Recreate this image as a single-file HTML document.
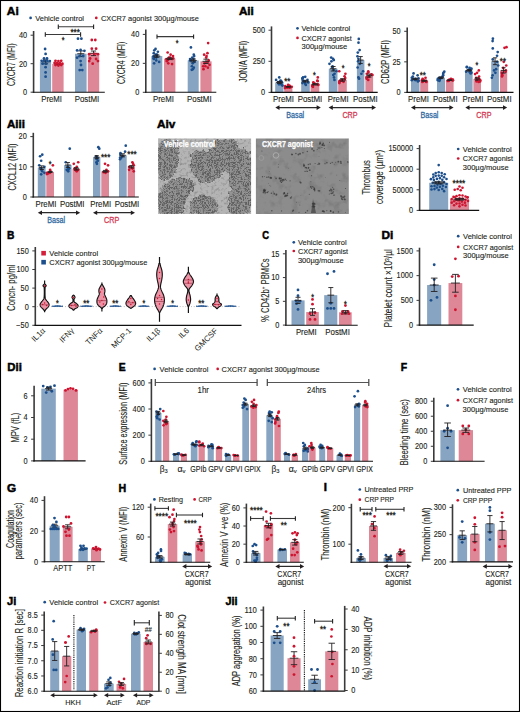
<!DOCTYPE html>
<html><head><meta charset="utf-8"><style>html,body{margin:0;padding:0;background:#fff;width:520px;height:712px;overflow:hidden;}</style></head><body>
<svg width="520" height="712" viewBox="0 0 520 712" style="position:absolute;left:0;top:0" font-family="&quot;Liberation Sans&quot;, sans-serif">
<rect x="0.00" y="0.00" width="520.00" height="712.00" fill="#fff"/>
<text x="6.85" y="15.20" font-size="11.6" fill="#000" font-weight="bold" textLength="11.899999999999999" lengthAdjust="spacingAndGlyphs" stroke="#000" stroke-width="0.5">Ai</text>
<circle cx="30.60" cy="17.90" r="1.35" fill="#1c4f8c"/>
<text x="35.20" y="20.59" font-size="7.8" fill="#231f20" stroke="#231f20" stroke-width="0.12" textLength="48.8" lengthAdjust="spacingAndGlyphs" >Vehicle control</text>
<circle cx="96.30" cy="17.90" r="1.35" fill="#cf1430"/>
<text x="100.90" y="20.59" font-size="7.8" fill="#231f20" stroke="#231f20" stroke-width="0.12" textLength="98" lengthAdjust="spacingAndGlyphs" >CXCR7 agonist 300µg/mouse</text>
<line x1="33.60" y1="31.00" x2="33.60" y2="92.70" stroke="#3a3a3a" stroke-width="1.6" />
<line x1="30.60" y1="92.20" x2="33.60" y2="92.20" stroke="#3a3a3a" stroke-width="1.0" />
<text x="27.10" y="95.03" font-size="8.2" fill="#231f20" stroke="#231f20" stroke-width="0.12" text-anchor="end" textLength="4.1" lengthAdjust="spacingAndGlyphs" >0</text>
<line x1="30.60" y1="63.70" x2="33.60" y2="63.70" stroke="#3a3a3a" stroke-width="1.0" />
<text x="27.10" y="66.53" font-size="8.2" fill="#231f20" stroke="#231f20" stroke-width="0.12" text-anchor="end" textLength="8.2" lengthAdjust="spacingAndGlyphs" >20</text>
<line x1="30.60" y1="35.20" x2="33.60" y2="35.20" stroke="#3a3a3a" stroke-width="1.0" />
<text x="27.10" y="38.03" font-size="8.2" fill="#231f20" stroke="#231f20" stroke-width="0.12" text-anchor="end" textLength="8.2" lengthAdjust="spacingAndGlyphs" >40</text>
<rect x="39.90" y="61.85" width="11.20" height="30.35" fill="#87a5c3"/>
<line x1="45.50" y1="59.85" x2="45.50" y2="63.84" stroke="#231f20" stroke-width="0.9" />
<line x1="42.90" y1="59.85" x2="48.10" y2="59.85" stroke="#231f20" stroke-width="0.9" />
<line x1="42.90" y1="63.84" x2="48.10" y2="63.84" stroke="#231f20" stroke-width="0.9" />
<line x1="41.99" y1="61.85" x2="49.01" y2="61.85" stroke="#231f20" stroke-width="0.9" />
<circle cx="45.10" cy="49.00" r="1.4" fill="#1c4f8c"/>
<circle cx="45.60" cy="53.90" r="1.4" fill="#1c4f8c"/>
<circle cx="44.00" cy="58.50" r="1.4" fill="#1c4f8c"/>
<circle cx="47.00" cy="58.50" r="1.4" fill="#1c4f8c"/>
<circle cx="41.60" cy="60.80" r="1.4" fill="#1c4f8c"/>
<circle cx="44.20" cy="60.80" r="1.4" fill="#1c4f8c"/>
<circle cx="47.30" cy="60.80" r="1.4" fill="#1c4f8c"/>
<circle cx="49.80" cy="61.10" r="1.4" fill="#1c4f8c"/>
<circle cx="42.50" cy="63.70" r="1.4" fill="#1c4f8c"/>
<circle cx="46.00" cy="63.70" r="1.4" fill="#1c4f8c"/>
<circle cx="45.60" cy="67.20" r="1.4" fill="#1c4f8c"/>
<circle cx="45.60" cy="72.40" r="1.4" fill="#1c4f8c"/>
<circle cx="45.60" cy="76.70" r="1.4" fill="#1c4f8c"/>
<rect x="52.20" y="63.98" width="11.40" height="28.22" fill="#de8797"/>
<line x1="57.90" y1="63.27" x2="57.90" y2="64.70" stroke="#231f20" stroke-width="0.9" />
<line x1="55.30" y1="63.27" x2="60.50" y2="63.27" stroke="#231f20" stroke-width="0.9" />
<line x1="55.30" y1="64.70" x2="60.50" y2="64.70" stroke="#231f20" stroke-width="0.9" />
<line x1="54.39" y1="63.98" x2="61.41" y2="63.98" stroke="#231f20" stroke-width="0.9" />
<circle cx="55.50" cy="60.80" r="1.4" fill="#cf1430"/>
<circle cx="58.40" cy="61.10" r="1.4" fill="#cf1430"/>
<circle cx="61.20" cy="60.80" r="1.4" fill="#cf1430"/>
<circle cx="54.60" cy="62.90" r="1.4" fill="#cf1430"/>
<circle cx="57.20" cy="63.20" r="1.4" fill="#cf1430"/>
<circle cx="59.80" cy="63.20" r="1.4" fill="#cf1430"/>
<circle cx="62.40" cy="63.70" r="1.4" fill="#cf1430"/>
<circle cx="55.50" cy="65.10" r="1.4" fill="#cf1430"/>
<circle cx="58.40" cy="65.50" r="1.4" fill="#cf1430"/>
<circle cx="61.20" cy="65.10" r="1.4" fill="#cf1430"/>
<rect x="75.00" y="53.73" width="11.60" height="38.48" fill="#87a5c3"/>
<line x1="80.80" y1="50.88" x2="80.80" y2="56.58" stroke="#231f20" stroke-width="0.9" />
<line x1="78.20" y1="50.88" x2="83.40" y2="50.88" stroke="#231f20" stroke-width="0.9" />
<line x1="78.20" y1="56.58" x2="83.40" y2="56.58" stroke="#231f20" stroke-width="0.9" />
<line x1="77.29" y1="53.73" x2="84.31" y2="53.73" stroke="#231f20" stroke-width="0.9" />
<circle cx="78.00" cy="38.70" r="1.4" fill="#1c4f8c"/>
<circle cx="81.40" cy="38.70" r="1.4" fill="#1c4f8c"/>
<circle cx="77.10" cy="50.40" r="1.4" fill="#1c4f8c"/>
<circle cx="80.60" cy="49.90" r="1.4" fill="#1c4f8c"/>
<circle cx="84.40" cy="50.80" r="1.4" fill="#1c4f8c"/>
<circle cx="79.70" cy="56.00" r="1.4" fill="#1c4f8c"/>
<circle cx="83.20" cy="56.00" r="1.4" fill="#1c4f8c"/>
<circle cx="77.10" cy="57.70" r="1.4" fill="#1c4f8c"/>
<circle cx="80.60" cy="61.10" r="1.4" fill="#1c4f8c"/>
<circle cx="79.70" cy="70.10" r="1.4" fill="#1c4f8c"/>
<circle cx="82.30" cy="70.10" r="1.4" fill="#1c4f8c"/>
<circle cx="81.00" cy="65.00" r="1.4" fill="#1c4f8c"/>
<rect x="87.80" y="53.30" width="11.40" height="38.90" fill="#de8797"/>
<line x1="93.50" y1="51.02" x2="93.50" y2="55.58" stroke="#231f20" stroke-width="0.9" />
<line x1="90.90" y1="51.02" x2="96.10" y2="51.02" stroke="#231f20" stroke-width="0.9" />
<line x1="90.90" y1="55.58" x2="96.10" y2="55.58" stroke="#231f20" stroke-width="0.9" />
<line x1="89.99" y1="53.30" x2="97.01" y2="53.30" stroke="#231f20" stroke-width="0.9" />
<circle cx="91.80" cy="40.00" r="1.4" fill="#cf1430"/>
<circle cx="95.30" cy="40.00" r="1.4" fill="#cf1430"/>
<circle cx="91.80" cy="48.70" r="1.4" fill="#cf1430"/>
<circle cx="96.10" cy="48.70" r="1.4" fill="#cf1430"/>
<circle cx="89.20" cy="54.20" r="1.4" fill="#cf1430"/>
<circle cx="94.40" cy="53.90" r="1.4" fill="#cf1430"/>
<circle cx="97.90" cy="54.20" r="1.4" fill="#cf1430"/>
<circle cx="90.10" cy="58.50" r="1.4" fill="#cf1430"/>
<circle cx="96.10" cy="59.00" r="1.4" fill="#cf1430"/>
<circle cx="89.20" cy="61.10" r="1.4" fill="#cf1430"/>
<circle cx="97.90" cy="61.10" r="1.4" fill="#cf1430"/>
<circle cx="92.70" cy="63.70" r="1.4" fill="#cf1430"/>
<line x1="32.80" y1="92.20" x2="104.80" y2="92.20" stroke="#111" stroke-width="1.1" />
<line x1="58.30" y1="26.70" x2="93.60" y2="26.70" stroke="#3a3a3a" stroke-width="1.1" />
<line x1="58.30" y1="24.50" x2="58.30" y2="28.90" stroke="#222" stroke-width="1.1" />
<line x1="93.60" y1="24.50" x2="93.60" y2="28.90" stroke="#222" stroke-width="1.1" />
<text x="75.20" y="35.35" font-size="9.0" fill="#231f20" stroke="#231f20" text-anchor="middle" textLength="9.450000000000001" lengthAdjust="spacingAndGlyphs" stroke-width="0.35">***</text>
<line x1="45.30" y1="34.50" x2="80.60" y2="34.50" stroke="#3a3a3a" stroke-width="1.1" />
<line x1="45.30" y1="32.30" x2="45.30" y2="36.70" stroke="#222" stroke-width="1.1" />
<line x1="80.60" y1="32.30" x2="80.60" y2="36.70" stroke="#222" stroke-width="1.1" />
<text x="63.10" y="42.95" font-size="9.0" fill="#231f20" stroke="#231f20" text-anchor="middle" textLength="2.75" lengthAdjust="spacingAndGlyphs" stroke-width="0.35">*</text>
<text x="51.60" y="101.90" font-size="8.4" fill="#231f20" stroke="#231f20" stroke-width="0.12" text-anchor="middle" textLength="20.8" lengthAdjust="spacingAndGlyphs" >PreMI</text>
<text x="87.00" y="101.90" font-size="8.4" fill="#231f20" stroke="#231f20" stroke-width="0.12" text-anchor="middle" textLength="24.6" lengthAdjust="spacingAndGlyphs" >PostMI</text>
<text transform="translate(15.20,64.70) rotate(-90)" font-size="10.0" fill="#231f20" text-anchor="middle" stroke="#231f20" stroke-width="0.12" textLength="42.5" lengthAdjust="spacingAndGlyphs">CXCR7 (MFI)</text>
<line x1="145.80" y1="29.50" x2="145.80" y2="92.80" stroke="#3a3a3a" stroke-width="1.6" />
<line x1="142.80" y1="92.30" x2="145.80" y2="92.30" stroke="#3a3a3a" stroke-width="1.0" />
<text x="139.30" y="95.13" font-size="8.2" fill="#231f20" stroke="#231f20" stroke-width="0.12" text-anchor="end" textLength="4.1" lengthAdjust="spacingAndGlyphs" >0</text>
<line x1="142.80" y1="63.35" x2="145.80" y2="63.35" stroke="#3a3a3a" stroke-width="1.0" />
<text x="139.30" y="66.18" font-size="8.2" fill="#231f20" stroke="#231f20" stroke-width="0.12" text-anchor="end" textLength="8.2" lengthAdjust="spacingAndGlyphs" >20</text>
<line x1="142.80" y1="34.40" x2="145.80" y2="34.40" stroke="#3a3a3a" stroke-width="1.0" />
<text x="139.30" y="37.23" font-size="8.2" fill="#231f20" stroke="#231f20" stroke-width="0.12" text-anchor="end" textLength="8.2" lengthAdjust="spacingAndGlyphs" >40</text>
<rect x="151.30" y="56.11" width="11.00" height="36.19" fill="#87a5c3"/>
<circle cx="155.54" cy="48.88" r="1.35" fill="#1c4f8c"/>
<circle cx="154.30" cy="50.32" r="1.35" fill="#1c4f8c"/>
<circle cx="157.88" cy="51.77" r="1.35" fill="#1c4f8c"/>
<circle cx="153.74" cy="53.22" r="1.35" fill="#1c4f8c"/>
<circle cx="157.06" cy="54.66" r="1.35" fill="#1c4f8c"/>
<circle cx="155.84" cy="54.66" r="1.35" fill="#1c4f8c"/>
<circle cx="153.64" cy="56.11" r="1.35" fill="#1c4f8c"/>
<circle cx="156.85" cy="56.11" r="1.35" fill="#1c4f8c"/>
<circle cx="153.49" cy="56.84" r="1.35" fill="#1c4f8c"/>
<circle cx="156.33" cy="57.56" r="1.35" fill="#1c4f8c"/>
<circle cx="153.72" cy="58.28" r="1.35" fill="#1c4f8c"/>
<circle cx="153.87" cy="59.01" r="1.35" fill="#1c4f8c"/>
<circle cx="156.26" cy="60.45" r="1.35" fill="#1c4f8c"/>
<circle cx="159.14" cy="61.90" r="1.35" fill="#1c4f8c"/>
<circle cx="154.11" cy="63.35" r="1.35" fill="#1c4f8c"/>
<line x1="156.80" y1="54.95" x2="156.80" y2="57.27" stroke="#231f20" stroke-width="0.9" />
<line x1="154.20" y1="54.95" x2="159.40" y2="54.95" stroke="#231f20" stroke-width="0.9" />
<line x1="154.20" y1="57.27" x2="159.40" y2="57.27" stroke="#231f20" stroke-width="0.9" />
<line x1="153.29" y1="56.11" x2="160.31" y2="56.11" stroke="#231f20" stroke-width="0.9" />
<rect x="164.00" y="58.72" width="11.40" height="33.58" fill="#de8797"/>
<circle cx="167.65" cy="52.49" r="1.35" fill="#cf1430"/>
<circle cx="170.64" cy="54.66" r="1.35" fill="#cf1430"/>
<circle cx="173.02" cy="56.11" r="1.35" fill="#cf1430"/>
<circle cx="170.27" cy="57.56" r="1.35" fill="#cf1430"/>
<circle cx="168.93" cy="57.56" r="1.35" fill="#cf1430"/>
<circle cx="173.23" cy="58.28" r="1.35" fill="#cf1430"/>
<circle cx="166.34" cy="59.01" r="1.35" fill="#cf1430"/>
<circle cx="172.36" cy="59.01" r="1.35" fill="#cf1430"/>
<circle cx="168.14" cy="59.73" r="1.35" fill="#cf1430"/>
<circle cx="167.06" cy="60.45" r="1.35" fill="#cf1430"/>
<circle cx="166.87" cy="61.18" r="1.35" fill="#cf1430"/>
<circle cx="168.28" cy="63.35" r="1.35" fill="#cf1430"/>
<circle cx="172.04" cy="64.07" r="1.35" fill="#cf1430"/>
<line x1="169.70" y1="57.85" x2="169.70" y2="59.59" stroke="#231f20" stroke-width="0.9" />
<line x1="167.10" y1="57.85" x2="172.30" y2="57.85" stroke="#231f20" stroke-width="0.9" />
<line x1="167.10" y1="59.59" x2="172.30" y2="59.59" stroke="#231f20" stroke-width="0.9" />
<line x1="166.19" y1="58.72" x2="173.21" y2="58.72" stroke="#231f20" stroke-width="0.9" />
<rect x="187.70" y="60.45" width="11.00" height="31.84" fill="#87a5c3"/>
<circle cx="190.92" cy="47.43" r="1.35" fill="#1c4f8c"/>
<circle cx="193.78" cy="54.66" r="1.35" fill="#1c4f8c"/>
<circle cx="194.19" cy="56.11" r="1.35" fill="#1c4f8c"/>
<circle cx="192.29" cy="57.56" r="1.35" fill="#1c4f8c"/>
<circle cx="193.54" cy="59.01" r="1.35" fill="#1c4f8c"/>
<circle cx="190.07" cy="59.01" r="1.35" fill="#1c4f8c"/>
<circle cx="190.05" cy="60.45" r="1.35" fill="#1c4f8c"/>
<circle cx="191.10" cy="60.45" r="1.35" fill="#1c4f8c"/>
<circle cx="194.49" cy="61.90" r="1.35" fill="#1c4f8c"/>
<circle cx="192.68" cy="63.35" r="1.35" fill="#1c4f8c"/>
<circle cx="191.87" cy="66.25" r="1.35" fill="#1c4f8c"/>
<circle cx="193.81" cy="67.69" r="1.35" fill="#1c4f8c"/>
<circle cx="192.87" cy="69.14" r="1.35" fill="#1c4f8c"/>
<circle cx="191.77" cy="69.86" r="1.35" fill="#1c4f8c"/>
<line x1="193.20" y1="59.01" x2="193.20" y2="61.90" stroke="#231f20" stroke-width="0.9" />
<line x1="190.60" y1="59.01" x2="195.80" y2="59.01" stroke="#231f20" stroke-width="0.9" />
<line x1="190.60" y1="61.90" x2="195.80" y2="61.90" stroke="#231f20" stroke-width="0.9" />
<line x1="189.69" y1="60.45" x2="196.71" y2="60.45" stroke="#231f20" stroke-width="0.9" />
<rect x="200.40" y="61.32" width="11.20" height="30.98" fill="#de8797"/>
<circle cx="208.14" cy="43.08" r="1.35" fill="#cf1430"/>
<circle cx="207.45" cy="53.22" r="1.35" fill="#cf1430"/>
<circle cx="204.14" cy="54.66" r="1.35" fill="#cf1430"/>
<circle cx="206.54" cy="56.11" r="1.35" fill="#cf1430"/>
<circle cx="206.18" cy="57.56" r="1.35" fill="#cf1430"/>
<circle cx="208.73" cy="60.45" r="1.35" fill="#cf1430"/>
<circle cx="207.67" cy="61.90" r="1.35" fill="#cf1430"/>
<circle cx="204.46" cy="63.35" r="1.35" fill="#cf1430"/>
<circle cx="209.50" cy="64.80" r="1.35" fill="#cf1430"/>
<circle cx="203.22" cy="66.25" r="1.35" fill="#cf1430"/>
<circle cx="205.40" cy="66.25" r="1.35" fill="#cf1430"/>
<circle cx="207.87" cy="67.69" r="1.35" fill="#cf1430"/>
<circle cx="203.47" cy="69.14" r="1.35" fill="#cf1430"/>
<line x1="206.00" y1="59.15" x2="206.00" y2="63.49" stroke="#231f20" stroke-width="0.9" />
<line x1="203.40" y1="59.15" x2="208.60" y2="59.15" stroke="#231f20" stroke-width="0.9" />
<line x1="203.40" y1="63.49" x2="208.60" y2="63.49" stroke="#231f20" stroke-width="0.9" />
<line x1="202.49" y1="61.32" x2="209.51" y2="61.32" stroke="#231f20" stroke-width="0.9" />
<line x1="145.00" y1="92.30" x2="216.30" y2="92.30" stroke="#111" stroke-width="1.1" />
<line x1="157.00" y1="36.60" x2="193.60" y2="36.60" stroke="#3a3a3a" stroke-width="1.1" />
<line x1="157.00" y1="34.40" x2="157.00" y2="38.80" stroke="#222" stroke-width="1.1" />
<line x1="193.60" y1="34.40" x2="193.60" y2="38.80" stroke="#222" stroke-width="1.1" />
<text x="177.00" y="46.35" font-size="9.0" fill="#231f20" stroke="#231f20" text-anchor="middle" textLength="2.75" lengthAdjust="spacingAndGlyphs" stroke-width="0.35">*</text>
<text x="163.40" y="101.90" font-size="8.4" fill="#231f20" stroke="#231f20" stroke-width="0.12" text-anchor="middle" textLength="20.8" lengthAdjust="spacingAndGlyphs" >PreMI</text>
<text x="199.30" y="101.90" font-size="8.4" fill="#231f20" stroke="#231f20" stroke-width="0.12" text-anchor="middle" textLength="24.6" lengthAdjust="spacingAndGlyphs" >PostMI</text>
<text transform="translate(125.40,62.90) rotate(-90)" font-size="10.0" fill="#231f20" text-anchor="middle" stroke="#231f20" stroke-width="0.12" textLength="42.3" lengthAdjust="spacingAndGlyphs">CXCR4 (MFI)</text>
<text x="238.95" y="15.20" font-size="11.6" fill="#000" font-weight="bold" textLength="14.899999999999999" lengthAdjust="spacingAndGlyphs" stroke="#000" stroke-width="0.5">Aii</text>
<line x1="271.50" y1="26.40" x2="271.50" y2="92.90" stroke="#3a3a3a" stroke-width="1.6" />
<line x1="268.50" y1="92.40" x2="271.50" y2="92.40" stroke="#3a3a3a" stroke-width="1.0" />
<text x="265.00" y="95.23" font-size="8.2" fill="#231f20" stroke="#231f20" stroke-width="0.12" text-anchor="end" textLength="4.1" lengthAdjust="spacingAndGlyphs" >0</text>
<line x1="268.50" y1="61.30" x2="271.50" y2="61.30" stroke="#3a3a3a" stroke-width="1.0" />
<text x="265.00" y="64.13" font-size="8.2" fill="#231f20" stroke="#231f20" stroke-width="0.12" text-anchor="end" textLength="12.3" lengthAdjust="spacingAndGlyphs" >250</text>
<line x1="268.50" y1="30.20" x2="271.50" y2="30.20" stroke="#3a3a3a" stroke-width="1.0" />
<text x="265.00" y="33.03" font-size="8.2" fill="#231f20" stroke="#231f20" stroke-width="0.12" text-anchor="end" textLength="12.3" lengthAdjust="spacingAndGlyphs" >500</text>
<rect x="275.20" y="82.45" width="8.30" height="9.95" fill="#87a5c3"/>
<circle cx="279.27" cy="77.47" r="1.35" fill="#1c4f8c"/>
<circle cx="276.10" cy="79.96" r="1.35" fill="#1c4f8c"/>
<circle cx="280.54" cy="80.58" r="1.35" fill="#1c4f8c"/>
<circle cx="281.22" cy="81.20" r="1.35" fill="#1c4f8c"/>
<circle cx="279.87" cy="81.83" r="1.35" fill="#1c4f8c"/>
<circle cx="282.00" cy="82.45" r="1.35" fill="#1c4f8c"/>
<circle cx="278.04" cy="82.45" r="1.35" fill="#1c4f8c"/>
<circle cx="280.73" cy="83.07" r="1.35" fill="#1c4f8c"/>
<circle cx="280.02" cy="83.69" r="1.35" fill="#1c4f8c"/>
<circle cx="279.91" cy="83.69" r="1.35" fill="#1c4f8c"/>
<circle cx="279.04" cy="84.31" r="1.35" fill="#1c4f8c"/>
<circle cx="281.75" cy="84.94" r="1.35" fill="#1c4f8c"/>
<circle cx="282.49" cy="85.56" r="1.35" fill="#1c4f8c"/>
<line x1="279.35" y1="81.45" x2="279.35" y2="83.44" stroke="#231f20" stroke-width="0.9" />
<line x1="277.03" y1="81.45" x2="281.67" y2="81.45" stroke="#231f20" stroke-width="0.9" />
<line x1="277.03" y1="83.44" x2="281.67" y2="83.44" stroke="#231f20" stroke-width="0.9" />
<line x1="276.21" y1="82.45" x2="282.49" y2="82.45" stroke="#231f20" stroke-width="0.9" />
<rect x="284.20" y="86.80" width="8.20" height="5.60" fill="#de8797"/>
<circle cx="288.12" cy="84.94" r="1.35" fill="#cf1430"/>
<circle cx="289.44" cy="85.56" r="1.35" fill="#cf1430"/>
<circle cx="285.24" cy="86.18" r="1.35" fill="#cf1430"/>
<circle cx="289.70" cy="86.43" r="1.35" fill="#cf1430"/>
<circle cx="289.33" cy="86.80" r="1.35" fill="#cf1430"/>
<circle cx="291.74" cy="86.80" r="1.35" fill="#cf1430"/>
<circle cx="290.54" cy="87.18" r="1.35" fill="#cf1430"/>
<circle cx="286.80" cy="87.42" r="1.35" fill="#cf1430"/>
<circle cx="287.50" cy="87.42" r="1.35" fill="#cf1430"/>
<circle cx="289.48" cy="87.67" r="1.35" fill="#cf1430"/>
<circle cx="284.97" cy="88.05" r="1.35" fill="#cf1430"/>
<line x1="288.30" y1="86.43" x2="288.30" y2="87.18" stroke="#231f20" stroke-width="0.9" />
<line x1="286.00" y1="86.43" x2="290.60" y2="86.43" stroke="#231f20" stroke-width="0.9" />
<line x1="286.00" y1="87.18" x2="290.60" y2="87.18" stroke="#231f20" stroke-width="0.9" />
<line x1="285.20" y1="86.80" x2="291.40" y2="86.80" stroke="#231f20" stroke-width="0.9" />
<rect x="301.20" y="81.20" width="8.60" height="11.20" fill="#87a5c3"/>
<circle cx="305.22" cy="76.85" r="1.35" fill="#1c4f8c"/>
<circle cx="303.07" cy="77.47" r="1.35" fill="#1c4f8c"/>
<circle cx="302.70" cy="78.09" r="1.35" fill="#1c4f8c"/>
<circle cx="302.28" cy="78.72" r="1.35" fill="#1c4f8c"/>
<circle cx="307.46" cy="79.96" r="1.35" fill="#1c4f8c"/>
<circle cx="302.79" cy="80.58" r="1.35" fill="#1c4f8c"/>
<circle cx="303.66" cy="81.20" r="1.35" fill="#1c4f8c"/>
<circle cx="304.70" cy="81.83" r="1.35" fill="#1c4f8c"/>
<circle cx="308.22" cy="82.45" r="1.35" fill="#1c4f8c"/>
<circle cx="302.43" cy="83.07" r="1.35" fill="#1c4f8c"/>
<circle cx="305.13" cy="83.69" r="1.35" fill="#1c4f8c"/>
<circle cx="305.86" cy="84.94" r="1.35" fill="#1c4f8c"/>
<line x1="305.50" y1="80.33" x2="305.50" y2="82.07" stroke="#231f20" stroke-width="0.9" />
<line x1="303.09" y1="80.33" x2="307.91" y2="80.33" stroke="#231f20" stroke-width="0.9" />
<line x1="303.09" y1="82.07" x2="307.91" y2="82.07" stroke="#231f20" stroke-width="0.9" />
<line x1="302.25" y1="81.20" x2="308.75" y2="81.20" stroke="#231f20" stroke-width="0.9" />
<rect x="310.60" y="84.31" width="8.70" height="8.09" fill="#de8797"/>
<circle cx="317.79" cy="77.47" r="1.35" fill="#cf1430"/>
<circle cx="317.31" cy="80.58" r="1.35" fill="#cf1430"/>
<circle cx="317.64" cy="81.20" r="1.35" fill="#cf1430"/>
<circle cx="313.31" cy="82.45" r="1.35" fill="#cf1430"/>
<circle cx="314.32" cy="83.07" r="1.35" fill="#cf1430"/>
<circle cx="313.91" cy="83.69" r="1.35" fill="#cf1430"/>
<circle cx="317.79" cy="84.31" r="1.35" fill="#cf1430"/>
<circle cx="318.33" cy="84.94" r="1.35" fill="#cf1430"/>
<circle cx="312.37" cy="85.56" r="1.35" fill="#cf1430"/>
<circle cx="312.56" cy="86.18" r="1.35" fill="#cf1430"/>
<circle cx="312.97" cy="86.80" r="1.35" fill="#cf1430"/>
<line x1="314.95" y1="83.57" x2="314.95" y2="85.06" stroke="#231f20" stroke-width="0.9" />
<line x1="312.51" y1="83.57" x2="317.39" y2="83.57" stroke="#231f20" stroke-width="0.9" />
<line x1="312.51" y1="85.06" x2="317.39" y2="85.06" stroke="#231f20" stroke-width="0.9" />
<line x1="311.66" y1="84.31" x2="318.24" y2="84.31" stroke="#231f20" stroke-width="0.9" />
<rect x="328.80" y="68.76" width="8.70" height="23.64" fill="#87a5c3"/>
<circle cx="331.18" cy="57.57" r="1.35" fill="#1c4f8c"/>
<circle cx="333.04" cy="58.81" r="1.35" fill="#1c4f8c"/>
<circle cx="333.81" cy="60.06" r="1.35" fill="#1c4f8c"/>
<circle cx="331.40" cy="61.30" r="1.35" fill="#1c4f8c"/>
<circle cx="329.48" cy="63.79" r="1.35" fill="#1c4f8c"/>
<circle cx="332.55" cy="66.28" r="1.35" fill="#1c4f8c"/>
<circle cx="332.18" cy="67.52" r="1.35" fill="#1c4f8c"/>
<circle cx="333.64" cy="70.01" r="1.35" fill="#1c4f8c"/>
<circle cx="336.50" cy="71.25" r="1.35" fill="#1c4f8c"/>
<circle cx="334.56" cy="73.74" r="1.35" fill="#1c4f8c"/>
<circle cx="333.26" cy="74.98" r="1.35" fill="#1c4f8c"/>
<circle cx="334.02" cy="77.47" r="1.35" fill="#1c4f8c"/>
<circle cx="334.45" cy="79.96" r="1.35" fill="#1c4f8c"/>
<line x1="333.15" y1="66.52" x2="333.15" y2="71.00" stroke="#231f20" stroke-width="0.9" />
<line x1="330.71" y1="66.52" x2="335.59" y2="66.52" stroke="#231f20" stroke-width="0.9" />
<line x1="330.71" y1="71.00" x2="335.59" y2="71.00" stroke="#231f20" stroke-width="0.9" />
<line x1="329.86" y1="68.76" x2="336.44" y2="68.76" stroke="#231f20" stroke-width="0.9" />
<rect x="338.20" y="79.96" width="8.60" height="12.44" fill="#de8797"/>
<circle cx="339.24" cy="71.25" r="1.35" fill="#cf1430"/>
<circle cx="345.42" cy="73.74" r="1.35" fill="#cf1430"/>
<circle cx="344.55" cy="76.23" r="1.35" fill="#cf1430"/>
<circle cx="345.24" cy="78.09" r="1.35" fill="#cf1430"/>
<circle cx="344.68" cy="79.34" r="1.35" fill="#cf1430"/>
<circle cx="341.71" cy="79.96" r="1.35" fill="#cf1430"/>
<circle cx="341.76" cy="80.58" r="1.35" fill="#cf1430"/>
<circle cx="339.60" cy="81.20" r="1.35" fill="#cf1430"/>
<circle cx="343.48" cy="81.83" r="1.35" fill="#cf1430"/>
<circle cx="339.30" cy="82.45" r="1.35" fill="#cf1430"/>
<circle cx="339.34" cy="83.07" r="1.35" fill="#cf1430"/>
<line x1="342.50" y1="78.72" x2="342.50" y2="81.20" stroke="#231f20" stroke-width="0.9" />
<line x1="340.09" y1="78.72" x2="344.91" y2="78.72" stroke="#231f20" stroke-width="0.9" />
<line x1="340.09" y1="81.20" x2="344.91" y2="81.20" stroke="#231f20" stroke-width="0.9" />
<line x1="339.25" y1="79.96" x2="345.75" y2="79.96" stroke="#231f20" stroke-width="0.9" />
<rect x="356.90" y="60.06" width="7.50" height="32.34" fill="#87a5c3"/>
<circle cx="358.79" cy="38.91" r="1.35" fill="#1c4f8c"/>
<circle cx="358.50" cy="42.64" r="1.35" fill="#1c4f8c"/>
<circle cx="359.63" cy="50.10" r="1.35" fill="#1c4f8c"/>
<circle cx="357.80" cy="52.59" r="1.35" fill="#1c4f8c"/>
<circle cx="357.46" cy="56.32" r="1.35" fill="#1c4f8c"/>
<circle cx="358.43" cy="58.81" r="1.35" fill="#1c4f8c"/>
<circle cx="358.11" cy="61.30" r="1.35" fill="#1c4f8c"/>
<circle cx="359.78" cy="63.79" r="1.35" fill="#1c4f8c"/>
<circle cx="357.63" cy="67.52" r="1.35" fill="#1c4f8c"/>
<circle cx="363.04" cy="71.25" r="1.35" fill="#1c4f8c"/>
<circle cx="361.38" cy="73.74" r="1.35" fill="#1c4f8c"/>
<circle cx="358.41" cy="77.47" r="1.35" fill="#1c4f8c"/>
<circle cx="359.07" cy="78.72" r="1.35" fill="#1c4f8c"/>
<line x1="360.65" y1="56.57" x2="360.65" y2="63.54" stroke="#231f20" stroke-width="0.9" />
<line x1="358.55" y1="56.57" x2="362.75" y2="56.57" stroke="#231f20" stroke-width="0.9" />
<line x1="358.55" y1="63.54" x2="362.75" y2="63.54" stroke="#231f20" stroke-width="0.9" />
<line x1="357.81" y1="60.06" x2="363.48" y2="60.06" stroke="#231f20" stroke-width="0.9" />
<rect x="365.40" y="75.61" width="7.70" height="16.79" fill="#de8797"/>
<circle cx="368.25" cy="71.25" r="1.35" fill="#cf1430"/>
<circle cx="368.36" cy="72.50" r="1.35" fill="#cf1430"/>
<circle cx="366.78" cy="73.74" r="1.35" fill="#cf1430"/>
<circle cx="371.53" cy="74.36" r="1.35" fill="#cf1430"/>
<circle cx="372.48" cy="74.98" r="1.35" fill="#cf1430"/>
<circle cx="369.03" cy="76.23" r="1.35" fill="#cf1430"/>
<circle cx="369.14" cy="76.85" r="1.35" fill="#cf1430"/>
<circle cx="366.54" cy="77.47" r="1.35" fill="#cf1430"/>
<circle cx="366.65" cy="78.72" r="1.35" fill="#cf1430"/>
<circle cx="368.22" cy="79.96" r="1.35" fill="#cf1430"/>
<line x1="369.25" y1="74.11" x2="369.25" y2="77.10" stroke="#231f20" stroke-width="0.9" />
<line x1="367.09" y1="74.11" x2="371.41" y2="74.11" stroke="#231f20" stroke-width="0.9" />
<line x1="367.09" y1="77.10" x2="371.41" y2="77.10" stroke="#231f20" stroke-width="0.9" />
<line x1="366.34" y1="75.61" x2="372.16" y2="75.61" stroke="#231f20" stroke-width="0.9" />
<line x1="270.70" y1="92.40" x2="377.70" y2="92.40" stroke="#111" stroke-width="1.1" />
<text x="287.30" y="83.65" font-size="9.0" fill="#231f20" stroke="#231f20" text-anchor="middle" textLength="6.1000000000000005" lengthAdjust="spacingAndGlyphs" stroke-width="0.35">**</text>
<text x="314.40" y="77.75" font-size="9.0" fill="#231f20" stroke="#231f20" text-anchor="middle" textLength="2.75" lengthAdjust="spacingAndGlyphs" stroke-width="0.35">*</text>
<text x="343.00" y="70.75" font-size="9.0" fill="#231f20" stroke="#231f20" text-anchor="middle" textLength="2.75" lengthAdjust="spacingAndGlyphs" stroke-width="0.35">*</text>
<text x="369.00" y="68.65" font-size="9.0" fill="#231f20" stroke="#231f20" text-anchor="middle" textLength="2.75" lengthAdjust="spacingAndGlyphs" stroke-width="0.35">*</text>
<text x="283.50" y="101.90" font-size="8.4" fill="#231f20" stroke="#231f20" stroke-width="0.12" text-anchor="middle" textLength="20.8" lengthAdjust="spacingAndGlyphs" >PreMI</text>
<text x="310.00" y="101.90" font-size="8.4" fill="#231f20" stroke="#231f20" stroke-width="0.12" text-anchor="middle" textLength="24.6" lengthAdjust="spacingAndGlyphs" >PostMI</text>
<text x="338.20" y="101.90" font-size="8.4" fill="#231f20" stroke="#231f20" stroke-width="0.12" text-anchor="middle" textLength="20.8" lengthAdjust="spacingAndGlyphs" >PreMI</text>
<text x="365.40" y="101.90" font-size="8.4" fill="#231f20" stroke="#231f20" stroke-width="0.12" text-anchor="middle" textLength="24.6" lengthAdjust="spacingAndGlyphs" >PostMI</text>
<line x1="277.82" y1="107.60" x2="318.28" y2="107.60" stroke="#2a2a2a" stroke-width="1.25" />
<path d="M275.30,107.60 L279.50,105.30 L279.50,109.90 Z" fill="#231f20"/>
<path d="M320.80,107.60 L316.60,105.30 L316.60,109.90 Z" fill="#231f20"/>
<line x1="331.12" y1="107.60" x2="373.48" y2="107.60" stroke="#2a2a2a" stroke-width="1.25" />
<path d="M328.60,107.60 L332.80,105.30 L332.80,109.90 Z" fill="#231f20"/>
<path d="M376.00,107.60 L371.80,105.30 L371.80,109.90 Z" fill="#231f20"/>
<text x="295.25" y="118.30" font-size="8.7" fill="#2f69a2" stroke="#2f69a2" text-anchor="middle" textLength="17.9" lengthAdjust="spacingAndGlyphs" stroke-width="0.3">Basal</text>
<text x="350.00" y="118.30" font-size="8.7" fill="#d43a56" stroke="#d43a56" text-anchor="middle" textLength="15.2" lengthAdjust="spacingAndGlyphs" stroke-width="0.3">CRP</text>
<text transform="translate(246.60,61.50) rotate(-90)" font-size="10.0" fill="#231f20" text-anchor="middle" stroke="#231f20" stroke-width="0.12" textLength="41.5" lengthAdjust="spacingAndGlyphs">JON/A (MFI)</text>
<circle cx="297.50" cy="28.30" r="1.35" fill="#1c4f8c"/>
<text x="301.50" y="30.99" font-size="7.8" fill="#231f20" stroke="#231f20" stroke-width="0.12" textLength="48.8" lengthAdjust="spacingAndGlyphs" >Vehicle control</text>
<circle cx="297.50" cy="37.90" r="1.35" fill="#cf1430"/>
<text x="301.50" y="40.59" font-size="7.8" fill="#231f20" stroke="#231f20" stroke-width="0.12" textLength="50.2" lengthAdjust="spacingAndGlyphs" >CXCR7 agonist</text>
<text x="301.50" y="49.49" font-size="7.8" fill="#231f20" stroke="#231f20" stroke-width="0.12" textLength="45.8" lengthAdjust="spacingAndGlyphs" >300µg/mouse</text>
<line x1="407.20" y1="27.40" x2="407.20" y2="92.90" stroke="#3a3a3a" stroke-width="1.6" />
<line x1="404.20" y1="92.40" x2="407.20" y2="92.40" stroke="#3a3a3a" stroke-width="1.0" />
<text x="400.70" y="95.23" font-size="8.2" fill="#231f20" stroke="#231f20" stroke-width="0.12" text-anchor="end" textLength="4.1" lengthAdjust="spacingAndGlyphs" >0</text>
<line x1="404.20" y1="61.85" x2="407.20" y2="61.85" stroke="#3a3a3a" stroke-width="1.0" />
<text x="400.70" y="64.68" font-size="8.2" fill="#231f20" stroke="#231f20" stroke-width="0.12" text-anchor="end" textLength="8.2" lengthAdjust="spacingAndGlyphs" >25</text>
<line x1="404.20" y1="31.30" x2="407.20" y2="31.30" stroke="#3a3a3a" stroke-width="1.0" />
<text x="400.70" y="34.13" font-size="8.2" fill="#231f20" stroke="#231f20" stroke-width="0.12" text-anchor="end" textLength="8.2" lengthAdjust="spacingAndGlyphs" >50</text>
<rect x="411.00" y="78.96" width="8.50" height="13.44" fill="#87a5c3"/>
<circle cx="413.55" cy="73.46" r="1.35" fill="#1c4f8c"/>
<circle cx="417.63" cy="75.29" r="1.35" fill="#1c4f8c"/>
<circle cx="412.80" cy="76.51" r="1.35" fill="#1c4f8c"/>
<circle cx="411.80" cy="77.74" r="1.35" fill="#1c4f8c"/>
<circle cx="418.51" cy="78.35" r="1.35" fill="#1c4f8c"/>
<circle cx="415.45" cy="78.96" r="1.35" fill="#1c4f8c"/>
<circle cx="412.70" cy="78.96" r="1.35" fill="#1c4f8c"/>
<circle cx="415.56" cy="79.57" r="1.35" fill="#1c4f8c"/>
<circle cx="411.83" cy="80.18" r="1.35" fill="#1c4f8c"/>
<circle cx="415.45" cy="80.18" r="1.35" fill="#1c4f8c"/>
<circle cx="418.71" cy="80.79" r="1.35" fill="#1c4f8c"/>
<circle cx="417.88" cy="81.40" r="1.35" fill="#1c4f8c"/>
<line x1="415.25" y1="78.22" x2="415.25" y2="79.69" stroke="#231f20" stroke-width="0.9" />
<line x1="412.87" y1="78.22" x2="417.63" y2="78.22" stroke="#231f20" stroke-width="0.9" />
<line x1="412.87" y1="79.69" x2="417.63" y2="79.69" stroke="#231f20" stroke-width="0.9" />
<line x1="412.04" y1="78.96" x2="418.46" y2="78.96" stroke="#231f20" stroke-width="0.9" />
<rect x="420.20" y="80.79" width="8.00" height="11.61" fill="#de8797"/>
<circle cx="425.53" cy="77.74" r="1.35" fill="#cf1430"/>
<circle cx="422.58" cy="78.96" r="1.35" fill="#cf1430"/>
<circle cx="423.29" cy="79.57" r="1.35" fill="#cf1430"/>
<circle cx="421.94" cy="80.18" r="1.35" fill="#cf1430"/>
<circle cx="426.05" cy="80.79" r="1.35" fill="#cf1430"/>
<circle cx="424.42" cy="80.79" r="1.35" fill="#cf1430"/>
<circle cx="426.10" cy="81.40" r="1.35" fill="#cf1430"/>
<circle cx="423.04" cy="81.40" r="1.35" fill="#cf1430"/>
<circle cx="422.32" cy="82.01" r="1.35" fill="#cf1430"/>
<circle cx="426.32" cy="82.01" r="1.35" fill="#cf1430"/>
<line x1="424.20" y1="80.30" x2="424.20" y2="81.28" stroke="#231f20" stroke-width="0.9" />
<line x1="421.96" y1="80.30" x2="426.44" y2="80.30" stroke="#231f20" stroke-width="0.9" />
<line x1="421.96" y1="81.28" x2="426.44" y2="81.28" stroke="#231f20" stroke-width="0.9" />
<line x1="421.18" y1="80.79" x2="427.22" y2="80.79" stroke="#231f20" stroke-width="0.9" />
<rect x="437.00" y="77.74" width="8.00" height="14.66" fill="#87a5c3"/>
<circle cx="444.30" cy="71.63" r="1.35" fill="#1c4f8c"/>
<circle cx="443.40" cy="72.85" r="1.35" fill="#1c4f8c"/>
<circle cx="443.08" cy="74.07" r="1.35" fill="#1c4f8c"/>
<circle cx="443.16" cy="75.29" r="1.35" fill="#1c4f8c"/>
<circle cx="442.63" cy="76.51" r="1.35" fill="#1c4f8c"/>
<circle cx="439.14" cy="77.74" r="1.35" fill="#1c4f8c"/>
<circle cx="441.12" cy="77.74" r="1.35" fill="#1c4f8c"/>
<circle cx="440.02" cy="78.96" r="1.35" fill="#1c4f8c"/>
<circle cx="437.80" cy="78.96" r="1.35" fill="#1c4f8c"/>
<circle cx="437.79" cy="80.18" r="1.35" fill="#1c4f8c"/>
<circle cx="439.50" cy="80.18" r="1.35" fill="#1c4f8c"/>
<circle cx="439.36" cy="80.79" r="1.35" fill="#1c4f8c"/>
<line x1="441.00" y1="76.88" x2="441.00" y2="78.59" stroke="#231f20" stroke-width="0.9" />
<line x1="438.76" y1="76.88" x2="443.24" y2="76.88" stroke="#231f20" stroke-width="0.9" />
<line x1="438.76" y1="78.59" x2="443.24" y2="78.59" stroke="#231f20" stroke-width="0.9" />
<line x1="437.98" y1="77.74" x2="444.02" y2="77.74" stroke="#231f20" stroke-width="0.9" />
<rect x="445.80" y="80.18" width="7.80" height="12.22" fill="#de8797"/>
<circle cx="450.98" cy="78.96" r="1.35" fill="#cf1430"/>
<circle cx="452.73" cy="79.57" r="1.35" fill="#cf1430"/>
<circle cx="449.35" cy="79.57" r="1.35" fill="#cf1430"/>
<circle cx="452.60" cy="80.18" r="1.35" fill="#cf1430"/>
<circle cx="452.94" cy="80.18" r="1.35" fill="#cf1430"/>
<circle cx="452.72" cy="80.18" r="1.35" fill="#cf1430"/>
<circle cx="448.80" cy="80.79" r="1.35" fill="#cf1430"/>
<circle cx="447.85" cy="80.79" r="1.35" fill="#cf1430"/>
<circle cx="447.89" cy="80.79" r="1.35" fill="#cf1430"/>
<line x1="449.70" y1="79.81" x2="449.70" y2="80.55" stroke="#231f20" stroke-width="0.9" />
<line x1="447.52" y1="79.81" x2="451.88" y2="79.81" stroke="#231f20" stroke-width="0.9" />
<line x1="447.52" y1="80.55" x2="451.88" y2="80.55" stroke="#231f20" stroke-width="0.9" />
<line x1="446.75" y1="80.18" x2="452.65" y2="80.18" stroke="#231f20" stroke-width="0.9" />
<rect x="465.00" y="70.40" width="7.60" height="22.00" fill="#87a5c3"/>
<circle cx="466.84" cy="66.74" r="1.35" fill="#1c4f8c"/>
<circle cx="466.89" cy="67.35" r="1.35" fill="#1c4f8c"/>
<circle cx="469.60" cy="67.96" r="1.35" fill="#1c4f8c"/>
<circle cx="471.39" cy="68.57" r="1.35" fill="#1c4f8c"/>
<circle cx="471.00" cy="69.18" r="1.35" fill="#1c4f8c"/>
<circle cx="468.67" cy="69.79" r="1.35" fill="#1c4f8c"/>
<circle cx="469.79" cy="70.40" r="1.35" fill="#1c4f8c"/>
<circle cx="470.74" cy="71.02" r="1.35" fill="#1c4f8c"/>
<circle cx="466.12" cy="71.63" r="1.35" fill="#1c4f8c"/>
<circle cx="469.84" cy="72.24" r="1.35" fill="#1c4f8c"/>
<circle cx="471.45" cy="72.85" r="1.35" fill="#1c4f8c"/>
<circle cx="470.62" cy="73.46" r="1.35" fill="#1c4f8c"/>
<line x1="468.80" y1="69.67" x2="468.80" y2="71.14" stroke="#231f20" stroke-width="0.9" />
<line x1="466.67" y1="69.67" x2="470.93" y2="69.67" stroke="#231f20" stroke-width="0.9" />
<line x1="466.67" y1="71.14" x2="470.93" y2="71.14" stroke="#231f20" stroke-width="0.9" />
<line x1="465.93" y1="70.40" x2="471.67" y2="70.40" stroke="#231f20" stroke-width="0.9" />
<rect x="473.40" y="78.96" width="7.60" height="13.44" fill="#de8797"/>
<circle cx="478.82" cy="70.40" r="1.35" fill="#cf1430"/>
<circle cx="477.06" cy="72.85" r="1.35" fill="#cf1430"/>
<circle cx="475.12" cy="74.07" r="1.35" fill="#cf1430"/>
<circle cx="479.07" cy="76.51" r="1.35" fill="#cf1430"/>
<circle cx="476.12" cy="77.74" r="1.35" fill="#cf1430"/>
<circle cx="479.14" cy="78.96" r="1.35" fill="#cf1430"/>
<circle cx="480.25" cy="80.18" r="1.35" fill="#cf1430"/>
<circle cx="476.53" cy="80.18" r="1.35" fill="#cf1430"/>
<circle cx="476.56" cy="81.40" r="1.35" fill="#cf1430"/>
<circle cx="480.09" cy="81.40" r="1.35" fill="#cf1430"/>
<circle cx="478.65" cy="82.01" r="1.35" fill="#cf1430"/>
<line x1="477.20" y1="77.74" x2="477.20" y2="80.18" stroke="#231f20" stroke-width="0.9" />
<line x1="475.07" y1="77.74" x2="479.33" y2="77.74" stroke="#231f20" stroke-width="0.9" />
<line x1="475.07" y1="80.18" x2="479.33" y2="80.18" stroke="#231f20" stroke-width="0.9" />
<line x1="474.33" y1="78.96" x2="480.07" y2="78.96" stroke="#231f20" stroke-width="0.9" />
<rect x="491.20" y="61.24" width="7.70" height="31.16" fill="#87a5c3"/>
<circle cx="492.89" cy="38.63" r="1.35" fill="#1c4f8c"/>
<circle cx="492.61" cy="41.08" r="1.35" fill="#1c4f8c"/>
<circle cx="492.77" cy="48.41" r="1.35" fill="#1c4f8c"/>
<circle cx="497.70" cy="52.07" r="1.35" fill="#1c4f8c"/>
<circle cx="497.06" cy="55.74" r="1.35" fill="#1c4f8c"/>
<circle cx="492.73" cy="59.41" r="1.35" fill="#1c4f8c"/>
<circle cx="497.19" cy="61.85" r="1.35" fill="#1c4f8c"/>
<circle cx="498.19" cy="65.52" r="1.35" fill="#1c4f8c"/>
<circle cx="496.08" cy="69.18" r="1.35" fill="#1c4f8c"/>
<circle cx="494.07" cy="70.40" r="1.35" fill="#1c4f8c"/>
<circle cx="495.37" cy="72.85" r="1.35" fill="#1c4f8c"/>
<circle cx="492.63" cy="75.29" r="1.35" fill="#1c4f8c"/>
<circle cx="491.87" cy="77.74" r="1.35" fill="#1c4f8c"/>
<line x1="495.05" y1="57.82" x2="495.05" y2="64.66" stroke="#231f20" stroke-width="0.9" />
<line x1="492.89" y1="57.82" x2="497.21" y2="57.82" stroke="#231f20" stroke-width="0.9" />
<line x1="492.89" y1="64.66" x2="497.21" y2="64.66" stroke="#231f20" stroke-width="0.9" />
<line x1="492.14" y1="61.24" x2="497.96" y2="61.24" stroke="#231f20" stroke-width="0.9" />
<rect x="500.00" y="70.40" width="7.20" height="22.00" fill="#de8797"/>
<circle cx="506.48" cy="47.19" r="1.35" fill="#cf1430"/>
<circle cx="504.52" cy="47.80" r="1.35" fill="#cf1430"/>
<circle cx="503.76" cy="61.85" r="1.35" fill="#cf1430"/>
<circle cx="506.25" cy="65.52" r="1.35" fill="#cf1430"/>
<circle cx="503.19" cy="67.96" r="1.35" fill="#cf1430"/>
<circle cx="505.88" cy="70.40" r="1.35" fill="#cf1430"/>
<circle cx="505.60" cy="71.63" r="1.35" fill="#cf1430"/>
<circle cx="501.83" cy="72.85" r="1.35" fill="#cf1430"/>
<circle cx="502.08" cy="74.07" r="1.35" fill="#cf1430"/>
<circle cx="502.33" cy="75.29" r="1.35" fill="#cf1430"/>
<circle cx="502.01" cy="76.51" r="1.35" fill="#cf1430"/>
<line x1="503.60" y1="67.72" x2="503.60" y2="73.09" stroke="#231f20" stroke-width="0.9" />
<line x1="501.58" y1="67.72" x2="505.62" y2="67.72" stroke="#231f20" stroke-width="0.9" />
<line x1="501.58" y1="73.09" x2="505.62" y2="73.09" stroke="#231f20" stroke-width="0.9" />
<line x1="500.88" y1="70.40" x2="506.32" y2="70.40" stroke="#231f20" stroke-width="0.9" />
<line x1="406.40" y1="92.40" x2="513.50" y2="92.40" stroke="#111" stroke-width="1.1" />
<text x="422.80" y="78.45" font-size="9.0" fill="#231f20" stroke="#231f20" text-anchor="middle" textLength="6.1000000000000005" lengthAdjust="spacingAndGlyphs" stroke-width="0.35">**</text>
<text x="476.80" y="67.65" font-size="9.0" fill="#231f20" stroke="#231f20" text-anchor="middle" textLength="2.75" lengthAdjust="spacingAndGlyphs" stroke-width="0.35">*</text>
<text x="502.90" y="64.15" font-size="9.0" fill="#231f20" stroke="#231f20" text-anchor="middle" textLength="6.1000000000000005" lengthAdjust="spacingAndGlyphs" stroke-width="0.35">**</text>
<text x="418.50" y="101.90" font-size="8.4" fill="#231f20" stroke="#231f20" stroke-width="0.12" text-anchor="middle" textLength="20.8" lengthAdjust="spacingAndGlyphs" >PreMI</text>
<text x="445.30" y="101.90" font-size="8.4" fill="#231f20" stroke="#231f20" stroke-width="0.12" text-anchor="middle" textLength="24.6" lengthAdjust="spacingAndGlyphs" >PostMI</text>
<text x="473.00" y="101.90" font-size="8.4" fill="#231f20" stroke="#231f20" stroke-width="0.12" text-anchor="middle" textLength="20.8" lengthAdjust="spacingAndGlyphs" >PreMI</text>
<text x="499.30" y="101.90" font-size="8.4" fill="#231f20" stroke="#231f20" stroke-width="0.12" text-anchor="middle" textLength="24.6" lengthAdjust="spacingAndGlyphs" >PostMI</text>
<line x1="413.52" y1="107.60" x2="451.08" y2="107.60" stroke="#2a2a2a" stroke-width="1.25" />
<path d="M411.00,107.60 L415.20,105.30 L415.20,109.90 Z" fill="#231f20"/>
<path d="M453.60,107.60 L449.40,105.30 L449.40,109.90 Z" fill="#231f20"/>
<line x1="467.82" y1="107.60" x2="504.68" y2="107.60" stroke="#2a2a2a" stroke-width="1.25" />
<path d="M465.30,107.60 L469.50,105.30 L469.50,109.90 Z" fill="#231f20"/>
<path d="M507.20,107.60 L503.00,105.30 L503.00,109.90 Z" fill="#231f20"/>
<text x="429.50" y="118.30" font-size="8.7" fill="#2f69a2" stroke="#2f69a2" text-anchor="middle" textLength="17.9" lengthAdjust="spacingAndGlyphs" stroke-width="0.3">Basal</text>
<text x="483.95" y="118.30" font-size="8.7" fill="#d43a56" stroke="#d43a56" text-anchor="middle" textLength="15.2" lengthAdjust="spacingAndGlyphs" stroke-width="0.3">CRP</text>
<text transform="translate(388.90,62.00) rotate(-90)" font-size="10.0" fill="#231f20" text-anchor="middle" stroke="#231f20" stroke-width="0.12" textLength="43.9" lengthAdjust="spacingAndGlyphs">CD62P (MFI)</text>
<text x="6.95" y="128.40" font-size="11.6" fill="#000" font-weight="bold" textLength="18.0" lengthAdjust="spacingAndGlyphs" stroke="#000" stroke-width="0.5">Aiii</text>
<line x1="33.30" y1="132.80" x2="33.30" y2="197.50" stroke="#3a3a3a" stroke-width="1.6" />
<line x1="30.30" y1="197.00" x2="33.30" y2="197.00" stroke="#3a3a3a" stroke-width="1.0" />
<text x="26.80" y="199.83" font-size="8.2" fill="#231f20" stroke="#231f20" stroke-width="0.12" text-anchor="end" textLength="4.1" lengthAdjust="spacingAndGlyphs" >0</text>
<line x1="30.30" y1="166.80" x2="33.30" y2="166.80" stroke="#3a3a3a" stroke-width="1.0" />
<text x="26.80" y="169.63" font-size="8.2" fill="#231f20" stroke="#231f20" stroke-width="0.12" text-anchor="end" textLength="8.2" lengthAdjust="spacingAndGlyphs" >10</text>
<line x1="30.30" y1="136.60" x2="33.30" y2="136.60" stroke="#3a3a3a" stroke-width="1.0" />
<text x="26.80" y="139.43" font-size="8.2" fill="#231f20" stroke="#231f20" stroke-width="0.12" text-anchor="end" textLength="8.2" lengthAdjust="spacingAndGlyphs" >20</text>
<rect x="37.80" y="167.71" width="7.80" height="29.29" fill="#87a5c3"/>
<circle cx="42.27" cy="154.72" r="1.35" fill="#1c4f8c"/>
<circle cx="40.10" cy="156.23" r="1.35" fill="#1c4f8c"/>
<circle cx="41.16" cy="160.76" r="1.35" fill="#1c4f8c"/>
<circle cx="39.25" cy="165.29" r="1.35" fill="#1c4f8c"/>
<circle cx="44.42" cy="166.80" r="1.35" fill="#1c4f8c"/>
<circle cx="40.73" cy="168.31" r="1.35" fill="#1c4f8c"/>
<circle cx="41.42" cy="169.82" r="1.35" fill="#1c4f8c"/>
<circle cx="42.25" cy="171.33" r="1.35" fill="#1c4f8c"/>
<circle cx="44.38" cy="172.84" r="1.35" fill="#1c4f8c"/>
<circle cx="41.17" cy="174.35" r="1.35" fill="#1c4f8c"/>
<line x1="41.70" y1="165.89" x2="41.70" y2="169.52" stroke="#231f20" stroke-width="0.9" />
<line x1="39.52" y1="165.89" x2="43.88" y2="165.89" stroke="#231f20" stroke-width="0.9" />
<line x1="39.52" y1="169.52" x2="43.88" y2="169.52" stroke="#231f20" stroke-width="0.9" />
<line x1="38.75" y1="167.71" x2="44.65" y2="167.71" stroke="#231f20" stroke-width="0.9" />
<rect x="46.30" y="171.93" width="7.70" height="25.07" fill="#de8797"/>
<circle cx="52.88" cy="165.29" r="1.35" fill="#cf1430"/>
<circle cx="50.16" cy="169.82" r="1.35" fill="#cf1430"/>
<circle cx="50.36" cy="171.33" r="1.35" fill="#cf1430"/>
<circle cx="50.30" cy="172.24" r="1.35" fill="#cf1430"/>
<circle cx="47.00" cy="172.84" r="1.35" fill="#cf1430"/>
<circle cx="49.76" cy="172.84" r="1.35" fill="#cf1430"/>
<circle cx="48.08" cy="173.44" r="1.35" fill="#cf1430"/>
<circle cx="46.90" cy="174.05" r="1.35" fill="#cf1430"/>
<line x1="50.15" y1="171.33" x2="50.15" y2="172.54" stroke="#231f20" stroke-width="0.9" />
<line x1="47.99" y1="171.33" x2="52.31" y2="171.33" stroke="#231f20" stroke-width="0.9" />
<line x1="47.99" y1="172.54" x2="52.31" y2="172.54" stroke="#231f20" stroke-width="0.9" />
<line x1="47.24" y1="171.93" x2="53.06" y2="171.93" stroke="#231f20" stroke-width="0.9" />
<rect x="64.10" y="164.99" width="7.50" height="32.01" fill="#87a5c3"/>
<circle cx="69.76" cy="148.68" r="1.35" fill="#1c4f8c"/>
<circle cx="65.76" cy="162.27" r="1.35" fill="#1c4f8c"/>
<circle cx="67.68" cy="166.80" r="1.35" fill="#1c4f8c"/>
<circle cx="69.29" cy="168.31" r="1.35" fill="#1c4f8c"/>
<circle cx="68.21" cy="169.22" r="1.35" fill="#1c4f8c"/>
<circle cx="66.74" cy="169.82" r="1.35" fill="#1c4f8c"/>
<circle cx="67.97" cy="170.42" r="1.35" fill="#1c4f8c"/>
<circle cx="68.20" cy="171.33" r="1.35" fill="#1c4f8c"/>
<line x1="67.85" y1="162.57" x2="67.85" y2="167.40" stroke="#231f20" stroke-width="0.9" />
<line x1="65.75" y1="162.57" x2="69.95" y2="162.57" stroke="#231f20" stroke-width="0.9" />
<line x1="65.75" y1="167.40" x2="69.95" y2="167.40" stroke="#231f20" stroke-width="0.9" />
<line x1="65.02" y1="164.99" x2="70.68" y2="164.99" stroke="#231f20" stroke-width="0.9" />
<rect x="72.50" y="168.91" width="7.70" height="28.09" fill="#de8797"/>
<circle cx="78.21" cy="162.27" r="1.35" fill="#cf1430"/>
<circle cx="73.77" cy="163.78" r="1.35" fill="#cf1430"/>
<circle cx="76.74" cy="166.80" r="1.35" fill="#cf1430"/>
<circle cx="74.70" cy="168.31" r="1.35" fill="#cf1430"/>
<circle cx="74.89" cy="169.82" r="1.35" fill="#cf1430"/>
<circle cx="78.13" cy="169.82" r="1.35" fill="#cf1430"/>
<circle cx="76.40" cy="170.42" r="1.35" fill="#cf1430"/>
<circle cx="76.75" cy="171.33" r="1.35" fill="#cf1430"/>
<line x1="76.35" y1="167.71" x2="76.35" y2="170.12" stroke="#231f20" stroke-width="0.9" />
<line x1="74.19" y1="167.71" x2="78.51" y2="167.71" stroke="#231f20" stroke-width="0.9" />
<line x1="74.19" y1="170.12" x2="78.51" y2="170.12" stroke="#231f20" stroke-width="0.9" />
<line x1="73.44" y1="168.91" x2="79.26" y2="168.91" stroke="#231f20" stroke-width="0.9" />
<rect x="93.00" y="157.14" width="7.40" height="39.86" fill="#87a5c3"/>
<circle cx="98.34" cy="147.17" r="1.35" fill="#1c4f8c"/>
<circle cx="99.29" cy="148.68" r="1.35" fill="#1c4f8c"/>
<circle cx="96.34" cy="156.23" r="1.35" fill="#1c4f8c"/>
<circle cx="97.41" cy="157.74" r="1.35" fill="#1c4f8c"/>
<circle cx="96.73" cy="157.74" r="1.35" fill="#1c4f8c"/>
<circle cx="96.78" cy="159.25" r="1.35" fill="#1c4f8c"/>
<circle cx="97.91" cy="160.76" r="1.35" fill="#1c4f8c"/>
<circle cx="96.40" cy="162.27" r="1.35" fill="#1c4f8c"/>
<circle cx="96.91" cy="163.78" r="1.35" fill="#1c4f8c"/>
<line x1="96.70" y1="155.63" x2="96.70" y2="158.65" stroke="#231f20" stroke-width="0.9" />
<line x1="94.63" y1="155.63" x2="98.77" y2="155.63" stroke="#231f20" stroke-width="0.9" />
<line x1="94.63" y1="158.65" x2="98.77" y2="158.65" stroke="#231f20" stroke-width="0.9" />
<line x1="93.90" y1="157.14" x2="99.50" y2="157.14" stroke="#231f20" stroke-width="0.9" />
<rect x="101.30" y="171.33" width="7.70" height="25.67" fill="#de8797"/>
<circle cx="105.01" cy="163.78" r="1.35" fill="#cf1430"/>
<circle cx="108.04" cy="165.29" r="1.35" fill="#cf1430"/>
<circle cx="106.45" cy="169.82" r="1.35" fill="#cf1430"/>
<circle cx="107.61" cy="171.33" r="1.35" fill="#cf1430"/>
<circle cx="108.04" cy="171.33" r="1.35" fill="#cf1430"/>
<circle cx="103.58" cy="172.24" r="1.35" fill="#cf1430"/>
<circle cx="105.54" cy="172.84" r="1.35" fill="#cf1430"/>
<line x1="105.15" y1="170.42" x2="105.15" y2="172.24" stroke="#231f20" stroke-width="0.9" />
<line x1="102.99" y1="170.42" x2="107.31" y2="170.42" stroke="#231f20" stroke-width="0.9" />
<line x1="102.99" y1="172.24" x2="107.31" y2="172.24" stroke="#231f20" stroke-width="0.9" />
<line x1="102.24" y1="171.33" x2="108.06" y2="171.33" stroke="#231f20" stroke-width="0.9" />
<rect x="119.00" y="155.32" width="7.70" height="41.68" fill="#87a5c3"/>
<circle cx="125.75" cy="145.66" r="1.35" fill="#1c4f8c"/>
<circle cx="125.08" cy="151.70" r="1.35" fill="#1c4f8c"/>
<circle cx="120.48" cy="153.21" r="1.35" fill="#1c4f8c"/>
<circle cx="120.37" cy="154.72" r="1.35" fill="#1c4f8c"/>
<circle cx="122.47" cy="156.23" r="1.35" fill="#1c4f8c"/>
<circle cx="120.05" cy="157.74" r="1.35" fill="#1c4f8c"/>
<circle cx="121.15" cy="157.74" r="1.35" fill="#1c4f8c"/>
<circle cx="120.06" cy="159.25" r="1.35" fill="#1c4f8c"/>
<line x1="122.85" y1="153.81" x2="122.85" y2="156.83" stroke="#231f20" stroke-width="0.9" />
<line x1="120.69" y1="153.81" x2="125.01" y2="153.81" stroke="#231f20" stroke-width="0.9" />
<line x1="120.69" y1="156.83" x2="125.01" y2="156.83" stroke="#231f20" stroke-width="0.9" />
<line x1="119.94" y1="155.32" x2="125.76" y2="155.32" stroke="#231f20" stroke-width="0.9" />
<rect x="127.70" y="166.80" width="7.30" height="30.20" fill="#de8797"/>
<circle cx="132.40" cy="162.27" r="1.35" fill="#cf1430"/>
<circle cx="133.11" cy="163.78" r="1.35" fill="#cf1430"/>
<circle cx="133.81" cy="165.29" r="1.35" fill="#cf1430"/>
<circle cx="129.21" cy="166.80" r="1.35" fill="#cf1430"/>
<circle cx="132.69" cy="168.31" r="1.35" fill="#cf1430"/>
<circle cx="132.34" cy="168.31" r="1.35" fill="#cf1430"/>
<circle cx="129.13" cy="169.82" r="1.35" fill="#cf1430"/>
<circle cx="133.73" cy="171.33" r="1.35" fill="#cf1430"/>
<line x1="131.35" y1="165.59" x2="131.35" y2="168.01" stroke="#231f20" stroke-width="0.9" />
<line x1="129.31" y1="165.59" x2="133.39" y2="165.59" stroke="#231f20" stroke-width="0.9" />
<line x1="129.31" y1="168.01" x2="133.39" y2="168.01" stroke="#231f20" stroke-width="0.9" />
<line x1="128.59" y1="166.80" x2="134.11" y2="166.80" stroke="#231f20" stroke-width="0.9" />
<line x1="32.50" y1="197.00" x2="138.80" y2="197.00" stroke="#111" stroke-width="1.1" />
<text x="50.20" y="167.45" font-size="9.0" fill="#231f20" stroke="#231f20" text-anchor="middle" textLength="2.75" lengthAdjust="spacingAndGlyphs" stroke-width="0.35">*</text>
<text x="105.60" y="159.95" font-size="9.0" fill="#231f20" stroke="#231f20" text-anchor="middle" textLength="9.450000000000001" lengthAdjust="spacingAndGlyphs" stroke-width="0.35">***</text>
<text x="132.00" y="157.45" font-size="9.0" fill="#231f20" stroke="#231f20" text-anchor="middle" textLength="9.450000000000001" lengthAdjust="spacingAndGlyphs" stroke-width="0.35">***</text>
<text x="45.90" y="207.20" font-size="8.4" fill="#231f20" stroke="#231f20" stroke-width="0.12" text-anchor="middle" textLength="20.8" lengthAdjust="spacingAndGlyphs" >PreMI</text>
<text x="72.20" y="207.20" font-size="8.4" fill="#231f20" stroke="#231f20" stroke-width="0.12" text-anchor="middle" textLength="24.6" lengthAdjust="spacingAndGlyphs" >PostMI</text>
<text x="100.70" y="207.20" font-size="8.4" fill="#231f20" stroke="#231f20" stroke-width="0.12" text-anchor="middle" textLength="20.8" lengthAdjust="spacingAndGlyphs" >PreMI</text>
<text x="127.00" y="207.20" font-size="8.4" fill="#231f20" stroke="#231f20" stroke-width="0.12" text-anchor="middle" textLength="24.6" lengthAdjust="spacingAndGlyphs" >PostMI</text>
<line x1="40.32" y1="212.70" x2="77.68" y2="212.70" stroke="#2a2a2a" stroke-width="1.25" />
<path d="M37.80,212.70 L42.00,210.40 L42.00,215.00 Z" fill="#231f20"/>
<path d="M80.20,212.70 L76.00,210.40 L76.00,215.00 Z" fill="#231f20"/>
<line x1="95.52" y1="212.70" x2="132.48" y2="212.70" stroke="#2a2a2a" stroke-width="1.25" />
<path d="M93.00,212.70 L97.20,210.40 L97.20,215.00 Z" fill="#231f20"/>
<path d="M135.00,212.70 L130.80,210.40 L130.80,215.00 Z" fill="#231f20"/>
<text x="56.20" y="223.00" font-size="8.7" fill="#2f69a2" stroke="#2f69a2" text-anchor="middle" textLength="17.9" lengthAdjust="spacingAndGlyphs" stroke-width="0.3">Basal</text>
<text x="111.70" y="223.00" font-size="8.7" fill="#d43a56" stroke="#d43a56" text-anchor="middle" textLength="15.2" lengthAdjust="spacingAndGlyphs" stroke-width="0.3">CRP</text>
<text transform="translate(15.60,167.00) rotate(-90)" font-size="10.0" fill="#231f20" text-anchor="middle" stroke="#231f20" stroke-width="0.12" textLength="47.0" lengthAdjust="spacingAndGlyphs">CXCL12 (MFI)</text>
<text x="156.95" y="128.20" font-size="11.6" fill="#000" font-weight="bold" textLength="18.4" lengthAdjust="spacingAndGlyphs" stroke="#000" stroke-width="0.5">Aiv</text>
<defs>
<filter id="rough" x="0" y="0" width="100%" height="100%" color-interpolation-filters="sRGB">
  <feTurbulence type="fractalNoise" baseFrequency="0.2" numOctaves="2" seed="2" result="warp"/>
  <feDisplacementMap in="SourceGraphic" in2="warp" scale="6" xChannelSelector="R" yChannelSelector="G" result="d0"/>
  <feGaussianBlur in="d0" stdDeviation="0.6" result="d1"/>
  <feComponentTransfer in="d1" result="d"><feFuncA type="linear" slope="3" intercept="-1"/></feComponentTransfer>
  <feTurbulence type="fractalNoise" baseFrequency="0.42" numOctaves="2" seed="9" result="n"/>
  <feColorMatrix in="n" type="matrix" values="2.5 0 0 0 -0.75  2.5 0 0 0 -0.75  2.5 0 0 0 -0.75  0 0 0 0 1" result="g"/>
  <feComponentTransfer in="g" result="g2"><feFuncR type="table" tableValues="0.62 0.72 0.92 1 0.92 0.72 0.62"/><feFuncG type="table" tableValues="0.62 0.72 0.92 1 0.92 0.72 0.62"/><feFuncB type="table" tableValues="0.62 0.72 0.92 1 0.92 0.72 0.62"/></feComponentTransfer>
  <feBlend in="g2" in2="d" mode="multiply" result="m"/>
  <feComposite in="m" in2="d" operator="in"/>
</filter>
<filter id="bgn" x="0" y="0" width="100%" height="100%" color-interpolation-filters="sRGB">
  <feTurbulence type="fractalNoise" baseFrequency="0.35" numOctaves="2" seed="4" result="n"/>
  <feColorMatrix in="n" type="matrix" values="1 0 0 0 0  1 0 0 0 0  1 0 0 0 0  0 0 0 0 1" result="g"/>
  <feComponentTransfer in="g" result="g2"><feFuncR type="linear" slope="0.6" intercept="0.7"/><feFuncG type="linear" slope="0.6" intercept="0.7"/><feFuncB type="linear" slope="0.6" intercept="0.7"/></feComponentTransfer>
  <feBlend in="g2" in2="SourceGraphic" mode="multiply" result="m"/>
  <feComposite in="m" in2="SourceGraphic" operator="in"/>
</filter>
<filter id="bgn2" x="0" y="0" width="100%" height="100%" color-interpolation-filters="sRGB">
  <feTurbulence type="fractalNoise" baseFrequency="0.12" numOctaves="3" seed="6" result="n"/>
  <feColorMatrix in="n" type="matrix" values="1 0 0 0 0  1 0 0 0 0  1 0 0 0 0  0 0 0 0 1" result="g"/>
  <feComponentTransfer in="g" result="g2"><feFuncR type="linear" slope="0.35" intercept="0.83"/><feFuncG type="linear" slope="0.35" intercept="0.83"/><feFuncB type="linear" slope="0.35" intercept="0.83"/></feComponentTransfer>
  <feBlend in="g2" in2="SourceGraphic" mode="multiply" result="m"/>
  <feComposite in="m" in2="SourceGraphic" operator="in"/>
</filter>
<filter id="soft" x="0" y="0" width="100%" height="100%"><feGaussianBlur stdDeviation="0.45"/></filter>
<clipPath id="cp1"><rect x="158.1" y="138.5" width="93" height="75.5"/></clipPath>
<clipPath id="cp2"><rect x="255.9" y="138.5" width="92.9" height="75.5"/></clipPath>
</defs>
<g clip-path="url(#cp1)"><g filter="url(#soft)">
<rect x="156" y="136" width="97" height="80" fill="#b4b4b4" filter="url(#bgn)"/>
<g filter="url(#rough)" fill="#979797"><path d="M157.0,160.0 Q157.0,139.0 166.5,139.0 Q176.0,139.0 178.0,143.5 Q180.0,148.0 179.5,155.0 Q179.0,162.0 177.0,168.0 Q175.0,174.0 171.5,177.0 Q168.0,180.0 162.5,180.5 Q157.0,181.0 157.0,160.0 Z"/>
<path d="M190.0,157.0 Q191.0,152.0 195.5,151.0 Q200.0,150.0 205.0,150.0 Q210.0,150.0 212.0,147.5 Q214.0,145.0 215.0,142.0 Q216.0,139.0 226.0,139.0 Q236.0,139.0 237.0,143.5 Q238.0,148.0 245.0,148.5 Q252.0,149.0 252.0,174.5 Q252.0,200.0 248.0,199.0 Q244.0,198.0 239.0,196.0 Q234.0,194.0 231.5,191.0 Q229.0,188.0 228.5,184.5 Q228.0,181.0 229.5,178.0 Q231.0,175.0 227.5,173.0 Q224.0,171.0 221.5,174.5 Q219.0,178.0 215.0,180.5 Q211.0,183.0 204.5,182.5 Q198.0,182.0 194.5,177.5 Q191.0,173.0 190.0,167.5 Q189.0,162.0 190.0,157.0 Z"/>
<path d="M165.5,184.0 Q168.0,181.0 174.0,179.0 Q180.0,177.0 186.5,178.0 Q193.0,179.0 194.5,183.5 Q196.0,188.0 192.0,191.5 Q188.0,195.0 186.5,199.5 Q185.0,204.0 184.5,209.5 Q184.0,215.0 170.5,215.0 Q157.0,215.0 157.0,204.0 Q157.0,193.0 160.0,190.0 Q163.0,187.0 165.5,184.0 Z"/>
<path d="M190.5,201.0 Q192.0,197.0 198.0,195.5 Q204.0,194.0 209.0,195.5 Q214.0,197.0 216.0,201.0 Q218.0,205.0 218.0,210.0 Q218.0,215.0 204.0,215.0 Q190.0,215.0 189.5,210.0 Q189.0,205.0 190.5,201.0 Z"/>
<path d="M227.5,197.0 Q228.0,191.0 234.0,189.0 Q240.0,187.0 246.0,188.5 Q252.0,190.0 252.0,202.5 Q252.0,215.0 241.0,215.0 Q230.0,215.0 228.5,209.0 Q227.0,203.0 227.5,197.0 Z"/></g>
</g></g>
<g clip-path="url(#cp2)"><g filter="url(#soft)">
<rect x="254" y="136" width="97" height="80" fill="#8c8c8c" filter="url(#bgn2)"/>
<circle cx="313.8" cy="150.7" r="0.92" fill="#363636" opacity="0.7"/>
<circle cx="318.2" cy="148.0" r="0.68" fill="#363636" opacity="0.7"/>
<circle cx="324.4" cy="148.4" r="0.51" fill="#363636" opacity="0.7"/>
<circle cx="307.3" cy="151.4" r="0.74" fill="#363636" opacity="0.7"/>
<circle cx="291.8" cy="154.4" r="0.91" fill="#363636" opacity="0.7"/>
<circle cx="317.2" cy="149.6" r="0.52" fill="#363636" opacity="0.7"/>
<circle cx="312.1" cy="148.9" r="0.89" fill="#363636" opacity="0.7"/>
<circle cx="298.4" cy="154.5" r="0.89" fill="#363636" opacity="0.7"/>
<circle cx="302.9" cy="152.8" r="0.79" fill="#363636" opacity="0.7"/>
<circle cx="300.0" cy="153.8" r="0.93" fill="#363636" opacity="0.7"/>
<circle cx="321.9" cy="147.5" r="0.53" fill="#363636" opacity="0.7"/>
<circle cx="295.9" cy="153.4" r="0.75" fill="#363636" opacity="0.7"/>
<circle cx="292.5" cy="154.6" r="0.60" fill="#363636" opacity="0.7"/>
<circle cx="319.8" cy="148.0" r="0.69" fill="#363636" opacity="0.7"/>
<circle cx="334.2" cy="164.2" r="0.46" fill="#363636" opacity="0.7"/>
<circle cx="338.3" cy="161.7" r="0.84" fill="#363636" opacity="0.7"/>
<circle cx="318.5" cy="163.0" r="0.47" fill="#363636" opacity="0.7"/>
<circle cx="310.1" cy="164.1" r="0.83" fill="#363636" opacity="0.7"/>
<circle cx="347.5" cy="161.9" r="0.63" fill="#363636" opacity="0.7"/>
<circle cx="326.9" cy="162.7" r="0.82" fill="#363636" opacity="0.7"/>
<circle cx="340.7" cy="161.6" r="0.92" fill="#363636" opacity="0.7"/>
<circle cx="304.2" cy="165.4" r="0.91" fill="#363636" opacity="0.7"/>
<circle cx="318.0" cy="164.4" r="0.61" fill="#363636" opacity="0.7"/>
<circle cx="315.1" cy="163.4" r="0.52" fill="#363636" opacity="0.7"/>
<circle cx="335.7" cy="162.3" r="0.47" fill="#363636" opacity="0.7"/>
<circle cx="349.4" cy="161.8" r="0.57" fill="#363636" opacity="0.7"/>
<circle cx="330.5" cy="163.3" r="0.66" fill="#363636" opacity="0.7"/>
<circle cx="303.8" cy="164.2" r="0.70" fill="#363636" opacity="0.7"/>
<circle cx="341.0" cy="163.1" r="0.92" fill="#363636" opacity="0.7"/>
<circle cx="332.2" cy="162.3" r="0.67" fill="#363636" opacity="0.7"/>
<circle cx="308.3" cy="164.5" r="0.68" fill="#363636" opacity="0.7"/>
<circle cx="350.8" cy="163.1" r="0.68" fill="#363636" opacity="0.7"/>
<circle cx="325.0" cy="163.7" r="0.60" fill="#363636" opacity="0.7"/>
<circle cx="319.3" cy="163.8" r="0.94" fill="#363636" opacity="0.7"/>
<circle cx="348.3" cy="162.1" r="0.62" fill="#363636" opacity="0.7"/>
<circle cx="303.9" cy="165.9" r="0.88" fill="#363636" opacity="0.7"/>
<circle cx="271.3" cy="177.9" r="0.80" fill="#363636" opacity="0.7"/>
<circle cx="285.2" cy="179.2" r="0.80" fill="#363636" opacity="0.7"/>
<circle cx="266.9" cy="177.3" r="0.80" fill="#363636" opacity="0.7"/>
<circle cx="268.6" cy="177.1" r="0.74" fill="#363636" opacity="0.7"/>
<circle cx="254.6" cy="174.0" r="0.79" fill="#363636" opacity="0.7"/>
<circle cx="276.1" cy="178.3" r="0.85" fill="#363636" opacity="0.7"/>
<circle cx="270.3" cy="177.7" r="0.86" fill="#363636" opacity="0.7"/>
<circle cx="270.9" cy="178.0" r="0.79" fill="#363636" opacity="0.7"/>
<circle cx="300.0" cy="181.9" r="0.71" fill="#363636" opacity="0.7"/>
<circle cx="262.5" cy="176.8" r="0.69" fill="#363636" opacity="0.7"/>
<circle cx="286.3" cy="180.2" r="0.54" fill="#363636" opacity="0.7"/>
<circle cx="290.1" cy="180.8" r="0.66" fill="#363636" opacity="0.7"/>
<circle cx="283.4" cy="179.5" r="0.81" fill="#363636" opacity="0.7"/>
<circle cx="254.5" cy="174.6" r="0.78" fill="#363636" opacity="0.7"/>
<circle cx="264.5" cy="176.5" r="0.47" fill="#363636" opacity="0.7"/>
<circle cx="275.0" cy="177.0" r="0.52" fill="#363636" opacity="0.7"/>
<circle cx="265.3" cy="191.1" r="0.47" fill="#363636" opacity="0.7"/>
<circle cx="271.4" cy="193.3" r="0.75" fill="#363636" opacity="0.7"/>
<circle cx="264.0" cy="190.1" r="0.65" fill="#363636" opacity="0.7"/>
<circle cx="264.4" cy="190.7" r="0.87" fill="#363636" opacity="0.7"/>
<circle cx="267.1" cy="192.6" r="0.50" fill="#363636" opacity="0.7"/>
<circle cx="274.3" cy="193.8" r="0.93" fill="#363636" opacity="0.7"/>
<circle cx="284.9" cy="196.4" r="0.77" fill="#363636" opacity="0.7"/>
<circle cx="267.2" cy="192.5" r="0.73" fill="#363636" opacity="0.7"/>
<circle cx="291.5" cy="196.9" r="0.63" fill="#363636" opacity="0.7"/>
<circle cx="286.8" cy="195.3" r="0.73" fill="#363636" opacity="0.7"/>
<circle cx="276.5" cy="194.4" r="0.90" fill="#363636" opacity="0.7"/>
<circle cx="268.1" cy="191.7" r="0.60" fill="#363636" opacity="0.7"/>
<circle cx="290.7" cy="197.9" r="0.91" fill="#363636" opacity="0.7"/>
<circle cx="276.1" cy="195.1" r="0.70" fill="#363636" opacity="0.7"/>
<circle cx="318.3" cy="190.8" r="0.70" fill="#363636" opacity="0.7"/>
<circle cx="312.8" cy="186.7" r="0.76" fill="#363636" opacity="0.7"/>
<circle cx="319.5" cy="190.8" r="0.86" fill="#363636" opacity="0.7"/>
<circle cx="300.7" cy="182.7" r="0.92" fill="#363636" opacity="0.7"/>
<circle cx="334.6" cy="195.0" r="0.53" fill="#363636" opacity="0.7"/>
<circle cx="344.0" cy="199.1" r="0.69" fill="#363636" opacity="0.7"/>
<circle cx="329.3" cy="193.9" r="0.51" fill="#363636" opacity="0.7"/>
<circle cx="333.7" cy="195.2" r="0.62" fill="#363636" opacity="0.7"/>
<circle cx="292.6" cy="211.2" r="0.63" fill="#363636" opacity="0.7"/>
<circle cx="326.8" cy="210.6" r="0.58" fill="#363636" opacity="0.7"/>
<circle cx="305.6" cy="212.4" r="0.72" fill="#363636" opacity="0.7"/>
<circle cx="271.8" cy="210.8" r="0.74" fill="#363636" opacity="0.7"/>
<circle cx="324.1" cy="211.7" r="0.91" fill="#363636" opacity="0.7"/>
<circle cx="299.0" cy="212.2" r="0.55" fill="#363636" opacity="0.7"/>
<circle cx="293.3" cy="210.3" r="0.87" fill="#363636" opacity="0.7"/>
<circle cx="322.6" cy="211.2" r="0.84" fill="#363636" opacity="0.7"/>
<circle cx="338.4" cy="211.9" r="0.72" fill="#363636" opacity="0.7"/>
<circle cx="307.4" cy="210.7" r="0.74" fill="#363636" opacity="0.7"/>
<circle cx="330.7" cy="211.2" r="0.86" fill="#363636" opacity="0.7"/>
<circle cx="330.6" cy="210.7" r="0.81" fill="#363636" opacity="0.7"/>
<circle cx="345.6" cy="212.5" r="0.47" fill="#363636" opacity="0.7"/>
<circle cx="333.3" cy="212.2" r="0.93" fill="#363636" opacity="0.7"/>
<circle cx="323.3" cy="211.2" r="0.91" fill="#363636" opacity="0.7"/>
<circle cx="281.6" cy="210.9" r="0.53" fill="#363636" opacity="0.7"/>
<circle cx="313.6" cy="143.2" r="0.33" fill="#363636" opacity="0.7"/>
<circle cx="291.5" cy="145.3" r="0.32" fill="#363636" opacity="0.7"/>
<circle cx="309.3" cy="194.2" r="0.56" fill="#363636" opacity="0.7"/>
<circle cx="269.2" cy="171.5" r="0.39" fill="#363636" opacity="0.7"/>
<circle cx="311.6" cy="175.7" r="0.58" fill="#363636" opacity="0.7"/>
<circle cx="291.1" cy="144.1" r="0.51" fill="#363636" opacity="0.7"/>
<circle cx="270.8" cy="186.1" r="0.45" fill="#363636" opacity="0.7"/>
<circle cx="339.8" cy="180.5" r="0.49" fill="#363636" opacity="0.7"/>
<circle cx="281.0" cy="180.3" r="0.38" fill="#363636" opacity="0.7"/>
<circle cx="325.3" cy="177.7" r="0.34" fill="#363636" opacity="0.7"/>
<circle cx="278.3" cy="167.1" r="0.52" fill="#363636" opacity="0.7"/>
<circle cx="273.3" cy="192.1" r="0.50" fill="#363636" opacity="0.7"/>
<circle cx="264.8" cy="188.8" r="0.33" fill="#363636" opacity="0.7"/>
<circle cx="268.4" cy="183.4" r="0.37" fill="#363636" opacity="0.7"/>
<circle cx="336.8" cy="175.1" r="0.40" fill="#363636" opacity="0.7"/>
<circle cx="329.5" cy="142.2" r="0.52" fill="#363636" opacity="0.7"/>
<circle cx="261.9" cy="151.0" r="0.59" fill="#363636" opacity="0.7"/>
<circle cx="319.0" cy="156.3" r="0.33" fill="#363636" opacity="0.7"/>
<circle cx="345.5" cy="188.5" r="0.55" fill="#363636" opacity="0.7"/>
<circle cx="269.7" cy="185.6" r="0.41" fill="#363636" opacity="0.7"/>
<circle cx="278.4" cy="164.3" r="0.48" fill="#363636" opacity="0.7"/>
<circle cx="288.7" cy="168.2" r="0.34" fill="#363636" opacity="0.7"/>
<circle cx="332.6" cy="187.3" r="0.54" fill="#363636" opacity="0.7"/>
<circle cx="296.4" cy="202.2" r="0.46" fill="#363636" opacity="0.7"/>
<circle cx="310.9" cy="181.8" r="0.52" fill="#363636" opacity="0.7"/>
<circle cx="293.0" cy="147.1" r="0.31" fill="#363636" opacity="0.7"/>
<circle cx="275.4" cy="142.9" r="0.57" fill="#363636" opacity="0.7"/>
<circle cx="300.8" cy="195.5" r="0.30" fill="#363636" opacity="0.7"/>
<circle cx="299.8" cy="205.0" r="0.49" fill="#363636" opacity="0.7"/>
<circle cx="296.0" cy="174.0" r="0.33" fill="#363636" opacity="0.7"/>
<circle cx="305.7" cy="167.4" r="0.69" fill="#363636" opacity="0.7"/>
<circle cx="306.9" cy="171.2" r="0.58" fill="#363636" opacity="0.7"/>
<circle cx="306.2" cy="168.0" r="0.58" fill="#363636" opacity="0.7"/>
<circle cx="306.4" cy="167.8" r="0.74" fill="#363636" opacity="0.7"/>
<circle cx="305.1" cy="171.4" r="0.68" fill="#363636" opacity="0.7"/>
<circle cx="309.8" cy="170.2" r="0.84" fill="#363636" opacity="0.7"/>
<circle cx="307.4" cy="171.5" r="0.56" fill="#363636" opacity="0.7"/>
<circle cx="308.4" cy="168.1" r="0.84" fill="#363636" opacity="0.7"/>
<circle cx="308.7" cy="167.4" r="0.60" fill="#363636" opacity="0.7"/>
<circle cx="305.0" cy="167.8" r="0.54" fill="#363636" opacity="0.7"/>
<circle cx="281.3" cy="182.4" r="0.68" fill="#363636" opacity="0.7"/>
<circle cx="280.9" cy="180.2" r="0.64" fill="#363636" opacity="0.7"/>
<circle cx="282.7" cy="181.3" r="0.58" fill="#363636" opacity="0.7"/>
<circle cx="280.6" cy="181.1" r="0.97" fill="#363636" opacity="0.7"/>
<circle cx="282.3" cy="180.0" r="0.99" fill="#363636" opacity="0.7"/>
<circle cx="279.5" cy="178.4" r="0.89" fill="#363636" opacity="0.7"/>
<circle cx="281.3" cy="178.3" r="0.77" fill="#363636" opacity="0.7"/>
<circle cx="283.9" cy="180.4" r="0.68" fill="#363636" opacity="0.7"/>
<circle cx="279.9" cy="178.4" r="0.95" fill="#363636" opacity="0.7"/>
<circle cx="281.7" cy="182.2" r="0.53" fill="#363636" opacity="0.7"/>
<circle cx="284.3" cy="193.0" r="0.70" fill="#363636" opacity="0.7"/>
<circle cx="283.5" cy="193.9" r="0.70" fill="#363636" opacity="0.7"/>
<circle cx="284.5" cy="193.0" r="0.52" fill="#363636" opacity="0.7"/>
<circle cx="287.5" cy="193.6" r="0.75" fill="#363636" opacity="0.7"/>
<circle cx="285.0" cy="195.1" r="0.54" fill="#363636" opacity="0.7"/>
<circle cx="284.6" cy="193.3" r="0.77" fill="#363636" opacity="0.7"/>
<circle cx="287.3" cy="195.4" r="0.93" fill="#363636" opacity="0.7"/>
<circle cx="284.1" cy="192.9" r="0.77" fill="#363636" opacity="0.7"/>
<circle cx="285.3" cy="195.3" r="0.69" fill="#363636" opacity="0.7"/>
<circle cx="286.0" cy="196.0" r="0.96" fill="#363636" opacity="0.7"/>
<circle cx="264.3" cy="191.2" r="0.91" fill="#363636" opacity="0.7"/>
<circle cx="264.0" cy="190.0" r="0.66" fill="#363636" opacity="0.7"/>
<circle cx="263.5" cy="192.4" r="0.91" fill="#363636" opacity="0.7"/>
<circle cx="264.3" cy="190.1" r="0.54" fill="#363636" opacity="0.7"/>
<circle cx="264.1" cy="189.9" r="0.71" fill="#363636" opacity="0.7"/>
<circle cx="265.3" cy="190.5" r="0.53" fill="#363636" opacity="0.7"/>
<circle cx="265.7" cy="189.8" r="0.60" fill="#363636" opacity="0.7"/>
<circle cx="264.2" cy="190.9" r="0.55" fill="#363636" opacity="0.7"/>
<circle cx="264.7" cy="190.7" r="0.88" fill="#363636" opacity="0.7"/>
<circle cx="265.2" cy="192.8" r="0.83" fill="#363636" opacity="0.7"/>
<circle cx="314.2" cy="189.0" r="0.72" fill="#363636" opacity="0.7"/>
<circle cx="314.5" cy="189.3" r="0.98" fill="#363636" opacity="0.7"/>
<circle cx="314.1" cy="189.6" r="0.63" fill="#363636" opacity="0.7"/>
<circle cx="314.5" cy="188.0" r="0.57" fill="#363636" opacity="0.7"/>
<circle cx="310.9" cy="187.0" r="0.63" fill="#363636" opacity="0.7"/>
<circle cx="313.8" cy="187.6" r="0.53" fill="#363636" opacity="0.7"/>
<circle cx="314.3" cy="188.9" r="0.51" fill="#363636" opacity="0.7"/>
<circle cx="310.8" cy="186.8" r="0.68" fill="#363636" opacity="0.7"/>
<circle cx="314.7" cy="190.8" r="0.81" fill="#363636" opacity="0.7"/>
<circle cx="311.7" cy="188.3" r="0.68" fill="#363636" opacity="0.7"/>
<circle cx="330.8" cy="189.3" r="0.79" fill="#363636" opacity="0.7"/>
<circle cx="332.9" cy="192.4" r="0.55" fill="#363636" opacity="0.7"/>
<circle cx="331.6" cy="190.0" r="0.85" fill="#363636" opacity="0.7"/>
<circle cx="331.3" cy="193.3" r="0.90" fill="#363636" opacity="0.7"/>
<circle cx="329.8" cy="190.6" r="0.96" fill="#363636" opacity="0.7"/>
<circle cx="331.3" cy="191.1" r="0.72" fill="#363636" opacity="0.7"/>
<circle cx="332.7" cy="193.3" r="0.77" fill="#363636" opacity="0.7"/>
<circle cx="333.6" cy="191.8" r="0.55" fill="#363636" opacity="0.7"/>
<circle cx="332.9" cy="191.0" r="0.53" fill="#363636" opacity="0.7"/>
<circle cx="333.6" cy="189.3" r="0.79" fill="#363636" opacity="0.7"/>
<circle cx="342.5" cy="199.6" r="0.70" fill="#363636" opacity="0.7"/>
<circle cx="341.2" cy="196.7" r="0.60" fill="#363636" opacity="0.7"/>
<circle cx="342.9" cy="197.1" r="0.88" fill="#363636" opacity="0.7"/>
<circle cx="341.4" cy="197.1" r="0.62" fill="#363636" opacity="0.7"/>
<circle cx="344.9" cy="199.4" r="0.92" fill="#363636" opacity="0.7"/>
<circle cx="343.2" cy="197.3" r="0.57" fill="#363636" opacity="0.7"/>
<circle cx="344.2" cy="197.8" r="0.52" fill="#363636" opacity="0.7"/>
<circle cx="341.0" cy="195.9" r="0.86" fill="#363636" opacity="0.7"/>
<circle cx="344.5" cy="196.4" r="0.90" fill="#363636" opacity="0.7"/>
<circle cx="341.8" cy="198.7" r="0.93" fill="#363636" opacity="0.7"/>
<circle cx="322.5" cy="145.3" r="0.69" fill="#363636" opacity="0.7"/>
<circle cx="319.8" cy="144.1" r="0.79" fill="#363636" opacity="0.7"/>
<circle cx="320.6" cy="143.5" r="0.66" fill="#363636" opacity="0.7"/>
<circle cx="319.9" cy="143.2" r="0.69" fill="#363636" opacity="0.7"/>
<circle cx="321.9" cy="144.9" r="0.70" fill="#363636" opacity="0.7"/>
<circle cx="324.1" cy="145.4" r="0.96" fill="#363636" opacity="0.7"/>
<circle cx="322.8" cy="144.7" r="0.77" fill="#363636" opacity="0.7"/>
<circle cx="323.3" cy="143.4" r="0.80" fill="#363636" opacity="0.7"/>
<circle cx="322.8" cy="144.1" r="0.64" fill="#363636" opacity="0.7"/>
<circle cx="320.1" cy="142.2" r="0.68" fill="#363636" opacity="0.7"/>
<circle cx="313.3" cy="206.0" r="0.86" fill="#363636" opacity="0.7"/>
<circle cx="312.2" cy="206.7" r="0.64" fill="#363636" opacity="0.7"/>
<circle cx="313.9" cy="203.3" r="0.88" fill="#363636" opacity="0.7"/>
<circle cx="313.7" cy="206.8" r="0.95" fill="#363636" opacity="0.7"/>
<circle cx="313.8" cy="206.4" r="0.87" fill="#363636" opacity="0.7"/>
<circle cx="313.4" cy="203.8" r="0.76" fill="#363636" opacity="0.7"/>
<circle cx="314.6" cy="204.0" r="0.99" fill="#363636" opacity="0.7"/>
<circle cx="313.2" cy="204.6" r="0.50" fill="#363636" opacity="0.7"/>
<circle cx="312.6" cy="203.7" r="0.83" fill="#363636" opacity="0.7"/>
<circle cx="314.6" cy="206.6" r="0.81" fill="#363636" opacity="0.7"/>
<circle cx="261.4" cy="158" r="2.4" fill="none" stroke="#b0b0b0" stroke-width="0.7" opacity="0.6"/>
<circle cx="276" cy="155.4" r="2.8" fill="none" stroke="#b4b4b4" stroke-width="0.9" opacity="0.85"/>
<path d="M311,213 L313,199 L316,213 Z" fill="#3a3a3a" opacity="0.65"/>
</g></g>
<text x="163.80" y="147.00" font-size="8.2" fill="#fff" font-weight="bold" textLength="51.3" lengthAdjust="spacingAndGlyphs" stroke="#fff" stroke-width="0.25">Vehicle control</text>
<text x="261.90" y="147.40" font-size="8.2" fill="#fff" font-weight="bold" textLength="51.0" lengthAdjust="spacingAndGlyphs" stroke="#fff" stroke-width="0.25">CXCR7 agonist</text>
<line x1="419.60" y1="145.00" x2="419.60" y2="210.90" stroke="#3a3a3a" stroke-width="1.6" />
<line x1="416.60" y1="210.40" x2="419.60" y2="210.40" stroke="#3a3a3a" stroke-width="1.0" />
<text x="413.10" y="213.23" font-size="8.2" fill="#231f20" stroke="#231f20" stroke-width="0.12" text-anchor="end" textLength="4.1" lengthAdjust="spacingAndGlyphs" >0</text>
<line x1="416.60" y1="189.80" x2="419.60" y2="189.80" stroke="#3a3a3a" stroke-width="1.0" />
<text x="413.10" y="192.63" font-size="8.2" fill="#231f20" stroke="#231f20" stroke-width="0.12" text-anchor="end" textLength="20.5" lengthAdjust="spacingAndGlyphs" >50000</text>
<line x1="416.60" y1="169.20" x2="419.60" y2="169.20" stroke="#3a3a3a" stroke-width="1.0" />
<text x="413.10" y="172.03" font-size="8.2" fill="#231f20" stroke="#231f20" stroke-width="0.12" text-anchor="end" textLength="24.6" lengthAdjust="spacingAndGlyphs" >100000</text>
<line x1="416.60" y1="148.60" x2="419.60" y2="148.60" stroke="#3a3a3a" stroke-width="1.0" />
<text x="413.10" y="151.43" font-size="8.2" fill="#231f20" stroke="#231f20" stroke-width="0.12" text-anchor="end" textLength="24.6" lengthAdjust="spacingAndGlyphs" >150000</text>
<rect x="429.20" y="182.80" width="19.00" height="27.60" fill="#87a5c3"/>
<rect x="450.00" y="199.28" width="19.00" height="11.12" fill="#de8797"/>
<circle cx="438.70" cy="165.08" r="1.3" fill="#1c4f8c"/>
<circle cx="438.70" cy="172.30" r="1.3" fill="#1c4f8c"/>
<circle cx="441.70" cy="172.95" r="1.3" fill="#1c4f8c"/>
<circle cx="435.70" cy="172.98" r="1.3" fill="#1c4f8c"/>
<circle cx="444.70" cy="174.20" r="1.3" fill="#1c4f8c"/>
<circle cx="433.30" cy="174.50" r="1.3" fill="#1c4f8c"/>
<circle cx="438.70" cy="175.58" r="1.3" fill="#1c4f8c"/>
<circle cx="441.70" cy="175.71" r="1.3" fill="#1c4f8c"/>
<circle cx="435.70" cy="175.87" r="1.3" fill="#1c4f8c"/>
<circle cx="444.10" cy="177.30" r="1.3" fill="#1c4f8c"/>
<circle cx="433.30" cy="177.38" r="1.3" fill="#1c4f8c"/>
<circle cx="439.90" cy="178.15" r="1.3" fill="#1c4f8c"/>
<circle cx="436.90" cy="178.91" r="1.3" fill="#1c4f8c"/>
<circle cx="446.50" cy="179.07" r="1.3" fill="#1c4f8c"/>
<circle cx="430.90" cy="179.15" r="1.3" fill="#1c4f8c"/>
<circle cx="442.30" cy="179.87" r="1.3" fill="#1c4f8c"/>
<circle cx="433.90" cy="180.11" r="1.3" fill="#1c4f8c"/>
<circle cx="438.70" cy="181.85" r="1.3" fill="#1c4f8c"/>
<circle cx="444.10" cy="182.17" r="1.3" fill="#1c4f8c"/>
<circle cx="435.70" cy="182.59" r="1.3" fill="#1c4f8c"/>
<circle cx="432.70" cy="182.73" r="1.3" fill="#1c4f8c"/>
<circle cx="440.50" cy="183.96" r="1.3" fill="#1c4f8c"/>
<circle cx="446.50" cy="184.04" r="1.3" fill="#1c4f8c"/>
<circle cx="437.50" cy="184.79" r="1.3" fill="#1c4f8c"/>
<circle cx="442.90" cy="185.80" r="1.3" fill="#1c4f8c"/>
<circle cx="434.50" cy="186.07" r="1.3" fill="#1c4f8c"/>
<circle cx="431.50" cy="186.29" r="1.3" fill="#1c4f8c"/>
<circle cx="439.90" cy="186.84" r="1.3" fill="#1c4f8c"/>
<circle cx="445.90" cy="187.03" r="1.3" fill="#1c4f8c"/>
<circle cx="436.90" cy="187.61" r="1.3" fill="#1c4f8c"/>
<circle cx="442.30" cy="188.88" r="1.3" fill="#1c4f8c"/>
<circle cx="434.50" cy="189.11" r="1.3" fill="#1c4f8c"/>
<circle cx="431.50" cy="189.48" r="1.3" fill="#1c4f8c"/>
<circle cx="438.70" cy="189.97" r="1.3" fill="#1c4f8c"/>
<circle cx="444.10" cy="191.17" r="1.3" fill="#1c4f8c"/>
<circle cx="459.50" cy="186.50" r="1.3" fill="#cf1430"/>
<circle cx="462.50" cy="187.74" r="1.3" fill="#cf1430"/>
<circle cx="457.70" cy="188.98" r="1.3" fill="#cf1430"/>
<circle cx="454.70" cy="189.80" r="1.3" fill="#cf1430"/>
<circle cx="460.70" cy="190.21" r="1.3" fill="#cf1430"/>
<circle cx="459.50" cy="195.28" r="1.3" fill="#cf1430"/>
<circle cx="462.50" cy="195.43" r="1.3" fill="#cf1430"/>
<circle cx="456.50" cy="196.15" r="1.3" fill="#cf1430"/>
<circle cx="465.50" cy="196.46" r="1.3" fill="#cf1430"/>
<circle cx="453.50" cy="196.89" r="1.3" fill="#cf1430"/>
<circle cx="467.65" cy="197.21" r="1.3" fill="#cf1430"/>
<circle cx="454.61" cy="197.23" r="1.3" fill="#cf1430"/>
<circle cx="467.39" cy="197.56" r="1.3" fill="#cf1430"/>
<circle cx="459.50" cy="198.40" r="1.3" fill="#cf1430"/>
<circle cx="462.50" cy="198.53" r="1.3" fill="#cf1430"/>
<circle cx="451.70" cy="199.08" r="1.3" fill="#cf1430"/>
<circle cx="456.50" cy="199.67" r="1.3" fill="#cf1430"/>
<circle cx="465.50" cy="199.77" r="1.3" fill="#cf1430"/>
<circle cx="457.73" cy="200.20" r="1.3" fill="#cf1430"/>
<circle cx="459.28" cy="200.47" r="1.3" fill="#cf1430"/>
<circle cx="468.04" cy="200.90" r="1.3" fill="#cf1430"/>
<circle cx="454.10" cy="201.21" r="1.3" fill="#cf1430"/>
<circle cx="461.90" cy="201.59" r="1.3" fill="#cf1430"/>
<circle cx="464.90" cy="202.66" r="1.3" fill="#cf1430"/>
<circle cx="451.70" cy="202.67" r="1.3" fill="#cf1430"/>
<circle cx="459.50" cy="203.55" r="1.3" fill="#cf1430"/>
<circle cx="456.50" cy="203.58" r="1.3" fill="#cf1430"/>
<circle cx="462.50" cy="204.75" r="1.3" fill="#cf1430"/>
<circle cx="454.10" cy="205.18" r="1.3" fill="#cf1430"/>
<circle cx="465.50" cy="205.53" r="1.3" fill="#cf1430"/>
<circle cx="459.50" cy="206.33" r="1.3" fill="#cf1430"/>
<line x1="438.70" y1="181.77" x2="438.70" y2="183.83" stroke="#231f20" stroke-width="0.9" />
<line x1="434.20" y1="181.77" x2="443.20" y2="181.77" stroke="#231f20" stroke-width="0.9" />
<line x1="434.20" y1="183.83" x2="443.20" y2="183.83" stroke="#231f20" stroke-width="0.9" />
<line x1="432.62" y1="182.80" x2="444.77" y2="182.80" stroke="#231f20" stroke-width="0.9" />
<line x1="459.50" y1="198.45" x2="459.50" y2="200.10" stroke="#231f20" stroke-width="0.9" />
<line x1="455.00" y1="198.45" x2="464.00" y2="198.45" stroke="#231f20" stroke-width="0.9" />
<line x1="455.00" y1="200.10" x2="464.00" y2="200.10" stroke="#231f20" stroke-width="0.9" />
<line x1="453.43" y1="199.28" x2="465.57" y2="199.28" stroke="#231f20" stroke-width="0.9" />
<line x1="418.80" y1="210.40" x2="479.20" y2="210.40" stroke="#111" stroke-width="1.1" />
<text x="458.90" y="185.95" font-size="9.0" fill="#231f20" stroke="#231f20" text-anchor="middle" textLength="12.8" lengthAdjust="spacingAndGlyphs" stroke-width="0.35">****</text>
<text transform="translate(369.80,177.40) rotate(-90)" font-size="10.0" fill="#231f20" text-anchor="middle" stroke="#231f20" stroke-width="0.12" textLength="34.4" lengthAdjust="spacingAndGlyphs">Thrombus</text>
<text transform="translate(383.30,176.90) rotate(-90)" font-size="10.0" fill="#231f20" text-anchor="middle" stroke="#231f20" stroke-width="0.12" textLength="54.2" lengthAdjust="spacingAndGlyphs">coverage (µm<tspan font-size="6" dy="-3.5">2</tspan><tspan dy="3.5">)</tspan></text>
<circle cx="458.20" cy="149.00" r="1.35" fill="#1c4f8c"/>
<text x="462.80" y="151.69" font-size="7.8" fill="#231f20" stroke="#231f20" stroke-width="0.12" textLength="48.8" lengthAdjust="spacingAndGlyphs" >Vehicle control</text>
<circle cx="458.20" cy="158.50" r="1.35" fill="#cf1430"/>
<text x="462.80" y="161.19" font-size="7.8" fill="#231f20" stroke="#231f20" stroke-width="0.12" textLength="50.2" lengthAdjust="spacingAndGlyphs" >CXCR7 agonist</text>
<text x="462.80" y="170.29" font-size="7.8" fill="#231f20" stroke="#231f20" stroke-width="0.12" textLength="45.8" lengthAdjust="spacingAndGlyphs" >300µg/mouse</text>
<text x="7.05" y="238.80" font-size="11.6" fill="#000" font-weight="bold" textLength="7.4" lengthAdjust="spacingAndGlyphs" stroke="#000" stroke-width="0.5">B</text>
<line x1="35.30" y1="247.00" x2="35.30" y2="325.90" stroke="#3a3a3a" stroke-width="1.6" />
<line x1="32.30" y1="325.30" x2="35.30" y2="325.30" stroke="#3a3a3a" stroke-width="1.0" />
<text x="28.80" y="328.13" font-size="8.2" fill="#231f20" stroke="#231f20" stroke-width="0.12" text-anchor="end" textLength="12.5" lengthAdjust="spacingAndGlyphs" >−50</text>
<line x1="32.30" y1="306.70" x2="35.30" y2="306.70" stroke="#3a3a3a" stroke-width="1.0" />
<text x="28.80" y="309.53" font-size="8.2" fill="#231f20" stroke="#231f20" stroke-width="0.12" text-anchor="end" textLength="4.1" lengthAdjust="spacingAndGlyphs" >0</text>
<line x1="32.30" y1="288.10" x2="35.30" y2="288.10" stroke="#3a3a3a" stroke-width="1.0" />
<text x="28.80" y="290.93" font-size="8.2" fill="#231f20" stroke="#231f20" stroke-width="0.12" text-anchor="end" textLength="8.2" lengthAdjust="spacingAndGlyphs" >50</text>
<line x1="32.30" y1="269.50" x2="35.30" y2="269.50" stroke="#3a3a3a" stroke-width="1.0" />
<text x="28.80" y="272.33" font-size="8.2" fill="#231f20" stroke="#231f20" stroke-width="0.12" text-anchor="end" textLength="12.3" lengthAdjust="spacingAndGlyphs" >100</text>
<line x1="32.30" y1="250.90" x2="35.30" y2="250.90" stroke="#3a3a3a" stroke-width="1.0" />
<text x="28.80" y="253.73" font-size="8.2" fill="#231f20" stroke="#231f20" stroke-width="0.12" text-anchor="end" textLength="12.3" lengthAdjust="spacingAndGlyphs" >150</text>
<line x1="37" y1="306.6" x2="241" y2="306.6" stroke="#9a9a9a" stroke-width="0.8" stroke-dasharray="0.8 2.0"/>
<line x1="34.50" y1="325.40" x2="241.50" y2="325.40" stroke="#111" stroke-width="1.1" />
<line x1="44.60" y1="280.60" x2="44.60" y2="312.20" stroke="#141414" stroke-width="1.2" />
<path d="M44.60,284.00 L45.00,284.00 L45.16,284.19 L45.40,284.46 L45.68,284.77 L45.93,285.12 L46.12,285.47 L46.20,285.80 L46.12,286.03 L45.93,286.17 L45.67,286.31 L45.39,286.56 L45.15,287.02 L45.00,287.80 L44.93,289.05 L44.89,290.71 L44.88,292.59 L44.91,294.48 L44.99,296.18 L45.10,297.50 L45.26,298.39 L45.48,299.01 L45.73,299.44 L46.01,299.77 L46.30,300.09 L46.60,300.50 L46.92,300.98 L47.29,301.46 L47.66,301.92 L48.03,302.38 L48.35,302.81 L48.60,303.20 L48.79,303.55 L48.93,303.86 L49.03,304.14 L49.09,304.42 L49.12,304.70 L49.10,305.00 L49.04,305.32 L48.94,305.65 L48.81,305.99 L48.63,306.33 L48.43,306.66 L48.20,307.00 L47.92,307.34 L47.59,307.68 L47.22,308.03 L46.85,308.36 L46.50,308.69 L46.20,309.00 L45.94,309.31 L45.70,309.62 L45.48,309.93 L45.28,310.20 L45.12,310.43 L45.00,310.60 L44.20,310.60 L44.08,310.43 L43.92,310.20 L43.73,309.93 L43.50,309.62 L43.26,309.31 L43.00,309.00 L42.70,308.69 L42.35,308.36 L41.98,308.03 L41.61,307.68 L41.28,307.34 L41.00,307.00 L40.77,306.66 L40.57,306.33 L40.39,305.99 L40.26,305.65 L40.16,305.32 L40.10,305.00 L40.08,304.70 L40.11,304.42 L40.17,304.14 L40.27,303.86 L40.41,303.55 L40.60,303.20 L40.85,302.81 L41.17,302.38 L41.54,301.92 L41.91,301.46 L42.28,300.98 L42.60,300.50 L42.90,300.09 L43.19,299.77 L43.47,299.44 L43.72,299.01 L43.94,298.39 L44.10,297.50 L44.21,296.18 L44.29,294.48 L44.32,292.59 L44.31,290.71 L44.27,289.05 L44.20,287.80 L44.05,287.02 L43.81,286.56 L43.53,286.31 L43.27,286.17 L43.08,286.03 L43.00,285.80 L43.08,285.47 L43.27,285.12 L43.52,284.77 L43.80,284.46 L44.04,284.19 L44.20,284.00 Z" fill="#ec93a6" stroke="#141414" stroke-width="1.15" stroke-linejoin="round"/>
<line x1="40.40" y1="304.80" x2="48.80" y2="304.80" stroke="#7a2030" stroke-width="0.5" />
<circle cx="44.60" cy="285.90" r="0.75" fill="#d0142f"/>
<circle cx="42.60" cy="304.50" r="0.75" fill="#d0142f"/>
<circle cx="46.60" cy="305.50" r="0.75" fill="#d0142f"/>
<circle cx="44.60" cy="303.00" r="0.75" fill="#d0142f"/>
<line x1="73.50" y1="294.80" x2="73.50" y2="310.50" stroke="#141414" stroke-width="1.2" />
<path d="M73.50,295.20 L73.90,295.20 L74.04,295.43 L74.26,295.74 L74.51,296.12 L74.75,296.52 L74.93,296.93 L75.00,297.30 L74.94,297.64 L74.77,297.98 L74.55,298.32 L74.31,298.66 L74.12,299.02 L74.00,299.40 L73.95,299.82 L73.93,300.27 L73.95,300.73 L74.01,301.19 L74.12,301.62 L74.30,302.00 L74.56,302.32 L74.91,302.60 L75.32,302.84 L75.74,303.08 L76.15,303.33 L76.50,303.60 L76.83,303.90 L77.17,304.21 L77.49,304.53 L77.77,304.85 L77.98,305.17 L78.10,305.50 L78.13,305.83 L78.08,306.18 L77.96,306.52 L77.79,306.87 L77.57,307.19 L77.30,307.50 L76.95,307.78 L76.50,308.06 L76.00,308.31 L75.50,308.56 L75.05,308.78 L74.70,309.00 L74.45,309.21 L74.27,309.41 L74.14,309.59 L74.04,309.76 L73.97,309.90 L73.90,310.00 L73.10,310.00 L73.03,309.90 L72.96,309.76 L72.86,309.59 L72.73,309.41 L72.55,309.21 L72.30,309.00 L71.95,308.78 L71.50,308.56 L71.00,308.31 L70.50,308.06 L70.05,307.78 L69.70,307.50 L69.43,307.19 L69.21,306.87 L69.04,306.52 L68.92,306.18 L68.87,305.83 L68.90,305.50 L69.02,305.17 L69.23,304.85 L69.51,304.53 L69.83,304.21 L70.17,303.90 L70.50,303.60 L70.85,303.33 L71.26,303.08 L71.68,302.84 L72.09,302.60 L72.44,302.32 L72.70,302.00 L72.88,301.62 L72.99,301.19 L73.05,300.73 L73.07,300.27 L73.05,299.82 L73.00,299.40 L72.88,299.02 L72.69,298.66 L72.45,298.32 L72.23,297.98 L72.06,297.64 L72.00,297.30 L72.07,296.93 L72.25,296.52 L72.49,296.12 L72.74,295.74 L72.96,295.43 L73.10,295.20 Z" fill="#ec93a6" stroke="#141414" stroke-width="1.15" stroke-linejoin="round"/>
<line x1="69.10" y1="305.40" x2="77.90" y2="305.40" stroke="#7a2030" stroke-width="0.5" />
<circle cx="73.50" cy="297.40" r="0.75" fill="#d0142f"/>
<circle cx="71.50" cy="305.50" r="0.75" fill="#d0142f"/>
<circle cx="75.00" cy="304.60" r="0.75" fill="#d0142f"/>
<circle cx="76.00" cy="306.20" r="0.75" fill="#d0142f"/>
<line x1="101.90" y1="282.60" x2="101.90" y2="311.50" stroke="#141414" stroke-width="1.2" />
<path d="M101.90,284.50 L102.30,284.50 L102.42,284.71 L102.58,285.00 L102.77,285.34 L102.98,285.72 L103.19,286.11 L103.40,286.50 L103.62,286.89 L103.86,287.30 L104.11,287.72 L104.34,288.15 L104.54,288.58 L104.70,289.00 L104.80,289.42 L104.87,289.83 L104.91,290.25 L104.92,290.67 L104.91,291.08 L104.90,291.50 L104.85,291.92 L104.76,292.33 L104.65,292.75 L104.55,293.17 L104.49,293.58 L104.50,294.00 L104.58,294.41 L104.72,294.80 L104.89,295.19 L105.09,295.59 L105.30,296.03 L105.50,296.50 L105.72,297.03 L105.97,297.59 L106.23,298.19 L106.47,298.80 L106.67,299.41 L106.80,300.00 L106.87,300.59 L106.90,301.20 L106.89,301.81 L106.83,302.41 L106.74,302.97 L106.60,303.50 L106.41,303.99 L106.16,304.44 L105.86,304.88 L105.54,305.28 L105.22,305.65 L104.90,306.00 L104.57,306.31 L104.20,306.59 L103.83,306.84 L103.47,307.07 L103.16,307.29 L102.90,307.50 L102.71,307.71 L102.57,307.91 L102.48,308.09 L102.40,308.26 L102.35,308.40 L102.30,308.50 L101.50,308.50 L101.45,308.40 L101.40,308.26 L101.33,308.09 L101.23,307.91 L101.09,307.71 L100.90,307.50 L100.64,307.29 L100.33,307.07 L99.97,306.84 L99.60,306.59 L99.23,306.31 L98.90,306.00 L98.58,305.65 L98.26,305.28 L97.94,304.88 L97.64,304.44 L97.39,303.99 L97.20,303.50 L97.06,302.97 L96.97,302.41 L96.91,301.81 L96.90,301.20 L96.93,300.59 L97.00,300.00 L97.13,299.41 L97.33,298.80 L97.58,298.19 L97.83,297.59 L98.08,297.03 L98.30,296.50 L98.50,296.03 L98.71,295.59 L98.91,295.19 L99.08,294.80 L99.22,294.41 L99.30,294.00 L99.31,293.58 L99.25,293.17 L99.15,292.75 L99.04,292.33 L98.95,291.92 L98.90,291.50 L98.89,291.08 L98.88,290.67 L98.89,290.25 L98.93,289.83 L99.00,289.42 L99.10,289.00 L99.26,288.58 L99.46,288.15 L99.69,287.72 L99.94,287.30 L100.18,286.89 L100.40,286.50 L100.61,286.11 L100.82,285.72 L101.03,285.34 L101.22,285.00 L101.38,284.71 L101.50,284.50 Z" fill="#ec93a6" stroke="#141414" stroke-width="1.15" stroke-linejoin="round"/>
<line x1="97.30" y1="300.60" x2="106.50" y2="300.60" stroke="#7a2030" stroke-width="0.5" />
<circle cx="101.90" cy="289.00" r="0.75" fill="#d0142f"/>
<circle cx="100.40" cy="292.00" r="0.75" fill="#d0142f"/>
<circle cx="103.70" cy="297.00" r="0.75" fill="#d0142f"/>
<circle cx="101.90" cy="300.50" r="0.75" fill="#d0142f"/>
<circle cx="99.90" cy="302.00" r="0.75" fill="#d0142f"/>
<circle cx="103.40" cy="304.00" r="0.75" fill="#d0142f"/>
<line x1="130.80" y1="295.20" x2="130.80" y2="308.60" stroke="#141414" stroke-width="1.2" />
<path d="M130.80,295.60 L131.20,295.60 L131.32,295.80 L131.49,296.07 L131.69,296.39 L131.91,296.75 L132.15,297.13 L132.40,297.50 L132.67,297.88 L132.97,298.28 L133.29,298.69 L133.61,299.12 L133.92,299.56 L134.20,300.00 L134.48,300.45 L134.77,300.93 L135.05,301.41 L135.30,301.89 L135.49,302.35 L135.60,302.80 L135.64,303.23 L135.61,303.64 L135.54,304.05 L135.41,304.44 L135.23,304.83 L135.00,305.20 L134.69,305.57 L134.30,305.93 L133.85,306.29 L133.39,306.62 L132.96,306.93 L132.60,307.20 L132.29,307.44 L132.01,307.64 L131.75,307.82 L131.53,307.98 L131.34,308.10 L131.20,308.20 L130.40,308.20 L130.26,308.10 L130.07,307.98 L129.85,307.82 L129.59,307.64 L129.31,307.44 L129.00,307.20 L128.64,306.93 L128.21,306.62 L127.75,306.29 L127.30,305.93 L126.91,305.57 L126.60,305.20 L126.37,304.83 L126.19,304.44 L126.06,304.05 L125.99,303.64 L125.96,303.23 L126.00,302.80 L126.11,302.35 L126.30,301.89 L126.55,301.41 L126.83,300.93 L127.12,300.45 L127.40,300.00 L127.68,299.56 L127.99,299.12 L128.31,298.69 L128.63,298.28 L128.93,297.88 L129.20,297.50 L129.45,297.13 L129.69,296.75 L129.91,296.39 L130.11,296.07 L130.28,295.80 L130.40,295.60 Z" fill="#ec93a6" stroke="#141414" stroke-width="1.15" stroke-linejoin="round"/>
<line x1="126.20" y1="302.80" x2="135.40" y2="302.80" stroke="#7a2030" stroke-width="0.5" />
<circle cx="130.80" cy="298.50" r="0.75" fill="#d0142f"/>
<circle cx="128.80" cy="301.50" r="0.75" fill="#d0142f"/>
<circle cx="132.80" cy="302.50" r="0.75" fill="#d0142f"/>
<circle cx="130.80" cy="304.50" r="0.75" fill="#d0142f"/>
<line x1="159.50" y1="257.00" x2="159.50" y2="321.80" stroke="#141414" stroke-width="1.2" />
<path d="M159.50,263.50 L160.00,263.50 L160.07,263.81 L160.16,264.24 L160.28,264.75 L160.40,265.31 L160.55,265.91 L160.70,266.50 L160.88,267.10 L161.09,267.74 L161.32,268.41 L161.54,269.09 L161.74,269.79 L161.90,270.50 L162.02,271.22 L162.13,271.94 L162.21,272.69 L162.27,273.44 L162.30,274.22 L162.30,275.00 L162.26,275.82 L162.19,276.67 L162.08,277.53 L161.96,278.39 L161.83,279.22 L161.70,280.00 L161.56,280.73 L161.40,281.43 L161.23,282.10 L161.07,282.75 L160.92,283.38 L160.80,284.00 L160.70,284.60 L160.60,285.17 L160.52,285.73 L160.47,286.27 L160.46,286.83 L160.50,287.40 L160.61,287.98 L160.77,288.57 L160.97,289.16 L161.20,289.76 L161.45,290.37 L161.70,291.00 L161.98,291.64 L162.29,292.30 L162.62,292.96 L162.94,293.64 L163.25,294.32 L163.50,295.00 L163.72,295.69 L163.91,296.38 L164.09,297.08 L164.23,297.79 L164.34,298.49 L164.40,299.20 L164.42,299.91 L164.40,300.64 L164.35,301.36 L164.26,302.09 L164.15,302.80 L164.00,303.50 L163.82,304.20 L163.59,304.89 L163.33,305.58 L163.06,306.25 L162.77,306.89 L162.50,307.50 L162.22,308.07 L161.92,308.62 L161.61,309.14 L161.31,309.63 L161.04,310.08 L160.80,310.50 L160.59,310.89 L160.41,311.26 L160.24,311.59 L160.10,311.88 L159.99,312.12 L159.90,312.30 L159.10,312.30 L159.01,312.12 L158.90,311.88 L158.76,311.59 L158.59,311.26 L158.41,310.89 L158.20,310.50 L157.96,310.08 L157.69,309.63 L157.39,309.14 L157.08,308.62 L156.78,308.07 L156.50,307.50 L156.23,306.89 L155.94,306.25 L155.67,305.58 L155.41,304.89 L155.18,304.20 L155.00,303.50 L154.85,302.80 L154.74,302.09 L154.65,301.36 L154.60,300.64 L154.58,299.91 L154.60,299.20 L154.66,298.49 L154.77,297.79 L154.91,297.08 L155.09,296.38 L155.28,295.69 L155.50,295.00 L155.75,294.32 L156.06,293.64 L156.38,292.96 L156.71,292.30 L157.02,291.64 L157.30,291.00 L157.55,290.37 L157.80,289.76 L158.03,289.16 L158.23,288.57 L158.39,287.98 L158.50,287.40 L158.54,286.83 L158.53,286.27 L158.48,285.73 L158.40,285.17 L158.30,284.60 L158.20,284.00 L158.08,283.38 L157.93,282.75 L157.77,282.10 L157.60,281.43 L157.44,280.73 L157.30,280.00 L157.17,279.22 L157.04,278.39 L156.92,277.53 L156.81,276.67 L156.74,275.82 L156.70,275.00 L156.70,274.22 L156.73,273.44 L156.79,272.69 L156.87,271.94 L156.98,271.22 L157.10,270.50 L157.26,269.79 L157.46,269.09 L157.68,268.41 L157.91,267.74 L158.12,267.10 L158.30,266.50 L158.45,265.91 L158.60,265.31 L158.72,264.75 L158.84,264.24 L158.93,263.81 L159.00,263.50 Z" fill="#ec93a6" stroke="#141414" stroke-width="1.15" stroke-linejoin="round"/>
<line x1="154.80" y1="297.30" x2="164.20" y2="297.30" stroke="#7a2030" stroke-width="0.5" />
<line x1="154.80" y1="301.50" x2="164.20" y2="301.50" stroke="#7a2030" stroke-width="0.5" />
<circle cx="159.50" cy="272.50" r="0.75" fill="#d0142f"/>
<circle cx="159.50" cy="278.50" r="0.75" fill="#d0142f"/>
<circle cx="159.50" cy="295.50" r="0.75" fill="#d0142f"/>
<circle cx="157.50" cy="298.50" r="0.75" fill="#d0142f"/>
<circle cx="161.50" cy="299.50" r="0.75" fill="#d0142f"/>
<circle cx="159.50" cy="304.00" r="0.75" fill="#d0142f"/>
<line x1="188.40" y1="266.80" x2="188.40" y2="313.00" stroke="#141414" stroke-width="1.2" />
<path d="M188.40,272.60 L188.90,272.60 L189.03,272.85 L189.21,273.20 L189.43,273.61 L189.67,274.07 L189.93,274.54 L190.20,275.00 L190.50,275.46 L190.84,275.94 L191.20,276.43 L191.56,276.94 L191.90,277.46 L192.20,278.00 L192.49,278.55 L192.78,279.13 L193.06,279.72 L193.29,280.31 L193.44,280.91 L193.50,281.50 L193.45,282.09 L193.30,282.69 L193.08,283.28 L192.80,283.87 L192.50,284.45 L192.20,285.00 L191.86,285.54 L191.46,286.08 L191.03,286.61 L190.60,287.11 L190.21,287.58 L189.90,288.00 L189.66,288.36 L189.46,288.66 L189.29,288.92 L189.17,289.18 L189.07,289.46 L189.00,289.80 L188.96,290.19 L188.96,290.60 L188.98,291.04 L189.03,291.51 L189.11,291.99 L189.20,292.50 L189.33,293.03 L189.50,293.60 L189.69,294.19 L189.88,294.79 L190.06,295.40 L190.20,296.00 L190.31,296.61 L190.41,297.23 L190.50,297.86 L190.56,298.49 L190.60,299.10 L190.60,299.70 L190.56,300.28 L190.49,300.86 L190.38,301.42 L190.26,301.97 L190.13,302.50 L190.00,303.00 L189.86,303.48 L189.70,303.96 L189.53,304.41 L189.37,304.82 L189.22,305.19 L189.10,305.50 L189.01,305.74 L188.94,305.92 L188.89,306.06 L188.86,306.16 L188.83,306.23 L188.80,306.30 L188.00,306.30 L187.97,306.23 L187.94,306.16 L187.91,306.06 L187.86,305.92 L187.79,305.74 L187.70,305.50 L187.58,305.19 L187.43,304.82 L187.27,304.41 L187.10,303.96 L186.94,303.48 L186.80,303.00 L186.67,302.50 L186.54,301.97 L186.42,301.42 L186.31,300.86 L186.24,300.28 L186.20,299.70 L186.20,299.10 L186.24,298.49 L186.30,297.86 L186.39,297.23 L186.49,296.61 L186.60,296.00 L186.74,295.40 L186.92,294.79 L187.11,294.19 L187.30,293.60 L187.47,293.03 L187.60,292.50 L187.69,291.99 L187.77,291.51 L187.82,291.04 L187.84,290.60 L187.84,290.19 L187.80,289.80 L187.73,289.46 L187.63,289.18 L187.51,288.92 L187.34,288.66 L187.14,288.36 L186.90,288.00 L186.59,287.58 L186.20,287.11 L185.78,286.61 L185.34,286.08 L184.94,285.54 L184.60,285.00 L184.30,284.45 L184.00,283.87 L183.72,283.28 L183.50,282.69 L183.35,282.09 L183.30,281.50 L183.36,280.91 L183.51,280.31 L183.74,279.72 L184.02,279.13 L184.31,278.55 L184.60,278.00 L184.90,277.46 L185.24,276.94 L185.60,276.43 L185.96,275.94 L186.30,275.46 L186.60,275.00 L186.87,274.54 L187.13,274.07 L187.38,273.61 L187.59,273.20 L187.77,272.85 L187.90,272.60 Z" fill="#ec93a6" stroke="#141414" stroke-width="1.15" stroke-linejoin="round"/>
<line x1="183.80" y1="280.00" x2="193.00" y2="280.00" stroke="#7a2030" stroke-width="0.5" />
<line x1="183.80" y1="283.30" x2="193.00" y2="283.30" stroke="#7a2030" stroke-width="0.5" />
<circle cx="188.40" cy="279.50" r="0.75" fill="#d0142f"/>
<circle cx="188.40" cy="282.00" r="0.75" fill="#d0142f"/>
<circle cx="188.40" cy="283.00" r="0.75" fill="#d0142f"/>
<circle cx="188.40" cy="300.00" r="0.75" fill="#d0142f"/>
<line x1="217.00" y1="293.60" x2="217.00" y2="309.30" stroke="#141414" stroke-width="1.2" />
<path d="M217.00,295.50 L217.40,295.50 L217.51,295.66 L217.68,295.87 L217.87,296.12 L218.07,296.41 L218.25,296.70 L218.40,297.00 L218.52,297.30 L218.63,297.63 L218.72,297.97 L218.80,298.31 L218.86,298.66 L218.90,299.00 L218.91,299.34 L218.88,299.68 L218.83,300.03 L218.79,300.36 L218.77,300.69 L218.80,301.00 L218.87,301.29 L218.96,301.56 L219.08,301.82 L219.23,302.07 L219.40,302.33 L219.60,302.60 L219.87,302.88 L220.22,303.16 L220.60,303.45 L220.96,303.74 L221.24,304.02 L221.40,304.30 L221.43,304.57 L221.37,304.85 L221.24,305.12 L221.06,305.39 L220.84,305.65 L220.60,305.90 L220.31,306.15 L219.96,306.39 L219.57,306.62 L219.17,306.86 L218.81,307.08 L218.50,307.30 L218.25,307.53 L218.02,307.76 L217.82,307.99 L217.65,308.20 L217.51,308.37 L217.40,308.50 L216.60,308.50 L216.49,308.37 L216.35,308.20 L216.18,307.99 L215.98,307.76 L215.75,307.53 L215.50,307.30 L215.19,307.08 L214.83,306.86 L214.43,306.62 L214.04,306.39 L213.69,306.15 L213.40,305.90 L213.16,305.65 L212.94,305.39 L212.76,305.12 L212.63,304.85 L212.57,304.57 L212.60,304.30 L212.76,304.02 L213.04,303.74 L213.40,303.45 L213.78,303.16 L214.13,302.88 L214.40,302.60 L214.60,302.33 L214.77,302.07 L214.92,301.82 L215.04,301.56 L215.13,301.29 L215.20,301.00 L215.23,300.69 L215.21,300.36 L215.17,300.03 L215.12,299.68 L215.09,299.34 L215.10,299.00 L215.14,298.66 L215.20,298.31 L215.28,297.97 L215.37,297.63 L215.48,297.30 L215.60,297.00 L215.75,296.70 L215.93,296.41 L216.13,296.12 L216.32,295.87 L216.49,295.66 L216.60,295.50 Z" fill="#ec93a6" stroke="#141414" stroke-width="1.15" stroke-linejoin="round"/>
<line x1="212.80" y1="304.50" x2="221.20" y2="304.50" stroke="#7a2030" stroke-width="0.5" />
<circle cx="217.00" cy="298.50" r="0.75" fill="#d0142f"/>
<circle cx="217.00" cy="301.50" r="0.75" fill="#d0142f"/>
<circle cx="215.00" cy="304.50" r="0.75" fill="#d0142f"/>
<circle cx="218.50" cy="304.80" r="0.75" fill="#d0142f"/>
<path d="M52.30,306.40 Q57.40,304.60 62.50,306.40 Z" fill="#2a5d98" stroke="#1c4f8c" stroke-width="0.5"/>
<circle cx="52.30" cy="306.10" r="0.55" fill="#1c4f8c"/>
<circle cx="54.00" cy="306.10" r="0.55" fill="#1c4f8c"/>
<circle cx="55.70" cy="306.10" r="0.55" fill="#1c4f8c"/>
<circle cx="57.40" cy="306.10" r="0.55" fill="#1c4f8c"/>
<circle cx="59.10" cy="306.10" r="0.55" fill="#1c4f8c"/>
<circle cx="60.80" cy="306.10" r="0.55" fill="#1c4f8c"/>
<circle cx="62.50" cy="306.10" r="0.55" fill="#1c4f8c"/>
<path d="M80.80,306.40 Q86.40,304.60 92.00,306.40 Z" fill="#2a5d98" stroke="#1c4f8c" stroke-width="0.5"/>
<circle cx="80.80" cy="306.10" r="0.55" fill="#1c4f8c"/>
<circle cx="82.40" cy="306.10" r="0.55" fill="#1c4f8c"/>
<circle cx="84.00" cy="306.10" r="0.55" fill="#1c4f8c"/>
<circle cx="85.60" cy="306.10" r="0.55" fill="#1c4f8c"/>
<circle cx="87.20" cy="306.10" r="0.55" fill="#1c4f8c"/>
<circle cx="88.80" cy="306.10" r="0.55" fill="#1c4f8c"/>
<circle cx="90.40" cy="306.10" r="0.55" fill="#1c4f8c"/>
<circle cx="92.00" cy="306.10" r="0.55" fill="#1c4f8c"/>
<path d="M110.20,306.40 Q115.30,304.60 120.40,306.40 Z" fill="#2a5d98" stroke="#1c4f8c" stroke-width="0.5"/>
<circle cx="110.20" cy="306.10" r="0.55" fill="#1c4f8c"/>
<circle cx="111.90" cy="306.10" r="0.55" fill="#1c4f8c"/>
<circle cx="113.60" cy="306.10" r="0.55" fill="#1c4f8c"/>
<circle cx="115.30" cy="306.10" r="0.55" fill="#1c4f8c"/>
<circle cx="117.00" cy="306.10" r="0.55" fill="#1c4f8c"/>
<circle cx="118.70" cy="306.10" r="0.55" fill="#1c4f8c"/>
<circle cx="120.40" cy="306.10" r="0.55" fill="#1c4f8c"/>
<path d="M139.00,306.40 Q143.85,304.60 148.70,306.40 Z" fill="#2a5d98" stroke="#1c4f8c" stroke-width="0.5"/>
<circle cx="139.00" cy="306.10" r="0.55" fill="#1c4f8c"/>
<circle cx="140.62" cy="306.10" r="0.55" fill="#1c4f8c"/>
<circle cx="142.23" cy="306.10" r="0.55" fill="#1c4f8c"/>
<circle cx="143.85" cy="306.10" r="0.55" fill="#1c4f8c"/>
<circle cx="145.47" cy="306.10" r="0.55" fill="#1c4f8c"/>
<circle cx="147.08" cy="306.10" r="0.55" fill="#1c4f8c"/>
<circle cx="148.70" cy="306.10" r="0.55" fill="#1c4f8c"/>
<path d="M167.30,306.40 Q172.40,304.60 177.50,306.40 Z" fill="#2a5d98" stroke="#1c4f8c" stroke-width="0.5"/>
<circle cx="167.30" cy="306.10" r="0.55" fill="#1c4f8c"/>
<circle cx="169.00" cy="306.10" r="0.55" fill="#1c4f8c"/>
<circle cx="170.70" cy="306.10" r="0.55" fill="#1c4f8c"/>
<circle cx="172.40" cy="306.10" r="0.55" fill="#1c4f8c"/>
<circle cx="174.10" cy="306.10" r="0.55" fill="#1c4f8c"/>
<circle cx="175.80" cy="306.10" r="0.55" fill="#1c4f8c"/>
<circle cx="177.50" cy="306.10" r="0.55" fill="#1c4f8c"/>
<path d="M196.50,306.40 Q201.75,304.60 207.00,306.40 Z" fill="#2a5d98" stroke="#1c4f8c" stroke-width="0.5"/>
<circle cx="196.50" cy="306.10" r="0.55" fill="#1c4f8c"/>
<circle cx="198.25" cy="306.10" r="0.55" fill="#1c4f8c"/>
<circle cx="200.00" cy="306.10" r="0.55" fill="#1c4f8c"/>
<circle cx="201.75" cy="306.10" r="0.55" fill="#1c4f8c"/>
<circle cx="203.50" cy="306.10" r="0.55" fill="#1c4f8c"/>
<circle cx="205.25" cy="306.10" r="0.55" fill="#1c4f8c"/>
<circle cx="207.00" cy="306.10" r="0.55" fill="#1c4f8c"/>
<path d="M225.00,306.40 Q230.40,304.60 235.80,306.40 Z" fill="#2a5d98" stroke="#1c4f8c" stroke-width="0.5"/>
<circle cx="225.00" cy="306.10" r="0.55" fill="#1c4f8c"/>
<circle cx="226.80" cy="306.10" r="0.55" fill="#1c4f8c"/>
<circle cx="228.60" cy="306.10" r="0.55" fill="#1c4f8c"/>
<circle cx="230.40" cy="306.10" r="0.55" fill="#1c4f8c"/>
<circle cx="232.20" cy="306.10" r="0.55" fill="#1c4f8c"/>
<circle cx="234.00" cy="306.10" r="0.55" fill="#1c4f8c"/>
<circle cx="235.80" cy="306.10" r="0.55" fill="#1c4f8c"/>
<text x="57.40" y="305.55" font-size="9.0" fill="#231f20" stroke="#231f20" text-anchor="middle" textLength="2.75" lengthAdjust="spacingAndGlyphs" stroke-width="0.35">*</text>
<text x="86.20" y="305.55" font-size="9.0" fill="#231f20" stroke="#231f20" text-anchor="middle" textLength="6.1000000000000005" lengthAdjust="spacingAndGlyphs" stroke-width="0.35">**</text>
<text x="115.30" y="305.55" font-size="9.0" fill="#231f20" stroke="#231f20" text-anchor="middle" textLength="6.1000000000000005" lengthAdjust="spacingAndGlyphs" stroke-width="0.35">**</text>
<text x="143.90" y="305.55" font-size="9.0" fill="#231f20" stroke="#231f20" text-anchor="middle" textLength="2.75" lengthAdjust="spacingAndGlyphs" stroke-width="0.35">*</text>
<text x="172.70" y="305.55" font-size="9.0" fill="#231f20" stroke="#231f20" text-anchor="middle" textLength="2.75" lengthAdjust="spacingAndGlyphs" stroke-width="0.35">*</text>
<text x="201.30" y="305.55" font-size="9.0" fill="#231f20" stroke="#231f20" text-anchor="middle" textLength="6.1000000000000005" lengthAdjust="spacingAndGlyphs" stroke-width="0.35">**</text>
<rect x="41.30" y="250.90" width="4.60" height="4.60" fill="#d41f3a"/>
<text x="49.30" y="255.79" font-size="7.8" fill="#231f20" stroke="#231f20" stroke-width="0.12" textLength="48.8" lengthAdjust="spacingAndGlyphs" >Vehicle control</text>
<rect x="41.30" y="259.90" width="4.60" height="4.60" fill="#1c4f8c"/>
<text x="49.30" y="265.19" font-size="7.8" fill="#231f20" stroke="#231f20" stroke-width="0.12" textLength="98" lengthAdjust="spacingAndGlyphs" >CXCR7 agonist 300µg/mouse</text>
<text transform="translate(15.20,287.80) rotate(-90)" font-size="10.0" fill="#231f20" text-anchor="middle" stroke="#231f20" stroke-width="0.12" textLength="46.4" lengthAdjust="spacingAndGlyphs">Concn- pg/ml</text>
<text transform="translate(45.80,331.20) rotate(-45)" font-size="8.0" fill="#231f20" text-anchor="end">IL1α</text>
<text transform="translate(74.70,331.20) rotate(-45)" font-size="8.0" fill="#231f20" text-anchor="end">IFNγ</text>
<text transform="translate(103.10,331.20) rotate(-45)" font-size="8.0" fill="#231f20" text-anchor="end">TNFα</text>
<text transform="translate(132.00,331.20) rotate(-45)" font-size="8.0" fill="#231f20" text-anchor="end">MCP-1</text>
<text transform="translate(160.80,331.20) rotate(-45)" font-size="8.0" fill="#231f20" text-anchor="end">IL1β</text>
<text transform="translate(189.60,331.20) rotate(-45)" font-size="8.0" fill="#231f20" text-anchor="end">IL6</text>
<text transform="translate(218.20,331.20) rotate(-45)" font-size="8.0" fill="#231f20" text-anchor="end">GMCSF</text>
<text x="262.35" y="238.80" font-size="11.6" fill="#000" font-weight="bold" textLength="6.8" lengthAdjust="spacingAndGlyphs" stroke="#000" stroke-width="0.5">C</text>
<line x1="285.90" y1="250.00" x2="285.90" y2="325.60" stroke="#3a3a3a" stroke-width="1.6" />
<line x1="282.90" y1="325.10" x2="285.90" y2="325.10" stroke="#3a3a3a" stroke-width="1.0" />
<text x="279.40" y="327.93" font-size="8.2" fill="#231f20" stroke="#231f20" stroke-width="0.12" text-anchor="end" textLength="4.1" lengthAdjust="spacingAndGlyphs" >0</text>
<line x1="282.90" y1="301.33" x2="285.90" y2="301.33" stroke="#3a3a3a" stroke-width="1.0" />
<text x="279.40" y="304.16" font-size="8.2" fill="#231f20" stroke="#231f20" stroke-width="0.12" text-anchor="end" textLength="4.1" lengthAdjust="spacingAndGlyphs" >5</text>
<line x1="282.90" y1="277.57" x2="285.90" y2="277.57" stroke="#3a3a3a" stroke-width="1.0" />
<text x="279.40" y="280.40" font-size="8.2" fill="#231f20" stroke="#231f20" stroke-width="0.12" text-anchor="end" textLength="8.2" lengthAdjust="spacingAndGlyphs" >10</text>
<line x1="282.90" y1="253.80" x2="285.90" y2="253.80" stroke="#3a3a3a" stroke-width="1.0" />
<text x="279.40" y="256.63" font-size="8.2" fill="#231f20" stroke="#231f20" stroke-width="0.12" text-anchor="end" textLength="8.2" lengthAdjust="spacingAndGlyphs" >15</text>
<rect x="291.50" y="300.38" width="13.10" height="24.72" fill="#87a5c3"/>
<rect x="306.20" y="312.03" width="12.60" height="13.07" fill="#de8797"/>
<rect x="324.20" y="295.15" width="13.10" height="29.95" fill="#87a5c3"/>
<rect x="339.00" y="312.27" width="12.70" height="12.83" fill="#de8797"/>
<circle cx="298.00" cy="289.93" r="1.4" fill="#1c4f8c"/>
<circle cx="298.00" cy="295.63" r="1.4" fill="#1c4f8c"/>
<circle cx="296.00" cy="300.86" r="1.4" fill="#1c4f8c"/>
<circle cx="300.00" cy="301.33" r="1.4" fill="#1c4f8c"/>
<circle cx="296.50" cy="303.71" r="1.4" fill="#1c4f8c"/>
<circle cx="298.00" cy="309.41" r="1.4" fill="#1c4f8c"/>
<circle cx="312.50" cy="299.43" r="1.4" fill="#cf1430"/>
<circle cx="312.50" cy="304.19" r="1.4" fill="#cf1430"/>
<circle cx="310.00" cy="313.69" r="1.4" fill="#cf1430"/>
<circle cx="315.00" cy="312.74" r="1.4" fill="#cf1430"/>
<circle cx="310.00" cy="319.40" r="1.4" fill="#cf1430"/>
<circle cx="315.00" cy="319.40" r="1.4" fill="#cf1430"/>
<circle cx="327.50" cy="273.76" r="1.4" fill="#1c4f8c"/>
<circle cx="334.00" cy="271.39" r="1.4" fill="#1c4f8c"/>
<circle cx="330.80" cy="303.23" r="1.4" fill="#1c4f8c"/>
<circle cx="327.50" cy="308.46" r="1.4" fill="#1c4f8c"/>
<circle cx="330.80" cy="308.46" r="1.4" fill="#1c4f8c"/>
<circle cx="334.00" cy="308.46" r="1.4" fill="#1c4f8c"/>
<circle cx="345.40" cy="305.61" r="1.4" fill="#cf1430"/>
<circle cx="342.50" cy="311.32" r="1.4" fill="#cf1430"/>
<circle cx="348.00" cy="311.32" r="1.4" fill="#cf1430"/>
<circle cx="342.00" cy="313.69" r="1.4" fill="#cf1430"/>
<circle cx="345.40" cy="313.22" r="1.4" fill="#cf1430"/>
<circle cx="349.00" cy="313.69" r="1.4" fill="#cf1430"/>
<line x1="298.00" y1="297.29" x2="298.00" y2="303.47" stroke="#231f20" stroke-width="0.9" />
<line x1="295.50" y1="297.29" x2="300.50" y2="297.29" stroke="#231f20" stroke-width="0.9" />
<line x1="295.50" y1="303.47" x2="300.50" y2="303.47" stroke="#231f20" stroke-width="0.9" />
<line x1="294.62" y1="300.38" x2="301.38" y2="300.38" stroke="#231f20" stroke-width="0.9" />
<line x1="312.50" y1="308.70" x2="312.50" y2="315.36" stroke="#231f20" stroke-width="0.9" />
<line x1="310.00" y1="308.70" x2="315.00" y2="308.70" stroke="#231f20" stroke-width="0.9" />
<line x1="310.00" y1="315.36" x2="315.00" y2="315.36" stroke="#231f20" stroke-width="0.9" />
<line x1="309.12" y1="312.03" x2="315.88" y2="312.03" stroke="#231f20" stroke-width="0.9" />
<line x1="330.80" y1="287.55" x2="330.80" y2="302.76" stroke="#231f20" stroke-width="0.9" />
<line x1="328.30" y1="287.55" x2="333.30" y2="287.55" stroke="#231f20" stroke-width="0.9" />
<line x1="328.30" y1="302.76" x2="333.30" y2="302.76" stroke="#231f20" stroke-width="0.9" />
<line x1="327.43" y1="295.15" x2="334.18" y2="295.15" stroke="#231f20" stroke-width="0.9" />
<line x1="345.40" y1="310.60" x2="345.40" y2="313.93" stroke="#231f20" stroke-width="0.9" />
<line x1="342.90" y1="310.60" x2="347.90" y2="310.60" stroke="#231f20" stroke-width="0.9" />
<line x1="342.90" y1="313.93" x2="347.90" y2="313.93" stroke="#231f20" stroke-width="0.9" />
<line x1="342.02" y1="312.27" x2="348.77" y2="312.27" stroke="#231f20" stroke-width="0.9" />
<line x1="285.10" y1="325.30" x2="357.70" y2="325.30" stroke="#111" stroke-width="1.1" />
<text x="312.60" y="299.55" font-size="9.0" fill="#231f20" stroke="#231f20" text-anchor="middle" textLength="2.75" lengthAdjust="spacingAndGlyphs" stroke-width="0.35">*</text>
<text x="345.40" y="306.55" font-size="9.0" fill="#231f20" stroke="#231f20" text-anchor="middle" textLength="2.75" lengthAdjust="spacingAndGlyphs" stroke-width="0.35">*</text>
<text x="306.30" y="334.50" font-size="8.4" fill="#231f20" stroke="#231f20" stroke-width="0.12" text-anchor="middle" textLength="20.8" lengthAdjust="spacingAndGlyphs" >PreMI</text>
<text x="337.60" y="334.50" font-size="8.4" fill="#231f20" stroke="#231f20" stroke-width="0.12" text-anchor="middle" textLength="24.6" lengthAdjust="spacingAndGlyphs" >PostMI</text>
<text transform="translate(268.90,290.20) rotate(-90)" font-size="10.0" fill="#231f20" text-anchor="middle" stroke="#231f20" stroke-width="0.12" textLength="63.5" lengthAdjust="spacingAndGlyphs">% CD42b<tspan font-size="6" dy="-3.5">+</tspan><tspan dy="3.5"> PBMCs</tspan></text>
<circle cx="293.80" cy="242.30" r="1.35" fill="#1c4f8c"/>
<text x="297.90" y="244.99" font-size="7.8" fill="#231f20" stroke="#231f20" stroke-width="0.12" textLength="48.8" lengthAdjust="spacingAndGlyphs" >Vehicle control</text>
<circle cx="293.80" cy="251.00" r="1.35" fill="#cf1430"/>
<text x="297.90" y="253.69" font-size="7.8" fill="#231f20" stroke="#231f20" stroke-width="0.12" textLength="50.2" lengthAdjust="spacingAndGlyphs" >CXCR7 agonist</text>
<text x="297.90" y="263.29" font-size="7.8" fill="#231f20" stroke="#231f20" stroke-width="0.12" textLength="45.8" lengthAdjust="spacingAndGlyphs" >300µg/mouse</text>
<text x="381.55" y="238.80" font-size="11.6" fill="#000" font-weight="bold" textLength="11.799999999999999" lengthAdjust="spacingAndGlyphs" stroke="#000" stroke-width="0.5">Di</text>
<line x1="419.50" y1="247.70" x2="419.50" y2="325.60" stroke="#3a3a3a" stroke-width="1.6" />
<line x1="416.50" y1="325.10" x2="419.50" y2="325.10" stroke="#3a3a3a" stroke-width="1.0" />
<text x="413.00" y="327.93" font-size="8.2" fill="#231f20" stroke="#231f20" stroke-width="0.12" text-anchor="end" textLength="4.1" lengthAdjust="spacingAndGlyphs" >0</text>
<line x1="416.50" y1="300.37" x2="419.50" y2="300.37" stroke="#3a3a3a" stroke-width="1.0" />
<text x="413.00" y="303.20" font-size="8.2" fill="#231f20" stroke="#231f20" stroke-width="0.12" text-anchor="end" textLength="12.3" lengthAdjust="spacingAndGlyphs" >500</text>
<line x1="416.50" y1="275.63" x2="419.50" y2="275.63" stroke="#3a3a3a" stroke-width="1.0" />
<text x="413.00" y="278.46" font-size="8.2" fill="#231f20" stroke="#231f20" stroke-width="0.12" text-anchor="end" textLength="16.4" lengthAdjust="spacingAndGlyphs" >1000</text>
<line x1="416.50" y1="250.90" x2="419.50" y2="250.90" stroke="#3a3a3a" stroke-width="1.0" />
<text x="413.00" y="253.73" font-size="8.2" fill="#231f20" stroke="#231f20" stroke-width="0.12" text-anchor="end" textLength="16.4" lengthAdjust="spacingAndGlyphs" >1500</text>
<rect x="427.10" y="285.03" width="14.10" height="40.07" fill="#87a5c3"/>
<rect x="448.50" y="283.05" width="13.80" height="42.05" fill="#de8797"/>
<circle cx="434.20" cy="264.75" r="1.4" fill="#1c4f8c"/>
<circle cx="434.20" cy="279.59" r="1.4" fill="#1c4f8c"/>
<circle cx="434.20" cy="285.03" r="1.4" fill="#1c4f8c"/>
<circle cx="431.00" cy="300.37" r="1.4" fill="#1c4f8c"/>
<circle cx="437.00" cy="297.40" r="1.4" fill="#1c4f8c"/>
<circle cx="455.40" cy="258.81" r="1.4" fill="#cf1430"/>
<circle cx="452.20" cy="276.62" r="1.4" fill="#cf1430"/>
<circle cx="458.50" cy="276.13" r="1.4" fill="#cf1430"/>
<circle cx="455.40" cy="295.91" r="1.4" fill="#cf1430"/>
<circle cx="455.40" cy="309.77" r="1.4" fill="#cf1430"/>
<line x1="434.20" y1="278.11" x2="434.20" y2="291.46" stroke="#231f20" stroke-width="0.9" />
<line x1="430.90" y1="278.11" x2="437.50" y2="278.11" stroke="#231f20" stroke-width="0.9" />
<line x1="430.90" y1="291.46" x2="437.50" y2="291.46" stroke="#231f20" stroke-width="0.9" />
<line x1="429.75" y1="285.03" x2="438.65" y2="285.03" stroke="#231f20" stroke-width="0.9" />
<line x1="455.40" y1="274.40" x2="455.40" y2="292.20" stroke="#231f20" stroke-width="0.9" />
<line x1="452.10" y1="274.40" x2="458.70" y2="274.40" stroke="#231f20" stroke-width="0.9" />
<line x1="452.10" y1="292.20" x2="458.70" y2="292.20" stroke="#231f20" stroke-width="0.9" />
<line x1="450.94" y1="283.05" x2="459.85" y2="283.05" stroke="#231f20" stroke-width="0.9" />
<line x1="418.70" y1="325.10" x2="473.70" y2="325.10" stroke="#111" stroke-width="1.1" />
<text transform="translate(392.20,288.30) rotate(-90)" font-size="10.0" fill="#231f20" text-anchor="middle" stroke="#231f20" stroke-width="0.12" textLength="78.2" lengthAdjust="spacingAndGlyphs">Platelet count ×10<tspan font-size="6" dy="-3.5">3</tspan><tspan dy="3.5">/µl</tspan></text>
<circle cx="458.20" cy="236.20" r="1.35" fill="#1c4f8c"/>
<text x="463.10" y="238.89" font-size="7.8" fill="#231f20" stroke="#231f20" stroke-width="0.12" textLength="48.8" lengthAdjust="spacingAndGlyphs" >Vehicle control</text>
<circle cx="458.20" cy="246.90" r="1.35" fill="#cf1430"/>
<text x="463.10" y="249.59" font-size="7.8" fill="#231f20" stroke="#231f20" stroke-width="0.12" textLength="50.2" lengthAdjust="spacingAndGlyphs" >CXCR7 agonist</text>
<text x="463.00" y="258.09" font-size="7.8" fill="#231f20" stroke="#231f20" stroke-width="0.12" textLength="45.8" lengthAdjust="spacingAndGlyphs" >300µg/mouse</text>
<text x="7.35" y="370.80" font-size="11.6" fill="#000" font-weight="bold" textLength="14.5" lengthAdjust="spacingAndGlyphs" stroke="#000" stroke-width="0.5">Dii</text>
<line x1="34.10" y1="385.80" x2="34.10" y2="461.40" stroke="#3a3a3a" stroke-width="1.6" />
<line x1="31.10" y1="460.90" x2="34.10" y2="460.90" stroke="#3a3a3a" stroke-width="1.0" />
<text x="27.60" y="463.73" font-size="8.2" fill="#231f20" stroke="#231f20" stroke-width="0.12" text-anchor="end" textLength="4.1" lengthAdjust="spacingAndGlyphs" >0</text>
<line x1="31.10" y1="439.20" x2="34.10" y2="439.20" stroke="#3a3a3a" stroke-width="1.0" />
<text x="27.60" y="442.03" font-size="8.2" fill="#231f20" stroke="#231f20" stroke-width="0.12" text-anchor="end" textLength="4.1" lengthAdjust="spacingAndGlyphs" >2</text>
<line x1="31.10" y1="417.50" x2="34.10" y2="417.50" stroke="#3a3a3a" stroke-width="1.0" />
<text x="27.60" y="420.33" font-size="8.2" fill="#231f20" stroke="#231f20" stroke-width="0.12" text-anchor="end" textLength="4.1" lengthAdjust="spacingAndGlyphs" >4</text>
<line x1="31.10" y1="395.80" x2="34.10" y2="395.80" stroke="#3a3a3a" stroke-width="1.0" />
<text x="27.60" y="398.63" font-size="8.2" fill="#231f20" stroke="#231f20" stroke-width="0.12" text-anchor="end" textLength="4.1" lengthAdjust="spacingAndGlyphs" >6</text>
<rect x="41.30" y="388.64" width="14.50" height="72.26" fill="#87a5c3"/>
<rect x="63.50" y="389.72" width="14.40" height="71.18" fill="#de8797"/>
<circle cx="43.20" cy="386.04" r="1.4" fill="#1c4f8c"/>
<circle cx="47.50" cy="387.34" r="1.4" fill="#1c4f8c"/>
<circle cx="50.50" cy="386.90" r="1.4" fill="#1c4f8c"/>
<circle cx="54.50" cy="385.71" r="1.4" fill="#1c4f8c"/>
<circle cx="46.20" cy="392.55" r="1.4" fill="#1c4f8c"/>
<circle cx="51.80" cy="391.24" r="1.4" fill="#1c4f8c"/>
<circle cx="65.50" cy="390.38" r="1.4" fill="#cf1430"/>
<circle cx="68.00" cy="389.07" r="1.4" fill="#cf1430"/>
<circle cx="70.50" cy="388.42" r="1.4" fill="#cf1430"/>
<circle cx="73.00" cy="388.86" r="1.4" fill="#cf1430"/>
<circle cx="76.00" cy="390.38" r="1.4" fill="#cf1430"/>
<line x1="48.60" y1="387.23" x2="48.60" y2="390.05" stroke="#231f20" stroke-width="0.9" />
<line x1="46.00" y1="387.23" x2="51.20" y2="387.23" stroke="#231f20" stroke-width="0.9" />
<line x1="46.00" y1="390.05" x2="51.20" y2="390.05" stroke="#231f20" stroke-width="0.9" />
<line x1="45.09" y1="388.64" x2="52.11" y2="388.64" stroke="#231f20" stroke-width="0.9" />
<line x1="33.30" y1="460.90" x2="85.60" y2="460.90" stroke="#111" stroke-width="1.1" />
<text transform="translate(18.60,427.60) rotate(-90)" font-size="10.0" fill="#231f20" text-anchor="middle" stroke="#231f20" stroke-width="0.12" textLength="29.8" lengthAdjust="spacingAndGlyphs">MPV (fL)</text>
<text x="118.85" y="371.30" font-size="11.6" fill="#000" font-weight="bold" textLength="6.9" lengthAdjust="spacingAndGlyphs" stroke="#000" stroke-width="0.5">E</text>
<line x1="151.40" y1="379.00" x2="151.40" y2="461.80" stroke="#3a3a3a" stroke-width="1.6" />
<line x1="148.40" y1="461.30" x2="151.40" y2="461.30" stroke="#3a3a3a" stroke-width="1.0" />
<text x="144.90" y="464.13" font-size="8.2" fill="#231f20" stroke="#231f20" stroke-width="0.12" text-anchor="end" textLength="4.1" lengthAdjust="spacingAndGlyphs" >0</text>
<line x1="148.40" y1="435.17" x2="151.40" y2="435.17" stroke="#3a3a3a" stroke-width="1.0" />
<text x="144.90" y="438.00" font-size="8.2" fill="#231f20" stroke="#231f20" stroke-width="0.12" text-anchor="end" textLength="12.3" lengthAdjust="spacingAndGlyphs" >200</text>
<line x1="148.40" y1="409.03" x2="151.40" y2="409.03" stroke="#3a3a3a" stroke-width="1.0" />
<text x="144.90" y="411.86" font-size="8.2" fill="#231f20" stroke="#231f20" stroke-width="0.12" text-anchor="end" textLength="12.3" lengthAdjust="spacingAndGlyphs" >400</text>
<line x1="148.40" y1="382.90" x2="151.40" y2="382.90" stroke="#3a3a3a" stroke-width="1.0" />
<text x="144.90" y="385.73" font-size="8.2" fill="#231f20" stroke="#231f20" stroke-width="0.12" text-anchor="end" textLength="12.3" lengthAdjust="spacingAndGlyphs" >600</text>
<rect x="155.20" y="412.95" width="6.30" height="48.35" fill="#87a5c3"/>
<circle cx="160.23" cy="409.03" r="1.35" fill="#1c4f8c"/>
<circle cx="156.43" cy="411.65" r="1.35" fill="#1c4f8c"/>
<circle cx="157.96" cy="412.95" r="1.35" fill="#1c4f8c"/>
<circle cx="158.44" cy="414.26" r="1.35" fill="#1c4f8c"/>
<circle cx="157.44" cy="415.57" r="1.35" fill="#1c4f8c"/>
<circle cx="156.62" cy="416.87" r="1.35" fill="#1c4f8c"/>
<circle cx="157.32" cy="418.18" r="1.35" fill="#1c4f8c"/>
<circle cx="159.61" cy="419.49" r="1.35" fill="#1c4f8c"/>
<line x1="158.35" y1="411.39" x2="158.35" y2="414.52" stroke="#231f20" stroke-width="0.9" />
<line x1="156.55" y1="411.39" x2="160.15" y2="411.39" stroke="#231f20" stroke-width="0.9" />
<line x1="156.55" y1="414.52" x2="160.15" y2="414.52" stroke="#231f20" stroke-width="0.9" />
<line x1="155.92" y1="412.95" x2="160.78" y2="412.95" stroke="#231f20" stroke-width="0.9" />
<rect x="162.90" y="421.45" width="6.30" height="39.85" fill="#de8797"/>
<circle cx="163.33" cy="410.99" r="1.35" fill="#cf1430"/>
<circle cx="166.36" cy="416.87" r="1.35" fill="#cf1430"/>
<circle cx="165.71" cy="419.49" r="1.35" fill="#cf1430"/>
<circle cx="163.32" cy="420.79" r="1.35" fill="#cf1430"/>
<circle cx="165.09" cy="422.10" r="1.35" fill="#cf1430"/>
<circle cx="166.75" cy="423.41" r="1.35" fill="#cf1430"/>
<circle cx="166.12" cy="424.06" r="1.35" fill="#cf1430"/>
<circle cx="163.58" cy="425.37" r="1.35" fill="#cf1430"/>
<line x1="166.05" y1="420.14" x2="166.05" y2="422.75" stroke="#231f20" stroke-width="0.9" />
<line x1="164.25" y1="420.14" x2="167.85" y2="420.14" stroke="#231f20" stroke-width="0.9" />
<line x1="164.25" y1="422.75" x2="167.85" y2="422.75" stroke="#231f20" stroke-width="0.9" />
<line x1="163.62" y1="421.45" x2="168.48" y2="421.45" stroke="#231f20" stroke-width="0.9" />
<rect x="173.00" y="454.11" width="6.20" height="7.19" fill="#87a5c3"/>
<circle cx="178.81" cy="453.46" r="1.35" fill="#1c4f8c"/>
<circle cx="177.71" cy="453.72" r="1.35" fill="#1c4f8c"/>
<circle cx="178.73" cy="454.11" r="1.35" fill="#1c4f8c"/>
<circle cx="173.89" cy="454.37" r="1.35" fill="#1c4f8c"/>
<circle cx="174.79" cy="454.77" r="1.35" fill="#1c4f8c"/>
<line x1="176.10" y1="453.85" x2="176.10" y2="454.37" stroke="#231f20" stroke-width="0.9" />
<line x1="174.30" y1="453.85" x2="177.90" y2="453.85" stroke="#231f20" stroke-width="0.9" />
<line x1="174.30" y1="454.37" x2="177.90" y2="454.37" stroke="#231f20" stroke-width="0.9" />
<line x1="173.67" y1="454.11" x2="178.53" y2="454.11" stroke="#231f20" stroke-width="0.9" />
<rect x="180.80" y="455.03" width="6.20" height="6.27" fill="#de8797"/>
<circle cx="181.33" cy="454.51" r="1.35" fill="#cf1430"/>
<circle cx="185.46" cy="454.77" r="1.35" fill="#cf1430"/>
<circle cx="182.62" cy="455.03" r="1.35" fill="#cf1430"/>
<circle cx="181.83" cy="455.29" r="1.35" fill="#cf1430"/>
<circle cx="183.47" cy="455.42" r="1.35" fill="#cf1430"/>
<line x1="183.90" y1="454.77" x2="183.90" y2="455.29" stroke="#231f20" stroke-width="0.9" />
<line x1="182.10" y1="454.77" x2="185.70" y2="454.77" stroke="#231f20" stroke-width="0.9" />
<line x1="182.10" y1="455.29" x2="185.70" y2="455.29" stroke="#231f20" stroke-width="0.9" />
<line x1="181.47" y1="455.03" x2="186.33" y2="455.03" stroke="#231f20" stroke-width="0.9" />
<rect x="190.80" y="444.57" width="6.70" height="16.73" fill="#87a5c3"/>
<circle cx="196.63" cy="441.44" r="1.35" fill="#1c4f8c"/>
<circle cx="196.07" cy="441.96" r="1.35" fill="#1c4f8c"/>
<circle cx="192.69" cy="443.01" r="1.35" fill="#1c4f8c"/>
<circle cx="192.04" cy="444.31" r="1.35" fill="#1c4f8c"/>
<circle cx="196.68" cy="444.97" r="1.35" fill="#1c4f8c"/>
<circle cx="194.58" cy="445.62" r="1.35" fill="#1c4f8c"/>
<circle cx="195.36" cy="446.27" r="1.35" fill="#1c4f8c"/>
<line x1="194.15" y1="443.92" x2="194.15" y2="445.23" stroke="#231f20" stroke-width="0.9" />
<line x1="192.35" y1="443.92" x2="195.95" y2="443.92" stroke="#231f20" stroke-width="0.9" />
<line x1="192.35" y1="445.23" x2="195.95" y2="445.23" stroke="#231f20" stroke-width="0.9" />
<line x1="191.72" y1="444.57" x2="196.58" y2="444.57" stroke="#231f20" stroke-width="0.9" />
<rect x="198.50" y="445.10" width="6.30" height="16.20" fill="#de8797"/>
<circle cx="199.32" cy="441.70" r="1.35" fill="#cf1430"/>
<circle cx="199.14" cy="442.35" r="1.35" fill="#cf1430"/>
<circle cx="202.72" cy="443.66" r="1.35" fill="#cf1430"/>
<circle cx="201.23" cy="444.97" r="1.35" fill="#cf1430"/>
<circle cx="199.23" cy="445.62" r="1.35" fill="#cf1430"/>
<circle cx="204.14" cy="446.27" r="1.35" fill="#cf1430"/>
<line x1="201.65" y1="444.44" x2="201.65" y2="445.75" stroke="#231f20" stroke-width="0.9" />
<line x1="199.85" y1="444.44" x2="203.45" y2="444.44" stroke="#231f20" stroke-width="0.9" />
<line x1="199.85" y1="445.75" x2="203.45" y2="445.75" stroke="#231f20" stroke-width="0.9" />
<line x1="199.22" y1="445.10" x2="204.08" y2="445.10" stroke="#231f20" stroke-width="0.9" />
<rect x="207.70" y="446.27" width="6.10" height="15.03" fill="#87a5c3"/>
<circle cx="211.49" cy="444.31" r="1.35" fill="#1c4f8c"/>
<circle cx="212.41" cy="444.97" r="1.35" fill="#1c4f8c"/>
<circle cx="208.46" cy="445.88" r="1.35" fill="#1c4f8c"/>
<circle cx="212.71" cy="446.67" r="1.35" fill="#1c4f8c"/>
<circle cx="208.37" cy="447.19" r="1.35" fill="#1c4f8c"/>
<circle cx="212.74" cy="448.23" r="1.35" fill="#1c4f8c"/>
<line x1="210.75" y1="445.75" x2="210.75" y2="446.80" stroke="#231f20" stroke-width="0.9" />
<line x1="208.95" y1="445.75" x2="212.55" y2="445.75" stroke="#231f20" stroke-width="0.9" />
<line x1="208.95" y1="446.80" x2="212.55" y2="446.80" stroke="#231f20" stroke-width="0.9" />
<line x1="208.32" y1="446.27" x2="213.18" y2="446.27" stroke="#231f20" stroke-width="0.9" />
<rect x="215.80" y="447.84" width="6.30" height="13.46" fill="#de8797"/>
<circle cx="218.69" cy="447.19" r="1.35" fill="#cf1430"/>
<circle cx="218.04" cy="447.58" r="1.35" fill="#cf1430"/>
<circle cx="219.25" cy="447.84" r="1.35" fill="#cf1430"/>
<circle cx="221.37" cy="448.10" r="1.35" fill="#cf1430"/>
<circle cx="217.63" cy="448.23" r="1.35" fill="#cf1430"/>
<line x1="218.95" y1="447.58" x2="218.95" y2="448.10" stroke="#231f20" stroke-width="0.9" />
<line x1="217.15" y1="447.58" x2="220.75" y2="447.58" stroke="#231f20" stroke-width="0.9" />
<line x1="217.15" y1="448.10" x2="220.75" y2="448.10" stroke="#231f20" stroke-width="0.9" />
<line x1="216.52" y1="447.84" x2="221.38" y2="447.84" stroke="#231f20" stroke-width="0.9" />
<rect x="225.00" y="455.03" width="6.20" height="6.27" fill="#87a5c3"/>
<circle cx="226.03" cy="453.98" r="1.35" fill="#1c4f8c"/>
<circle cx="228.25" cy="454.51" r="1.35" fill="#1c4f8c"/>
<circle cx="226.64" cy="455.03" r="1.35" fill="#1c4f8c"/>
<circle cx="225.92" cy="455.42" r="1.35" fill="#1c4f8c"/>
<circle cx="226.21" cy="455.81" r="1.35" fill="#1c4f8c"/>
<line x1="228.10" y1="454.77" x2="228.10" y2="455.29" stroke="#231f20" stroke-width="0.9" />
<line x1="226.30" y1="454.77" x2="229.90" y2="454.77" stroke="#231f20" stroke-width="0.9" />
<line x1="226.30" y1="455.29" x2="229.90" y2="455.29" stroke="#231f20" stroke-width="0.9" />
<line x1="225.67" y1="455.03" x2="230.53" y2="455.03" stroke="#231f20" stroke-width="0.9" />
<rect x="233.00" y="455.42" width="6.40" height="5.88" fill="#de8797"/>
<circle cx="233.61" cy="455.03" r="1.35" fill="#cf1430"/>
<circle cx="234.48" cy="455.29" r="1.35" fill="#cf1430"/>
<circle cx="235.12" cy="455.42" r="1.35" fill="#cf1430"/>
<circle cx="235.08" cy="455.55" r="1.35" fill="#cf1430"/>
<circle cx="237.69" cy="455.68" r="1.35" fill="#cf1430"/>
<line x1="236.20" y1="455.29" x2="236.20" y2="455.55" stroke="#231f20" stroke-width="0.9" />
<line x1="234.40" y1="455.29" x2="238.00" y2="455.29" stroke="#231f20" stroke-width="0.9" />
<line x1="234.40" y1="455.55" x2="238.00" y2="455.55" stroke="#231f20" stroke-width="0.9" />
<line x1="233.77" y1="455.42" x2="238.63" y2="455.42" stroke="#231f20" stroke-width="0.9" />
<rect x="242.30" y="404.20" width="6.70" height="57.10" fill="#87a5c3"/>
<circle cx="244.38" cy="398.58" r="1.35" fill="#1c4f8c"/>
<circle cx="245.65" cy="399.89" r="1.35" fill="#1c4f8c"/>
<circle cx="243.71" cy="402.50" r="1.35" fill="#1c4f8c"/>
<circle cx="244.73" cy="403.81" r="1.35" fill="#1c4f8c"/>
<circle cx="242.74" cy="405.11" r="1.35" fill="#1c4f8c"/>
<circle cx="244.15" cy="406.42" r="1.35" fill="#1c4f8c"/>
<circle cx="242.73" cy="407.73" r="1.35" fill="#1c4f8c"/>
<circle cx="247.06" cy="409.03" r="1.35" fill="#1c4f8c"/>
<line x1="245.65" y1="403.15" x2="245.65" y2="405.24" stroke="#231f20" stroke-width="0.9" />
<line x1="243.85" y1="403.15" x2="247.45" y2="403.15" stroke="#231f20" stroke-width="0.9" />
<line x1="243.85" y1="405.24" x2="247.45" y2="405.24" stroke="#231f20" stroke-width="0.9" />
<line x1="243.22" y1="404.20" x2="248.08" y2="404.20" stroke="#231f20" stroke-width="0.9" />
<rect x="250.40" y="405.77" width="6.70" height="55.53" fill="#de8797"/>
<circle cx="254.06" cy="399.89" r="1.35" fill="#cf1430"/>
<circle cx="251.88" cy="401.85" r="1.35" fill="#cf1430"/>
<circle cx="253.60" cy="403.81" r="1.35" fill="#cf1430"/>
<circle cx="256.37" cy="405.11" r="1.35" fill="#cf1430"/>
<circle cx="251.38" cy="406.42" r="1.35" fill="#cf1430"/>
<circle cx="255.67" cy="407.07" r="1.35" fill="#cf1430"/>
<circle cx="253.34" cy="407.73" r="1.35" fill="#cf1430"/>
<line x1="253.75" y1="404.98" x2="253.75" y2="406.55" stroke="#231f20" stroke-width="0.9" />
<line x1="251.95" y1="404.98" x2="255.55" y2="404.98" stroke="#231f20" stroke-width="0.9" />
<line x1="251.95" y1="406.55" x2="255.55" y2="406.55" stroke="#231f20" stroke-width="0.9" />
<line x1="251.32" y1="405.77" x2="256.18" y2="405.77" stroke="#231f20" stroke-width="0.9" />
<rect x="266.30" y="415.31" width="6.80" height="45.99" fill="#87a5c3"/>
<circle cx="269.67" cy="411.65" r="1.35" fill="#1c4f8c"/>
<circle cx="271.75" cy="412.30" r="1.35" fill="#1c4f8c"/>
<circle cx="269.05" cy="412.95" r="1.35" fill="#1c4f8c"/>
<circle cx="269.74" cy="414.26" r="1.35" fill="#1c4f8c"/>
<circle cx="270.85" cy="416.22" r="1.35" fill="#1c4f8c"/>
<circle cx="272.65" cy="418.18" r="1.35" fill="#1c4f8c"/>
<circle cx="268.74" cy="420.79" r="1.35" fill="#1c4f8c"/>
<circle cx="271.73" cy="422.10" r="1.35" fill="#1c4f8c"/>
<line x1="269.70" y1="414.00" x2="269.70" y2="416.61" stroke="#231f20" stroke-width="0.9" />
<line x1="267.90" y1="414.00" x2="271.50" y2="414.00" stroke="#231f20" stroke-width="0.9" />
<line x1="267.90" y1="416.61" x2="271.50" y2="416.61" stroke="#231f20" stroke-width="0.9" />
<line x1="267.27" y1="415.31" x2="272.13" y2="415.31" stroke="#231f20" stroke-width="0.9" />
<rect x="274.40" y="418.83" width="6.40" height="42.47" fill="#de8797"/>
<circle cx="278.79" cy="411.65" r="1.35" fill="#cf1430"/>
<circle cx="278.38" cy="412.95" r="1.35" fill="#cf1430"/>
<circle cx="277.05" cy="416.22" r="1.35" fill="#cf1430"/>
<circle cx="276.72" cy="418.18" r="1.35" fill="#cf1430"/>
<circle cx="275.03" cy="419.49" r="1.35" fill="#cf1430"/>
<circle cx="275.47" cy="422.10" r="1.35" fill="#cf1430"/>
<circle cx="275.13" cy="423.41" r="1.35" fill="#cf1430"/>
<circle cx="278.99" cy="426.02" r="1.35" fill="#cf1430"/>
<line x1="277.60" y1="417.53" x2="277.60" y2="420.14" stroke="#231f20" stroke-width="0.9" />
<line x1="275.80" y1="417.53" x2="279.40" y2="417.53" stroke="#231f20" stroke-width="0.9" />
<line x1="275.80" y1="420.14" x2="279.40" y2="420.14" stroke="#231f20" stroke-width="0.9" />
<line x1="275.17" y1="418.83" x2="280.03" y2="418.83" stroke="#231f20" stroke-width="0.9" />
<rect x="284.00" y="454.11" width="6.00" height="7.19" fill="#87a5c3"/>
<circle cx="285.68" cy="453.20" r="1.35" fill="#1c4f8c"/>
<circle cx="285.18" cy="453.72" r="1.35" fill="#1c4f8c"/>
<circle cx="284.76" cy="454.11" r="1.35" fill="#1c4f8c"/>
<circle cx="288.84" cy="454.51" r="1.35" fill="#1c4f8c"/>
<circle cx="289.00" cy="454.77" r="1.35" fill="#1c4f8c"/>
<line x1="287.00" y1="453.85" x2="287.00" y2="454.37" stroke="#231f20" stroke-width="0.9" />
<line x1="285.20" y1="453.85" x2="288.80" y2="453.85" stroke="#231f20" stroke-width="0.9" />
<line x1="285.20" y1="454.37" x2="288.80" y2="454.37" stroke="#231f20" stroke-width="0.9" />
<line x1="284.57" y1="454.11" x2="289.43" y2="454.11" stroke="#231f20" stroke-width="0.9" />
<rect x="291.70" y="455.03" width="6.30" height="6.27" fill="#de8797"/>
<circle cx="295.82" cy="454.11" r="1.35" fill="#cf1430"/>
<circle cx="293.61" cy="454.77" r="1.35" fill="#cf1430"/>
<circle cx="293.39" cy="455.03" r="1.35" fill="#cf1430"/>
<circle cx="293.68" cy="455.29" r="1.35" fill="#cf1430"/>
<circle cx="294.62" cy="455.55" r="1.35" fill="#cf1430"/>
<line x1="294.85" y1="454.77" x2="294.85" y2="455.29" stroke="#231f20" stroke-width="0.9" />
<line x1="293.05" y1="454.77" x2="296.65" y2="454.77" stroke="#231f20" stroke-width="0.9" />
<line x1="293.05" y1="455.29" x2="296.65" y2="455.29" stroke="#231f20" stroke-width="0.9" />
<line x1="292.42" y1="455.03" x2="297.28" y2="455.03" stroke="#231f20" stroke-width="0.9" />
<rect x="302.00" y="448.23" width="6.30" height="13.07" fill="#87a5c3"/>
<circle cx="303.21" cy="443.01" r="1.35" fill="#1c4f8c"/>
<circle cx="304.84" cy="444.97" r="1.35" fill="#1c4f8c"/>
<circle cx="303.81" cy="446.27" r="1.35" fill="#1c4f8c"/>
<circle cx="307.77" cy="448.23" r="1.35" fill="#1c4f8c"/>
<circle cx="307.83" cy="449.54" r="1.35" fill="#1c4f8c"/>
<circle cx="305.42" cy="450.19" r="1.35" fill="#1c4f8c"/>
<circle cx="303.70" cy="450.85" r="1.35" fill="#1c4f8c"/>
<circle cx="307.79" cy="451.50" r="1.35" fill="#1c4f8c"/>
<line x1="305.15" y1="447.19" x2="305.15" y2="449.28" stroke="#231f20" stroke-width="0.9" />
<line x1="303.35" y1="447.19" x2="306.95" y2="447.19" stroke="#231f20" stroke-width="0.9" />
<line x1="303.35" y1="449.28" x2="306.95" y2="449.28" stroke="#231f20" stroke-width="0.9" />
<line x1="302.72" y1="448.23" x2="307.58" y2="448.23" stroke="#231f20" stroke-width="0.9" />
<rect x="309.20" y="447.58" width="6.40" height="13.72" fill="#de8797"/>
<circle cx="311.30" cy="443.01" r="1.35" fill="#cf1430"/>
<circle cx="311.57" cy="444.97" r="1.35" fill="#cf1430"/>
<circle cx="309.53" cy="446.27" r="1.35" fill="#cf1430"/>
<circle cx="311.72" cy="447.58" r="1.35" fill="#cf1430"/>
<circle cx="312.25" cy="448.89" r="1.35" fill="#cf1430"/>
<circle cx="312.42" cy="449.54" r="1.35" fill="#cf1430"/>
<line x1="312.40" y1="446.80" x2="312.40" y2="448.36" stroke="#231f20" stroke-width="0.9" />
<line x1="310.60" y1="446.80" x2="314.20" y2="446.80" stroke="#231f20" stroke-width="0.9" />
<line x1="310.60" y1="448.36" x2="314.20" y2="448.36" stroke="#231f20" stroke-width="0.9" />
<line x1="309.97" y1="447.58" x2="314.83" y2="447.58" stroke="#231f20" stroke-width="0.9" />
<rect x="319.20" y="447.58" width="6.00" height="13.72" fill="#87a5c3"/>
<circle cx="320.59" cy="444.97" r="1.35" fill="#1c4f8c"/>
<circle cx="322.23" cy="445.88" r="1.35" fill="#1c4f8c"/>
<circle cx="319.53" cy="446.67" r="1.35" fill="#1c4f8c"/>
<circle cx="320.93" cy="447.19" r="1.35" fill="#1c4f8c"/>
<circle cx="319.98" cy="447.71" r="1.35" fill="#1c4f8c"/>
<circle cx="321.66" cy="448.23" r="1.35" fill="#1c4f8c"/>
<line x1="322.20" y1="447.06" x2="322.20" y2="448.10" stroke="#231f20" stroke-width="0.9" />
<line x1="320.40" y1="447.06" x2="324.00" y2="447.06" stroke="#231f20" stroke-width="0.9" />
<line x1="320.40" y1="448.10" x2="324.00" y2="448.10" stroke="#231f20" stroke-width="0.9" />
<line x1="319.77" y1="447.58" x2="324.63" y2="447.58" stroke="#231f20" stroke-width="0.9" />
<rect x="327.00" y="448.23" width="6.30" height="13.07" fill="#de8797"/>
<circle cx="327.55" cy="447.19" r="1.35" fill="#cf1430"/>
<circle cx="327.44" cy="447.71" r="1.35" fill="#cf1430"/>
<circle cx="329.04" cy="448.23" r="1.35" fill="#cf1430"/>
<circle cx="328.64" cy="448.49" r="1.35" fill="#cf1430"/>
<circle cx="330.64" cy="448.76" r="1.35" fill="#cf1430"/>
<line x1="330.15" y1="447.97" x2="330.15" y2="448.49" stroke="#231f20" stroke-width="0.9" />
<line x1="328.35" y1="447.97" x2="331.95" y2="447.97" stroke="#231f20" stroke-width="0.9" />
<line x1="328.35" y1="448.49" x2="331.95" y2="448.49" stroke="#231f20" stroke-width="0.9" />
<line x1="327.72" y1="448.23" x2="332.58" y2="448.23" stroke="#231f20" stroke-width="0.9" />
<rect x="336.50" y="455.03" width="6.40" height="6.27" fill="#87a5c3"/>
<circle cx="339.87" cy="453.72" r="1.35" fill="#1c4f8c"/>
<circle cx="341.14" cy="454.51" r="1.35" fill="#1c4f8c"/>
<circle cx="340.61" cy="455.03" r="1.35" fill="#1c4f8c"/>
<circle cx="340.94" cy="455.42" r="1.35" fill="#1c4f8c"/>
<circle cx="341.88" cy="455.81" r="1.35" fill="#1c4f8c"/>
<line x1="339.70" y1="454.77" x2="339.70" y2="455.29" stroke="#231f20" stroke-width="0.9" />
<line x1="337.90" y1="454.77" x2="341.50" y2="454.77" stroke="#231f20" stroke-width="0.9" />
<line x1="337.90" y1="455.29" x2="341.50" y2="455.29" stroke="#231f20" stroke-width="0.9" />
<line x1="337.27" y1="455.03" x2="342.13" y2="455.03" stroke="#231f20" stroke-width="0.9" />
<rect x="344.80" y="455.42" width="6.20" height="5.88" fill="#de8797"/>
<circle cx="347.28" cy="455.03" r="1.35" fill="#cf1430"/>
<circle cx="346.93" cy="455.29" r="1.35" fill="#cf1430"/>
<circle cx="350.60" cy="455.42" r="1.35" fill="#cf1430"/>
<circle cx="345.94" cy="455.55" r="1.35" fill="#cf1430"/>
<circle cx="349.15" cy="455.68" r="1.35" fill="#cf1430"/>
<line x1="347.90" y1="455.29" x2="347.90" y2="455.55" stroke="#231f20" stroke-width="0.9" />
<line x1="346.10" y1="455.29" x2="349.70" y2="455.29" stroke="#231f20" stroke-width="0.9" />
<line x1="346.10" y1="455.55" x2="349.70" y2="455.55" stroke="#231f20" stroke-width="0.9" />
<line x1="345.47" y1="455.42" x2="350.33" y2="455.42" stroke="#231f20" stroke-width="0.9" />
<rect x="354.00" y="404.85" width="6.20" height="56.45" fill="#87a5c3"/>
<circle cx="357.90" cy="391.13" r="1.35" fill="#1c4f8c"/>
<circle cx="354.55" cy="396.36" r="1.35" fill="#1c4f8c"/>
<circle cx="358.97" cy="403.81" r="1.35" fill="#1c4f8c"/>
<circle cx="359.29" cy="404.46" r="1.35" fill="#1c4f8c"/>
<circle cx="357.81" cy="405.11" r="1.35" fill="#1c4f8c"/>
<circle cx="358.40" cy="405.77" r="1.35" fill="#1c4f8c"/>
<circle cx="358.84" cy="406.42" r="1.35" fill="#1c4f8c"/>
<circle cx="355.09" cy="407.07" r="1.35" fill="#1c4f8c"/>
<line x1="357.10" y1="403.81" x2="357.10" y2="405.90" stroke="#231f20" stroke-width="0.9" />
<line x1="355.30" y1="403.81" x2="358.90" y2="403.81" stroke="#231f20" stroke-width="0.9" />
<line x1="355.30" y1="405.90" x2="358.90" y2="405.90" stroke="#231f20" stroke-width="0.9" />
<line x1="354.67" y1="404.85" x2="359.53" y2="404.85" stroke="#231f20" stroke-width="0.9" />
<rect x="362.10" y="405.11" width="6.20" height="56.19" fill="#de8797"/>
<circle cx="365.33" cy="401.19" r="1.35" fill="#cf1430"/>
<circle cx="365.22" cy="402.50" r="1.35" fill="#cf1430"/>
<circle cx="367.07" cy="403.81" r="1.35" fill="#cf1430"/>
<circle cx="366.90" cy="405.11" r="1.35" fill="#cf1430"/>
<circle cx="367.02" cy="405.77" r="1.35" fill="#cf1430"/>
<circle cx="365.67" cy="406.42" r="1.35" fill="#cf1430"/>
<circle cx="367.39" cy="407.07" r="1.35" fill="#cf1430"/>
<line x1="365.20" y1="404.33" x2="365.20" y2="405.90" stroke="#231f20" stroke-width="0.9" />
<line x1="363.40" y1="404.33" x2="367.00" y2="404.33" stroke="#231f20" stroke-width="0.9" />
<line x1="363.40" y1="405.90" x2="367.00" y2="405.90" stroke="#231f20" stroke-width="0.9" />
<line x1="362.77" y1="405.11" x2="367.63" y2="405.11" stroke="#231f20" stroke-width="0.9" />
<line x1="150.60" y1="461.30" x2="373.00" y2="461.30" stroke="#111" stroke-width="1.1" />
<line x1="155.30" y1="382.50" x2="257.10" y2="382.50" stroke="#555" stroke-width="1.2" />
<line x1="155.30" y1="379.00" x2="155.30" y2="386.00" stroke="#444" stroke-width="1.2" />
<line x1="257.10" y1="379.00" x2="257.10" y2="386.00" stroke="#444" stroke-width="1.2" />
<line x1="267.30" y1="382.50" x2="368.80" y2="382.50" stroke="#555" stroke-width="1.2" />
<line x1="267.30" y1="379.00" x2="267.30" y2="386.00" stroke="#444" stroke-width="1.2" />
<line x1="368.80" y1="379.00" x2="368.80" y2="386.00" stroke="#444" stroke-width="1.2" />
<text x="203.20" y="393.23" font-size="8.2" fill="#231f20" stroke="#231f20" stroke-width="0.12" text-anchor="middle" textLength="11.3" lengthAdjust="spacingAndGlyphs" >1hr</text>
<text x="316.50" y="393.23" font-size="8.2" fill="#231f20" stroke="#231f20" stroke-width="0.12" text-anchor="middle" textLength="18.9" lengthAdjust="spacingAndGlyphs" >24hrs</text>
<text x="163.70" y="471.50" font-size="8.2" fill="#231f20" stroke="#231f20" stroke-width="0.12" text-anchor="middle" textLength="8.0" lengthAdjust="spacingAndGlyphs" >β<tspan font-size="5.5" dy="1.8">3</tspan></text>
<text x="181.40" y="471.50" font-size="8.2" fill="#231f20" stroke="#231f20" stroke-width="0.12" text-anchor="middle" textLength="8.0" lengthAdjust="spacingAndGlyphs" >α<tspan font-size="5.5" dy="1.8">v</tspan></text>
<text x="198.40" y="471.50" font-size="8.2" fill="#231f20" stroke="#231f20" stroke-width="0.12" text-anchor="middle" textLength="16.2" lengthAdjust="spacingAndGlyphs" >GPIb</text>
<text x="215.80" y="471.50" font-size="8.2" fill="#231f20" stroke="#231f20" stroke-width="0.12" text-anchor="middle" textLength="15.3" lengthAdjust="spacingAndGlyphs" >GPV</text>
<text x="233.80" y="471.50" font-size="8.2" fill="#231f20" stroke="#231f20" stroke-width="0.12" text-anchor="middle" textLength="17.2" lengthAdjust="spacingAndGlyphs" >GPVI</text>
<text x="252.40" y="471.50" font-size="8.2" fill="#231f20" stroke="#231f20" stroke-width="0.12" text-anchor="middle" textLength="16.5" lengthAdjust="spacingAndGlyphs" >GPIX</text>
<text x="275.40" y="471.50" font-size="8.2" fill="#231f20" stroke="#231f20" stroke-width="0.12" text-anchor="middle" textLength="8.0" lengthAdjust="spacingAndGlyphs" >β<tspan font-size="5.5" dy="1.8">3</tspan></text>
<text x="292.70" y="471.50" font-size="8.2" fill="#231f20" stroke="#231f20" stroke-width="0.12" text-anchor="middle" textLength="8.0" lengthAdjust="spacingAndGlyphs" >α<tspan font-size="5.5" dy="1.8">v</tspan></text>
<text x="309.90" y="471.50" font-size="8.2" fill="#231f20" stroke="#231f20" stroke-width="0.12" text-anchor="middle" textLength="16.2" lengthAdjust="spacingAndGlyphs" >GPIb</text>
<text x="327.50" y="471.50" font-size="8.2" fill="#231f20" stroke="#231f20" stroke-width="0.12" text-anchor="middle" textLength="15.3" lengthAdjust="spacingAndGlyphs" >GPV</text>
<text x="345.50" y="471.50" font-size="8.2" fill="#231f20" stroke="#231f20" stroke-width="0.12" text-anchor="middle" textLength="17.2" lengthAdjust="spacingAndGlyphs" >GPVI</text>
<text x="364.50" y="471.50" font-size="8.2" fill="#231f20" stroke="#231f20" stroke-width="0.12" text-anchor="middle" textLength="16.5" lengthAdjust="spacingAndGlyphs" >GPIX</text>
<text transform="translate(126.80,423.60) rotate(-90)" font-size="10.0" fill="#231f20" text-anchor="middle" stroke="#231f20" stroke-width="0.12" textLength="82.2" lengthAdjust="spacingAndGlyphs">Surface expression (MFI)</text>
<circle cx="154.60" cy="368.90" r="1.35" fill="#1c4f8c"/>
<text x="159.60" y="371.59" font-size="7.8" fill="#231f20" stroke="#231f20" stroke-width="0.12" textLength="48.8" lengthAdjust="spacingAndGlyphs" >Vehicle control</text>
<circle cx="217.70" cy="368.90" r="1.35" fill="#cf1430"/>
<text x="221.60" y="371.59" font-size="7.8" fill="#231f20" stroke="#231f20" stroke-width="0.12" textLength="98.0" lengthAdjust="spacingAndGlyphs" >CXCR7 agonist 300µg/mouse</text>
<text x="400.65" y="371.30" font-size="11.6" fill="#000" font-weight="bold" textLength="6.4" lengthAdjust="spacingAndGlyphs" stroke="#000" stroke-width="0.5">F</text>
<line x1="433.80" y1="397.70" x2="433.80" y2="461.80" stroke="#3a3a3a" stroke-width="1.6" />
<line x1="430.80" y1="461.30" x2="433.80" y2="461.30" stroke="#3a3a3a" stroke-width="1.0" />
<text x="427.30" y="464.13" font-size="8.2" fill="#231f20" stroke="#231f20" stroke-width="0.12" text-anchor="end" textLength="4.1" lengthAdjust="spacingAndGlyphs" >0</text>
<line x1="430.80" y1="446.27" x2="433.80" y2="446.27" stroke="#3a3a3a" stroke-width="1.0" />
<text x="427.30" y="449.10" font-size="8.2" fill="#231f20" stroke="#231f20" stroke-width="0.12" text-anchor="end" textLength="12.3" lengthAdjust="spacingAndGlyphs" >200</text>
<line x1="430.80" y1="431.25" x2="433.80" y2="431.25" stroke="#3a3a3a" stroke-width="1.0" />
<text x="427.30" y="434.08" font-size="8.2" fill="#231f20" stroke="#231f20" stroke-width="0.12" text-anchor="end" textLength="12.3" lengthAdjust="spacingAndGlyphs" >400</text>
<line x1="430.80" y1="416.23" x2="433.80" y2="416.23" stroke="#3a3a3a" stroke-width="1.0" />
<text x="427.30" y="419.05" font-size="8.2" fill="#231f20" stroke="#231f20" stroke-width="0.12" text-anchor="end" textLength="12.3" lengthAdjust="spacingAndGlyphs" >600</text>
<line x1="430.80" y1="401.20" x2="433.80" y2="401.20" stroke="#3a3a3a" stroke-width="1.0" />
<text x="427.30" y="404.03" font-size="8.2" fill="#231f20" stroke="#231f20" stroke-width="0.12" text-anchor="end" textLength="12.3" lengthAdjust="spacingAndGlyphs" >800</text>
<rect x="440.40" y="430.12" width="14.40" height="31.18" fill="#87a5c3"/>
<rect x="458.70" y="430.12" width="14.30" height="31.18" fill="#de8797"/>
<circle cx="447.60" cy="405.71" r="1.4" fill="#1c4f8c"/>
<circle cx="447.60" cy="428.25" r="1.4" fill="#1c4f8c"/>
<circle cx="444.20" cy="431.25" r="1.4" fill="#1c4f8c"/>
<circle cx="451.00" cy="431.25" r="1.4" fill="#1c4f8c"/>
<circle cx="447.60" cy="447.78" r="1.4" fill="#1c4f8c"/>
<circle cx="462.80" cy="425.99" r="1.4" fill="#cf1430"/>
<circle cx="468.80" cy="425.99" r="1.4" fill="#cf1430"/>
<circle cx="465.80" cy="429.75" r="1.4" fill="#cf1430"/>
<circle cx="462.80" cy="433.88" r="1.4" fill="#cf1430"/>
<circle cx="468.80" cy="433.88" r="1.4" fill="#cf1430"/>
<line x1="447.60" y1="422.99" x2="447.60" y2="436.51" stroke="#231f20" stroke-width="0.9" />
<line x1="444.30" y1="422.99" x2="450.90" y2="422.99" stroke="#231f20" stroke-width="0.9" />
<line x1="444.30" y1="436.51" x2="450.90" y2="436.51" stroke="#231f20" stroke-width="0.9" />
<line x1="443.15" y1="430.12" x2="452.06" y2="430.12" stroke="#231f20" stroke-width="0.9" />
<line x1="465.80" y1="428.02" x2="465.80" y2="432.38" stroke="#231f20" stroke-width="0.9" />
<line x1="462.50" y1="428.02" x2="469.10" y2="428.02" stroke="#231f20" stroke-width="0.9" />
<line x1="462.50" y1="432.38" x2="469.10" y2="432.38" stroke="#231f20" stroke-width="0.9" />
<line x1="461.35" y1="430.12" x2="470.25" y2="430.12" stroke="#231f20" stroke-width="0.9" />
<line x1="433.00" y1="461.30" x2="484.60" y2="461.30" stroke="#111" stroke-width="1.1" />
<text transform="translate(408.40,432.40) rotate(-90)" font-size="10.0" fill="#231f20" text-anchor="middle" stroke="#231f20" stroke-width="0.12" textLength="66.4" lengthAdjust="spacingAndGlyphs">Bleeding time (sec)</text>
<circle cx="458.00" cy="389.30" r="1.35" fill="#1c4f8c"/>
<text x="462.80" y="391.99" font-size="7.8" fill="#231f20" stroke="#231f20" stroke-width="0.12" textLength="48.8" lengthAdjust="spacingAndGlyphs" >Vehicle control</text>
<circle cx="458.00" cy="400.20" r="1.35" fill="#cf1430"/>
<text x="462.80" y="402.89" font-size="7.8" fill="#231f20" stroke="#231f20" stroke-width="0.12" textLength="50.2" lengthAdjust="spacingAndGlyphs" >CXCR7 agonist</text>
<text x="462.60" y="412.49" font-size="7.8" fill="#231f20" stroke="#231f20" stroke-width="0.12" textLength="45.8" lengthAdjust="spacingAndGlyphs" >300µg/mouse</text>
<text x="7.05" y="492.30" font-size="11.6" fill="#000" font-weight="bold" textLength="9.2" lengthAdjust="spacingAndGlyphs" stroke="#000" stroke-width="0.5">G</text>
<line x1="44.50" y1="496.20" x2="44.50" y2="562.30" stroke="#3a3a3a" stroke-width="1.6" />
<line x1="41.50" y1="561.80" x2="44.50" y2="561.80" stroke="#3a3a3a" stroke-width="1.0" />
<text x="38.00" y="564.63" font-size="8.2" fill="#231f20" stroke="#231f20" stroke-width="0.12" text-anchor="end" textLength="4.1" lengthAdjust="spacingAndGlyphs" >0</text>
<line x1="41.50" y1="531.10" x2="44.50" y2="531.10" stroke="#3a3a3a" stroke-width="1.0" />
<text x="38.00" y="533.93" font-size="8.2" fill="#231f20" stroke="#231f20" stroke-width="0.12" text-anchor="end" textLength="8.2" lengthAdjust="spacingAndGlyphs" >20</text>
<line x1="41.50" y1="500.40" x2="44.50" y2="500.40" stroke="#3a3a3a" stroke-width="1.0" />
<text x="38.00" y="503.23" font-size="8.2" fill="#231f20" stroke="#231f20" stroke-width="0.12" text-anchor="end" textLength="8.2" lengthAdjust="spacingAndGlyphs" >40</text>
<rect x="49.70" y="525.73" width="10.00" height="36.07" fill="#87a5c3"/>
<line x1="54.70" y1="524.19" x2="54.70" y2="527.26" stroke="#231f20" stroke-width="0.9" />
<line x1="52.10" y1="524.19" x2="57.30" y2="524.19" stroke="#231f20" stroke-width="0.9" />
<line x1="52.10" y1="527.26" x2="57.30" y2="527.26" stroke="#231f20" stroke-width="0.9" />
<line x1="51.19" y1="525.73" x2="58.21" y2="525.73" stroke="#231f20" stroke-width="0.9" />
<circle cx="54.50" cy="518.05" r="1.4" fill="#1c4f8c"/>
<circle cx="56.40" cy="521.89" r="1.4" fill="#1c4f8c"/>
<circle cx="52.80" cy="525.11" r="1.4" fill="#1c4f8c"/>
<circle cx="54.50" cy="526.50" r="1.4" fill="#1c4f8c"/>
<circle cx="50.80" cy="528.95" r="1.4" fill="#1c4f8c"/>
<circle cx="52.80" cy="528.95" r="1.4" fill="#1c4f8c"/>
<circle cx="54.50" cy="528.95" r="1.4" fill="#1c4f8c"/>
<circle cx="56.40" cy="528.95" r="1.4" fill="#1c4f8c"/>
<circle cx="58.20" cy="528.95" r="1.4" fill="#1c4f8c"/>
<rect x="62.80" y="526.80" width="9.80" height="35.00" fill="#de8797"/>
<line x1="67.70" y1="524.81" x2="67.70" y2="528.80" stroke="#231f20" stroke-width="0.9" />
<line x1="65.10" y1="524.81" x2="70.30" y2="524.81" stroke="#231f20" stroke-width="0.9" />
<line x1="65.10" y1="528.80" x2="70.30" y2="528.80" stroke="#231f20" stroke-width="0.9" />
<line x1="64.19" y1="526.80" x2="71.21" y2="526.80" stroke="#231f20" stroke-width="0.9" />
<circle cx="66.20" cy="516.98" r="1.4" fill="#cf1430"/>
<circle cx="68.90" cy="516.98" r="1.4" fill="#cf1430"/>
<circle cx="71.00" cy="523.42" r="1.4" fill="#cf1430"/>
<circle cx="63.50" cy="526.50" r="1.4" fill="#cf1430"/>
<circle cx="68.90" cy="529.56" r="1.4" fill="#cf1430"/>
<circle cx="65.50" cy="531.87" r="1.4" fill="#cf1430"/>
<circle cx="66.50" cy="535.70" r="1.4" fill="#cf1430"/>
<circle cx="69.50" cy="535.70" r="1.4" fill="#cf1430"/>
<rect x="78.30" y="549.06" width="9.50" height="12.74" fill="#87a5c3"/>
<line x1="83.05" y1="548.45" x2="83.05" y2="549.67" stroke="#231f20" stroke-width="0.9" />
<line x1="80.45" y1="548.45" x2="85.65" y2="548.45" stroke="#231f20" stroke-width="0.9" />
<line x1="80.45" y1="549.67" x2="85.65" y2="549.67" stroke="#231f20" stroke-width="0.9" />
<line x1="79.54" y1="549.06" x2="86.56" y2="549.06" stroke="#231f20" stroke-width="0.9" />
<circle cx="80.50" cy="545.84" r="1.4" fill="#1c4f8c"/>
<circle cx="83.50" cy="545.84" r="1.4" fill="#1c4f8c"/>
<circle cx="81.50" cy="547.68" r="1.4" fill="#1c4f8c"/>
<circle cx="84.50" cy="548.29" r="1.4" fill="#1c4f8c"/>
<circle cx="86.50" cy="548.60" r="1.4" fill="#1c4f8c"/>
<circle cx="80.50" cy="549.83" r="1.4" fill="#1c4f8c"/>
<circle cx="83.00" cy="549.83" r="1.4" fill="#1c4f8c"/>
<rect x="91.00" y="549.06" width="10.00" height="12.74" fill="#de8797"/>
<line x1="96.00" y1="548.60" x2="96.00" y2="549.52" stroke="#231f20" stroke-width="0.9" />
<line x1="93.40" y1="548.60" x2="98.60" y2="548.60" stroke="#231f20" stroke-width="0.9" />
<line x1="93.40" y1="549.52" x2="98.60" y2="549.52" stroke="#231f20" stroke-width="0.9" />
<line x1="92.49" y1="549.06" x2="99.51" y2="549.06" stroke="#231f20" stroke-width="0.9" />
<circle cx="96.00" cy="547.06" r="1.4" fill="#cf1430"/>
<circle cx="93.20" cy="548.29" r="1.4" fill="#cf1430"/>
<circle cx="95.50" cy="548.75" r="1.4" fill="#cf1430"/>
<circle cx="98.50" cy="548.60" r="1.4" fill="#cf1430"/>
<circle cx="100.00" cy="549.52" r="1.4" fill="#cf1430"/>
<circle cx="96.50" cy="550.13" r="1.4" fill="#cf1430"/>
<line x1="43.70" y1="561.80" x2="104.70" y2="561.80" stroke="#111" stroke-width="1.1" />
<text x="62.75" y="571.20" font-size="8.2" fill="#231f20" stroke="#231f20" stroke-width="0.12" text-anchor="middle" textLength="19.1" lengthAdjust="spacingAndGlyphs" >APTT</text>
<text x="91.00" y="571.20" font-size="8.2" fill="#231f20" stroke="#231f20" stroke-width="0.12" text-anchor="middle" textLength="8.4" lengthAdjust="spacingAndGlyphs" >PT</text>
<text transform="translate(14.20,529.00) rotate(-90)" font-size="10.0" fill="#231f20" text-anchor="middle" stroke="#231f20" stroke-width="0.12" textLength="38.0" lengthAdjust="spacingAndGlyphs">Coagulation</text>
<text transform="translate(21.80,531.00) rotate(-90)" font-size="10.0" fill="#231f20" text-anchor="middle" stroke="#231f20" stroke-width="0.12" textLength="57.0" lengthAdjust="spacingAndGlyphs">parameters (sec)</text>
<text x="118.55" y="492.30" font-size="11.6" fill="#000" font-weight="bold" textLength="7.7" lengthAdjust="spacingAndGlyphs" stroke="#000" stroke-width="0.5">H</text>
<line x1="150.70" y1="503.60" x2="150.70" y2="562.80" stroke="#3a3a3a" stroke-width="1.6" />
<line x1="147.70" y1="537.00" x2="150.70" y2="537.00" stroke="#3a3a3a" stroke-width="1.0" />
<text x="144.20" y="539.83" font-size="8.2" fill="#231f20" stroke="#231f20" stroke-width="0.12" text-anchor="end" textLength="8.2" lengthAdjust="spacingAndGlyphs" >60</text>
<line x1="147.70" y1="507.20" x2="150.70" y2="507.20" stroke="#3a3a3a" stroke-width="1.0" />
<text x="144.20" y="510.03" font-size="8.2" fill="#231f20" stroke="#231f20" stroke-width="0.12" text-anchor="end" textLength="12.3" lengthAdjust="spacingAndGlyphs" >120</text>
<rect x="155.00" y="556.87" width="9.60" height="5.43" fill="#87a5c3"/>
<circle cx="160.94" cy="549.42" r="1.35" fill="#1c4f8c"/>
<circle cx="161.01" cy="550.91" r="1.35" fill="#1c4f8c"/>
<circle cx="158.11" cy="552.89" r="1.35" fill="#1c4f8c"/>
<circle cx="156.87" cy="554.38" r="1.35" fill="#1c4f8c"/>
<circle cx="157.51" cy="555.87" r="1.35" fill="#1c4f8c"/>
<circle cx="158.93" cy="556.87" r="1.35" fill="#1c4f8c"/>
<circle cx="157.33" cy="557.86" r="1.35" fill="#1c4f8c"/>
<circle cx="161.90" cy="559.35" r="1.35" fill="#1c4f8c"/>
<circle cx="160.17" cy="560.34" r="1.35" fill="#1c4f8c"/>
<circle cx="160.60" cy="560.84" r="1.35" fill="#1c4f8c"/>
<circle cx="160.59" cy="561.34" r="1.35" fill="#1c4f8c"/>
<line x1="159.80" y1="555.62" x2="159.80" y2="558.11" stroke="#231f20" stroke-width="0.9" />
<line x1="157.20" y1="555.62" x2="162.40" y2="555.62" stroke="#231f20" stroke-width="0.9" />
<line x1="157.20" y1="558.11" x2="162.40" y2="558.11" stroke="#231f20" stroke-width="0.9" />
<line x1="156.29" y1="556.87" x2="163.31" y2="556.87" stroke="#231f20" stroke-width="0.9" />
<rect x="167.80" y="524.09" width="9.50" height="38.21" fill="#de8797"/>
<circle cx="173.67" cy="509.68" r="1.35" fill="#cf1430"/>
<circle cx="172.48" cy="514.65" r="1.35" fill="#cf1430"/>
<circle cx="169.48" cy="517.13" r="1.35" fill="#cf1430"/>
<circle cx="174.39" cy="519.12" r="1.35" fill="#cf1430"/>
<circle cx="174.08" cy="521.11" r="1.35" fill="#cf1430"/>
<circle cx="172.57" cy="523.09" r="1.35" fill="#cf1430"/>
<circle cx="172.77" cy="524.58" r="1.35" fill="#cf1430"/>
<circle cx="173.53" cy="527.07" r="1.35" fill="#cf1430"/>
<circle cx="169.87" cy="529.55" r="1.35" fill="#cf1430"/>
<circle cx="174.01" cy="531.04" r="1.35" fill="#cf1430"/>
<circle cx="171.02" cy="532.03" r="1.35" fill="#cf1430"/>
<line x1="172.55" y1="522.10" x2="172.55" y2="526.07" stroke="#231f20" stroke-width="0.9" />
<line x1="169.95" y1="522.10" x2="175.15" y2="522.10" stroke="#231f20" stroke-width="0.9" />
<line x1="169.95" y1="526.07" x2="175.15" y2="526.07" stroke="#231f20" stroke-width="0.9" />
<line x1="169.04" y1="524.09" x2="176.06" y2="524.09" stroke="#231f20" stroke-width="0.9" />
<rect x="182.60" y="554.38" width="9.40" height="7.92" fill="#87a5c3"/>
<circle cx="184.70" cy="552.89" r="1.35" fill="#1c4f8c"/>
<circle cx="185.87" cy="553.39" r="1.35" fill="#1c4f8c"/>
<circle cx="188.70" cy="553.89" r="1.35" fill="#1c4f8c"/>
<circle cx="185.50" cy="553.89" r="1.35" fill="#1c4f8c"/>
<circle cx="188.77" cy="554.38" r="1.35" fill="#1c4f8c"/>
<circle cx="190.21" cy="554.38" r="1.35" fill="#1c4f8c"/>
<line x1="187.30" y1="553.89" x2="187.30" y2="554.88" stroke="#231f20" stroke-width="0.9" />
<line x1="184.70" y1="553.89" x2="189.90" y2="553.89" stroke="#231f20" stroke-width="0.9" />
<line x1="184.70" y1="554.88" x2="189.90" y2="554.88" stroke="#231f20" stroke-width="0.9" />
<line x1="183.79" y1="554.38" x2="190.81" y2="554.38" stroke="#231f20" stroke-width="0.9" />
<rect x="195.30" y="541.47" width="9.50" height="20.83" fill="#de8797"/>
<circle cx="200.01" cy="527.07" r="1.35" fill="#cf1430"/>
<circle cx="199.32" cy="529.55" r="1.35" fill="#cf1430"/>
<circle cx="199.92" cy="532.03" r="1.35" fill="#cf1430"/>
<circle cx="201.18" cy="536.01" r="1.35" fill="#cf1430"/>
<circle cx="201.70" cy="539.48" r="1.35" fill="#cf1430"/>
<circle cx="200.77" cy="541.97" r="1.35" fill="#cf1430"/>
<circle cx="200.93" cy="544.45" r="1.35" fill="#cf1430"/>
<circle cx="197.44" cy="545.94" r="1.35" fill="#cf1430"/>
<circle cx="197.87" cy="546.93" r="1.35" fill="#cf1430"/>
<circle cx="198.53" cy="549.42" r="1.35" fill="#cf1430"/>
<circle cx="201.55" cy="550.41" r="1.35" fill="#cf1430"/>
<line x1="200.05" y1="538.99" x2="200.05" y2="543.95" stroke="#231f20" stroke-width="0.9" />
<line x1="197.45" y1="538.99" x2="202.65" y2="538.99" stroke="#231f20" stroke-width="0.9" />
<line x1="197.45" y1="543.95" x2="202.65" y2="543.95" stroke="#231f20" stroke-width="0.9" />
<line x1="196.54" y1="541.47" x2="203.56" y2="541.47" stroke="#231f20" stroke-width="0.9" />
<line x1="149.90" y1="562.20" x2="210.20" y2="562.20" stroke="#111" stroke-width="1.1" />
<line x1="154.90" y1="508.40" x2="168.40" y2="508.40" stroke="#3a3a3a" stroke-width="1.1" />
<line x1="154.90" y1="506.20" x2="154.90" y2="510.60" stroke="#222" stroke-width="1.1" />
<line x1="168.40" y1="506.20" x2="168.40" y2="510.60" stroke="#222" stroke-width="1.1" />
<text x="161.80" y="519.45" font-size="9.0" fill="#231f20" stroke="#231f20" text-anchor="middle" textLength="12.8" lengthAdjust="spacingAndGlyphs" stroke-width="0.35">****</text>
<line x1="176.40" y1="515.00" x2="202.50" y2="515.00" stroke="#3a3a3a" stroke-width="1.1" />
<line x1="176.40" y1="512.80" x2="176.40" y2="517.20" stroke="#222" stroke-width="1.1" />
<line x1="202.50" y1="512.80" x2="202.50" y2="517.20" stroke="#222" stroke-width="1.1" />
<text x="190.40" y="525.55" font-size="9.0" fill="#231f20" stroke="#231f20" text-anchor="middle" textLength="12.8" lengthAdjust="spacingAndGlyphs" stroke-width="0.35">****</text>
<line x1="184.72" y1="566.40" x2="209.68" y2="566.40" stroke="#2a2a2a" stroke-width="1.25" />
<path d="M182.20,566.40 L186.40,564.10 L186.40,568.70 Z" fill="#231f20"/>
<path d="M212.20,566.40 L208.00,564.10 L208.00,568.70 Z" fill="#231f20"/>
<text x="196.70" y="577.13" font-size="8.2" fill="#231f20" stroke="#231f20" stroke-width="0.12" text-anchor="middle" textLength="23.8" lengthAdjust="spacingAndGlyphs" >CXCR7</text>
<text x="198.00" y="585.20" font-size="8.2" fill="#231f20" stroke="#231f20" stroke-width="0.12" text-anchor="middle" textLength="25.7" lengthAdjust="spacingAndGlyphs" >agonist</text>
<text transform="translate(126.80,534.20) rotate(-90)" font-size="10.0" fill="#231f20" text-anchor="middle" stroke="#231f20" stroke-width="0.12" textLength="55.0" lengthAdjust="spacingAndGlyphs">Annexin V (MFI)</text>
<circle cx="154.40" cy="499.40" r="1.35" fill="#1c4f8c"/>
<text x="158.70" y="502.09" font-size="7.8" fill="#231f20" stroke="#231f20" stroke-width="0.12" textLength="24.3" lengthAdjust="spacingAndGlyphs" >Resting</text>
<circle cx="194.60" cy="499.40" r="1.35" fill="#cf1430"/>
<text x="198.50" y="502.09" font-size="7.8" fill="#231f20" stroke="#231f20" stroke-width="0.12" textLength="13.2" lengthAdjust="spacingAndGlyphs" >CRP</text>
<line x1="246.40" y1="503.60" x2="246.40" y2="562.80" stroke="#3a3a3a" stroke-width="1.6" />
<line x1="243.40" y1="562.30" x2="246.40" y2="562.30" stroke="#3a3a3a" stroke-width="1.0" />
<text x="239.90" y="565.13" font-size="8.2" fill="#231f20" stroke="#231f20" stroke-width="0.12" text-anchor="end" textLength="4.1" lengthAdjust="spacingAndGlyphs" >0</text>
<line x1="243.40" y1="544.17" x2="246.40" y2="544.17" stroke="#3a3a3a" stroke-width="1.0" />
<text x="239.90" y="547.00" font-size="8.2" fill="#231f20" stroke="#231f20" stroke-width="0.12" text-anchor="end" textLength="8.2" lengthAdjust="spacingAndGlyphs" >20</text>
<line x1="243.40" y1="526.03" x2="246.40" y2="526.03" stroke="#3a3a3a" stroke-width="1.0" />
<text x="239.90" y="528.86" font-size="8.2" fill="#231f20" stroke="#231f20" stroke-width="0.12" text-anchor="end" textLength="8.2" lengthAdjust="spacingAndGlyphs" >40</text>
<line x1="243.40" y1="507.90" x2="246.40" y2="507.90" stroke="#3a3a3a" stroke-width="1.0" />
<text x="239.90" y="510.73" font-size="8.2" fill="#231f20" stroke="#231f20" stroke-width="0.12" text-anchor="end" textLength="8.2" lengthAdjust="spacingAndGlyphs" >60</text>
<rect x="251.00" y="553.23" width="9.50" height="9.07" fill="#87a5c3"/>
<circle cx="254.54" cy="544.17" r="1.35" fill="#1c4f8c"/>
<circle cx="256.17" cy="545.07" r="1.35" fill="#1c4f8c"/>
<circle cx="252.74" cy="545.98" r="1.35" fill="#1c4f8c"/>
<circle cx="253.04" cy="551.42" r="1.35" fill="#1c4f8c"/>
<circle cx="254.32" cy="553.23" r="1.35" fill="#1c4f8c"/>
<circle cx="256.81" cy="555.05" r="1.35" fill="#1c4f8c"/>
<circle cx="256.94" cy="557.77" r="1.35" fill="#1c4f8c"/>
<circle cx="256.83" cy="559.58" r="1.35" fill="#1c4f8c"/>
<circle cx="254.46" cy="560.49" r="1.35" fill="#1c4f8c"/>
<circle cx="255.85" cy="560.94" r="1.35" fill="#1c4f8c"/>
<circle cx="255.53" cy="561.39" r="1.35" fill="#1c4f8c"/>
<circle cx="255.54" cy="561.39" r="1.35" fill="#1c4f8c"/>
<line x1="255.75" y1="551.42" x2="255.75" y2="555.05" stroke="#231f20" stroke-width="0.9" />
<line x1="253.15" y1="551.42" x2="258.35" y2="551.42" stroke="#231f20" stroke-width="0.9" />
<line x1="253.15" y1="555.05" x2="258.35" y2="555.05" stroke="#231f20" stroke-width="0.9" />
<line x1="252.24" y1="553.23" x2="259.26" y2="553.23" stroke="#231f20" stroke-width="0.9" />
<rect x="263.70" y="525.58" width="9.50" height="36.72" fill="#de8797"/>
<circle cx="266.09" cy="511.53" r="1.35" fill="#cf1430"/>
<circle cx="270.88" cy="513.34" r="1.35" fill="#cf1430"/>
<circle cx="266.59" cy="521.50" r="1.35" fill="#cf1430"/>
<circle cx="271.40" cy="524.22" r="1.35" fill="#cf1430"/>
<circle cx="271.14" cy="525.13" r="1.35" fill="#cf1430"/>
<circle cx="265.47" cy="526.03" r="1.35" fill="#cf1430"/>
<circle cx="268.20" cy="526.94" r="1.35" fill="#cf1430"/>
<circle cx="270.43" cy="527.85" r="1.35" fill="#cf1430"/>
<circle cx="271.34" cy="535.10" r="1.35" fill="#cf1430"/>
<circle cx="268.14" cy="538.73" r="1.35" fill="#cf1430"/>
<circle cx="267.02" cy="539.63" r="1.35" fill="#cf1430"/>
<line x1="268.45" y1="523.31" x2="268.45" y2="527.85" stroke="#231f20" stroke-width="0.9" />
<line x1="265.85" y1="523.31" x2="271.05" y2="523.31" stroke="#231f20" stroke-width="0.9" />
<line x1="265.85" y1="527.85" x2="271.05" y2="527.85" stroke="#231f20" stroke-width="0.9" />
<line x1="264.94" y1="525.58" x2="271.96" y2="525.58" stroke="#231f20" stroke-width="0.9" />
<rect x="277.40" y="549.61" width="9.60" height="12.69" fill="#87a5c3"/>
<circle cx="280.39" cy="549.15" r="1.35" fill="#1c4f8c"/>
<circle cx="284.98" cy="549.43" r="1.35" fill="#1c4f8c"/>
<circle cx="280.39" cy="549.61" r="1.35" fill="#1c4f8c"/>
<circle cx="282.71" cy="549.79" r="1.35" fill="#1c4f8c"/>
<circle cx="279.96" cy="550.06" r="1.35" fill="#1c4f8c"/>
<line x1="282.20" y1="549.33" x2="282.20" y2="549.88" stroke="#231f20" stroke-width="0.9" />
<line x1="279.60" y1="549.33" x2="284.80" y2="549.33" stroke="#231f20" stroke-width="0.9" />
<line x1="279.60" y1="549.88" x2="284.80" y2="549.88" stroke="#231f20" stroke-width="0.9" />
<line x1="278.69" y1="549.61" x2="285.71" y2="549.61" stroke="#231f20" stroke-width="0.9" />
<rect x="290.00" y="542.35" width="9.60" height="19.95" fill="#de8797"/>
<circle cx="294.95" cy="532.38" r="1.35" fill="#cf1430"/>
<circle cx="297.63" cy="533.29" r="1.35" fill="#cf1430"/>
<circle cx="292.51" cy="533.29" r="1.35" fill="#cf1430"/>
<circle cx="296.80" cy="535.10" r="1.35" fill="#cf1430"/>
<circle cx="294.85" cy="539.63" r="1.35" fill="#cf1430"/>
<circle cx="297.21" cy="542.35" r="1.35" fill="#cf1430"/>
<circle cx="296.07" cy="544.17" r="1.35" fill="#cf1430"/>
<circle cx="293.12" cy="548.70" r="1.35" fill="#cf1430"/>
<circle cx="297.28" cy="552.33" r="1.35" fill="#cf1430"/>
<circle cx="294.71" cy="555.05" r="1.35" fill="#cf1430"/>
<circle cx="291.83" cy="555.05" r="1.35" fill="#cf1430"/>
<line x1="294.80" y1="539.63" x2="294.80" y2="545.07" stroke="#231f20" stroke-width="0.9" />
<line x1="292.20" y1="539.63" x2="297.40" y2="539.63" stroke="#231f20" stroke-width="0.9" />
<line x1="292.20" y1="545.07" x2="297.40" y2="545.07" stroke="#231f20" stroke-width="0.9" />
<line x1="291.29" y1="542.35" x2="298.31" y2="542.35" stroke="#231f20" stroke-width="0.9" />
<line x1="245.60" y1="562.20" x2="303.80" y2="562.20" stroke="#111" stroke-width="1.1" />
<line x1="250.60" y1="518.50" x2="263.20" y2="518.50" stroke="#3a3a3a" stroke-width="1.1" />
<line x1="250.60" y1="516.30" x2="250.60" y2="520.70" stroke="#222" stroke-width="1.1" />
<line x1="263.20" y1="516.30" x2="263.20" y2="520.70" stroke="#222" stroke-width="1.1" />
<text x="256.40" y="513.35" font-size="9.0" fill="#231f20" stroke="#231f20" text-anchor="middle" textLength="12.8" lengthAdjust="spacingAndGlyphs" stroke-width="0.35">****</text>
<line x1="270.40" y1="518.50" x2="295.40" y2="518.50" stroke="#3a3a3a" stroke-width="1.1" />
<line x1="270.40" y1="516.30" x2="270.40" y2="520.70" stroke="#222" stroke-width="1.1" />
<line x1="295.40" y1="516.30" x2="295.40" y2="520.70" stroke="#222" stroke-width="1.1" />
<text x="283.80" y="527.95" font-size="9.0" fill="#231f20" stroke="#231f20" text-anchor="middle" textLength="6.1000000000000005" lengthAdjust="spacingAndGlyphs" stroke-width="0.35">**</text>
<line x1="277.82" y1="566.40" x2="301.68" y2="566.40" stroke="#2a2a2a" stroke-width="1.25" />
<path d="M275.30,566.40 L279.50,564.10 L279.50,568.70 Z" fill="#231f20"/>
<path d="M304.20,566.40 L300.00,564.10 L300.00,568.70 Z" fill="#231f20"/>
<text x="289.25" y="577.13" font-size="8.2" fill="#231f20" stroke="#231f20" stroke-width="0.12" text-anchor="middle" textLength="23.8" lengthAdjust="spacingAndGlyphs" >CXCR7</text>
<text x="290.55" y="585.20" font-size="8.2" fill="#231f20" stroke="#231f20" stroke-width="0.12" text-anchor="middle" textLength="25.7" lengthAdjust="spacingAndGlyphs" >agonist</text>
<text transform="translate(227.60,534.80) rotate(-90)" font-size="10.0" fill="#231f20" text-anchor="middle" stroke="#231f20" stroke-width="0.12" textLength="64.5" lengthAdjust="spacingAndGlyphs">Annexin V +ve (%)</text>
<text x="323.85" y="491.40" font-size="11.2" fill="#000" font-weight="bold" textLength="3.2" lengthAdjust="spacingAndGlyphs" stroke="#000" stroke-width="0.5">I</text>
<line x1="351.40" y1="503.80" x2="351.40" y2="563.00" stroke="#3a3a3a" stroke-width="1.6" />
<line x1="348.40" y1="544.20" x2="351.40" y2="544.20" stroke="#3a3a3a" stroke-width="1.0" />
<text x="344.90" y="547.03" font-size="8.2" fill="#231f20" stroke="#231f20" stroke-width="0.12" text-anchor="end" textLength="12.3" lengthAdjust="spacingAndGlyphs" >100</text>
<line x1="348.40" y1="507.70" x2="351.40" y2="507.70" stroke="#3a3a3a" stroke-width="1.0" />
<text x="344.90" y="510.53" font-size="8.2" fill="#231f20" stroke="#231f20" stroke-width="0.12" text-anchor="end" textLength="12.3" lengthAdjust="spacingAndGlyphs" >200</text>
<rect x="356.20" y="558.07" width="9.60" height="4.43" fill="#87a5c3"/>
<circle cx="357.90" cy="550.40" r="1.35" fill="#1c4f8c"/>
<circle cx="360.95" cy="554.42" r="1.35" fill="#1c4f8c"/>
<circle cx="360.69" cy="556.98" r="1.35" fill="#1c4f8c"/>
<circle cx="359.76" cy="558.80" r="1.35" fill="#1c4f8c"/>
<circle cx="358.76" cy="559.53" r="1.35" fill="#1c4f8c"/>
<circle cx="360.03" cy="560.26" r="1.35" fill="#1c4f8c"/>
<circle cx="359.85" cy="560.62" r="1.35" fill="#1c4f8c"/>
<line x1="361.00" y1="556.61" x2="361.00" y2="559.53" stroke="#231f20" stroke-width="0.9" />
<line x1="358.40" y1="556.61" x2="363.60" y2="556.61" stroke="#231f20" stroke-width="0.9" />
<line x1="358.40" y1="559.53" x2="363.60" y2="559.53" stroke="#231f20" stroke-width="0.9" />
<line x1="357.49" y1="558.07" x2="364.51" y2="558.07" stroke="#231f20" stroke-width="0.9" />
<rect x="369.00" y="525.95" width="9.00" height="36.55" fill="#de8797"/>
<circle cx="374.57" cy="516.46" r="1.35" fill="#cf1430"/>
<circle cx="371.93" cy="524.12" r="1.35" fill="#cf1430"/>
<circle cx="374.29" cy="528.14" r="1.35" fill="#cf1430"/>
<circle cx="374.57" cy="536.17" r="1.35" fill="#cf1430"/>
<line x1="373.50" y1="521.57" x2="373.50" y2="530.33" stroke="#231f20" stroke-width="0.9" />
<line x1="370.90" y1="521.57" x2="376.10" y2="521.57" stroke="#231f20" stroke-width="0.9" />
<line x1="370.90" y1="530.33" x2="376.10" y2="530.33" stroke="#231f20" stroke-width="0.9" />
<line x1="369.99" y1="525.95" x2="377.01" y2="525.95" stroke="#231f20" stroke-width="0.9" />
<rect x="383.50" y="558.07" width="9.50" height="4.43" fill="#87a5c3"/>
<circle cx="385.90" cy="555.15" r="1.35" fill="#1c4f8c"/>
<circle cx="390.88" cy="555.88" r="1.35" fill="#1c4f8c"/>
<circle cx="389.57" cy="558.07" r="1.35" fill="#1c4f8c"/>
<circle cx="390.73" cy="559.53" r="1.35" fill="#1c4f8c"/>
<circle cx="386.95" cy="560.62" r="1.35" fill="#1c4f8c"/>
<circle cx="387.46" cy="560.62" r="1.35" fill="#1c4f8c"/>
<line x1="388.25" y1="556.61" x2="388.25" y2="559.53" stroke="#231f20" stroke-width="0.9" />
<line x1="385.65" y1="556.61" x2="390.85" y2="556.61" stroke="#231f20" stroke-width="0.9" />
<line x1="385.65" y1="559.53" x2="390.85" y2="559.53" stroke="#231f20" stroke-width="0.9" />
<line x1="384.74" y1="558.07" x2="391.76" y2="558.07" stroke="#231f20" stroke-width="0.9" />
<rect x="396.00" y="552.96" width="9.60" height="9.54" fill="#de8797"/>
<circle cx="400.13" cy="549.68" r="1.35" fill="#cf1430"/>
<circle cx="403.91" cy="550.77" r="1.35" fill="#cf1430"/>
<circle cx="401.36" cy="552.23" r="1.35" fill="#cf1430"/>
<circle cx="399.93" cy="554.42" r="1.35" fill="#cf1430"/>
<circle cx="400.35" cy="555.15" r="1.35" fill="#cf1430"/>
<line x1="400.80" y1="551.50" x2="400.80" y2="554.42" stroke="#231f20" stroke-width="0.9" />
<line x1="398.20" y1="551.50" x2="403.40" y2="551.50" stroke="#231f20" stroke-width="0.9" />
<line x1="398.20" y1="554.42" x2="403.40" y2="554.42" stroke="#231f20" stroke-width="0.9" />
<line x1="397.29" y1="552.96" x2="404.31" y2="552.96" stroke="#231f20" stroke-width="0.9" />
<line x1="350.60" y1="562.30" x2="411.50" y2="562.30" stroke="#111" stroke-width="1.1" />
<line x1="360.20" y1="509.30" x2="372.00" y2="509.30" stroke="#3a3a3a" stroke-width="1.1" />
<line x1="360.20" y1="507.10" x2="360.20" y2="511.50" stroke="#222" stroke-width="1.1" />
<line x1="372.00" y1="507.10" x2="372.00" y2="511.50" stroke="#222" stroke-width="1.1" />
<line x1="375.80" y1="509.30" x2="404.00" y2="509.30" stroke="#3a3a3a" stroke-width="1.1" />
<line x1="375.80" y1="507.10" x2="375.80" y2="511.50" stroke="#222" stroke-width="1.1" />
<line x1="404.00" y1="507.10" x2="404.00" y2="511.50" stroke="#222" stroke-width="1.1" />
<text x="367.10" y="518.05" font-size="9.0" fill="#231f20" stroke="#231f20" text-anchor="middle" textLength="9.450000000000001" lengthAdjust="spacingAndGlyphs" stroke-width="0.35">***</text>
<text x="391.00" y="518.05" font-size="9.0" fill="#231f20" stroke="#231f20" text-anchor="middle" textLength="9.450000000000001" lengthAdjust="spacingAndGlyphs" stroke-width="0.35">***</text>
<line x1="386.02" y1="566.20" x2="408.68" y2="566.20" stroke="#2a2a2a" stroke-width="1.25" />
<path d="M383.50,566.20 L387.70,563.90 L387.70,568.50 Z" fill="#231f20"/>
<path d="M411.20,566.20 L407.00,563.90 L407.00,568.50 Z" fill="#231f20"/>
<text x="396.85" y="577.13" font-size="8.2" fill="#231f20" stroke="#231f20" stroke-width="0.12" text-anchor="middle" textLength="23.8" lengthAdjust="spacingAndGlyphs" >CXCR7</text>
<text x="398.15" y="585.20" font-size="8.2" fill="#231f20" stroke="#231f20" stroke-width="0.12" text-anchor="middle" textLength="25.7" lengthAdjust="spacingAndGlyphs" >agonist</text>
<text transform="translate(329.20,534.60) rotate(-90)" font-size="10.0" fill="#231f20" text-anchor="middle" stroke="#231f20" stroke-width="0.12" textLength="52.0" lengthAdjust="spacingAndGlyphs">Thrombin (nM)</text>
<circle cx="359.80" cy="489.50" r="1.35" fill="#1c4f8c"/>
<text x="364.60" y="492.19" font-size="7.8" fill="#231f20" stroke="#231f20" stroke-width="0.12" textLength="48.7" lengthAdjust="spacingAndGlyphs" >Untreated PRP</text>
<circle cx="359.80" cy="499.70" r="1.35" fill="#cf1430"/>
<text x="364.60" y="502.39" font-size="7.8" fill="#231f20" stroke="#231f20" stroke-width="0.12" textLength="29.4" lengthAdjust="spacingAndGlyphs" >CRP PRP</text>
<line x1="452.50" y1="504.30" x2="452.50" y2="562.40" stroke="#3a3a3a" stroke-width="1.6" />
<line x1="449.50" y1="561.90" x2="452.50" y2="561.90" stroke="#3a3a3a" stroke-width="1.0" />
<text x="446.00" y="564.73" font-size="8.2" fill="#231f20" stroke="#231f20" stroke-width="0.12" text-anchor="end" textLength="12.3" lengthAdjust="spacingAndGlyphs" >200</text>
<line x1="449.50" y1="534.65" x2="452.50" y2="534.65" stroke="#3a3a3a" stroke-width="1.0" />
<text x="446.00" y="537.48" font-size="8.2" fill="#231f20" stroke="#231f20" stroke-width="0.12" text-anchor="end" textLength="12.3" lengthAdjust="spacingAndGlyphs" >250</text>
<line x1="449.50" y1="507.40" x2="452.50" y2="507.40" stroke="#3a3a3a" stroke-width="1.0" />
<text x="446.00" y="510.23" font-size="8.2" fill="#231f20" stroke="#231f20" stroke-width="0.12" text-anchor="end" textLength="12.3" lengthAdjust="spacingAndGlyphs" >300</text>
<rect x="457.40" y="535.19" width="9.70" height="26.71" fill="#87a5c3"/>
<rect x="470.00" y="534.11" width="9.60" height="27.79" fill="#de8797"/>
<rect x="485.00" y="523.75" width="9.80" height="38.15" fill="#87a5c3"/>
<rect x="497.40" y="530.29" width="9.50" height="31.61" fill="#de8797"/>
<circle cx="462.20" cy="521.57" r="1.4" fill="#1c4f8c"/>
<circle cx="459.50" cy="537.38" r="1.4" fill="#1c4f8c"/>
<circle cx="465.00" cy="538.46" r="1.4" fill="#1c4f8c"/>
<circle cx="462.20" cy="542.28" r="1.4" fill="#1c4f8c"/>
<circle cx="474.80" cy="517.75" r="1.4" fill="#cf1430"/>
<circle cx="474.80" cy="524.29" r="1.4" fill="#cf1430"/>
<circle cx="474.80" cy="542.28" r="1.4" fill="#cf1430"/>
<circle cx="474.80" cy="549.91" r="1.4" fill="#cf1430"/>
<circle cx="489.90" cy="507.40" r="1.4" fill="#1c4f8c"/>
<circle cx="489.90" cy="510.67" r="1.4" fill="#1c4f8c"/>
<circle cx="489.90" cy="532.47" r="1.4" fill="#1c4f8c"/>
<circle cx="489.90" cy="539.55" r="1.4" fill="#1c4f8c"/>
<circle cx="502.10" cy="512.85" r="1.4" fill="#cf1430"/>
<circle cx="502.10" cy="517.21" r="1.4" fill="#cf1430"/>
<circle cx="499.50" cy="546.64" r="1.4" fill="#cf1430"/>
<circle cx="505.00" cy="546.10" r="1.4" fill="#cf1430"/>
<line x1="462.20" y1="530.83" x2="462.20" y2="539.55" stroke="#231f20" stroke-width="0.9" />
<line x1="459.60" y1="530.83" x2="464.80" y2="530.83" stroke="#231f20" stroke-width="0.9" />
<line x1="459.60" y1="539.55" x2="464.80" y2="539.55" stroke="#231f20" stroke-width="0.9" />
<line x1="458.69" y1="535.19" x2="465.71" y2="535.19" stroke="#231f20" stroke-width="0.9" />
<line x1="474.80" y1="526.48" x2="474.80" y2="541.74" stroke="#231f20" stroke-width="0.9" />
<line x1="472.20" y1="526.48" x2="477.40" y2="526.48" stroke="#231f20" stroke-width="0.9" />
<line x1="472.20" y1="541.74" x2="477.40" y2="541.74" stroke="#231f20" stroke-width="0.9" />
<line x1="471.29" y1="534.11" x2="478.31" y2="534.11" stroke="#231f20" stroke-width="0.9" />
<line x1="489.90" y1="515.57" x2="489.90" y2="531.92" stroke="#231f20" stroke-width="0.9" />
<line x1="487.30" y1="515.57" x2="492.50" y2="515.57" stroke="#231f20" stroke-width="0.9" />
<line x1="487.30" y1="531.92" x2="492.50" y2="531.92" stroke="#231f20" stroke-width="0.9" />
<line x1="486.39" y1="523.75" x2="493.41" y2="523.75" stroke="#231f20" stroke-width="0.9" />
<line x1="502.10" y1="521.57" x2="502.10" y2="539.55" stroke="#231f20" stroke-width="0.9" />
<line x1="499.50" y1="521.57" x2="504.70" y2="521.57" stroke="#231f20" stroke-width="0.9" />
<line x1="499.50" y1="539.55" x2="504.70" y2="539.55" stroke="#231f20" stroke-width="0.9" />
<line x1="498.59" y1="530.29" x2="505.61" y2="530.29" stroke="#231f20" stroke-width="0.9" />
<line x1="451.70" y1="561.90" x2="513.00" y2="561.90" stroke="#111" stroke-width="1.1" />
<line x1="485.12" y1="566.40" x2="510.08" y2="566.40" stroke="#2a2a2a" stroke-width="1.25" />
<path d="M482.60,566.40 L486.80,564.10 L486.80,568.70 Z" fill="#231f20"/>
<path d="M512.60,566.40 L508.40,564.10 L508.40,568.70 Z" fill="#231f20"/>
<text x="497.10" y="577.13" font-size="8.2" fill="#231f20" stroke="#231f20" stroke-width="0.12" text-anchor="middle" textLength="23.8" lengthAdjust="spacingAndGlyphs" >CXCR7</text>
<text x="498.40" y="585.20" font-size="8.2" fill="#231f20" stroke="#231f20" stroke-width="0.12" text-anchor="middle" textLength="25.7" lengthAdjust="spacingAndGlyphs" >agonist</text>
<text transform="translate(429.80,534.60) rotate(-90)" font-size="10.0" fill="#231f20" text-anchor="middle" stroke="#231f20" stroke-width="0.12" textLength="54.5" lengthAdjust="spacingAndGlyphs">Thrombin (nM)</text>
<circle cx="457.80" cy="490.20" r="1.35" fill="#1c4f8c"/>
<text x="462.90" y="492.89" font-size="7.8" fill="#231f20" stroke="#231f20" stroke-width="0.12" textLength="48.5" lengthAdjust="spacingAndGlyphs" >Untreated PPP</text>
<circle cx="457.80" cy="500.30" r="1.35" fill="#cf1430"/>
<text x="462.90" y="502.99" font-size="7.8" fill="#231f20" stroke="#231f20" stroke-width="0.12" textLength="29.4" lengthAdjust="spacingAndGlyphs" >CRP PPP</text>
<text x="6.95" y="604.70" font-size="11.6" fill="#000" font-weight="bold" textLength="9.299999999999999" lengthAdjust="spacingAndGlyphs" stroke="#000" stroke-width="0.5">Ji</text>
<line x1="44.20" y1="611.60" x2="44.20" y2="691.70" stroke="#3a3a3a" stroke-width="1.6" />
<line x1="41.20" y1="691.20" x2="44.20" y2="691.20" stroke="#3a3a3a" stroke-width="1.0" />
<text x="37.70" y="694.03" font-size="8.2" fill="#231f20" stroke="#231f20" stroke-width="0.12" text-anchor="end" textLength="10.1" lengthAdjust="spacingAndGlyphs" >6.0</text>
<line x1="41.20" y1="675.98" x2="44.20" y2="675.98" stroke="#3a3a3a" stroke-width="1.0" />
<text x="37.70" y="678.81" font-size="8.2" fill="#231f20" stroke="#231f20" stroke-width="0.12" text-anchor="end" textLength="10.1" lengthAdjust="spacingAndGlyphs" >6.5</text>
<line x1="41.20" y1="660.76" x2="44.20" y2="660.76" stroke="#3a3a3a" stroke-width="1.0" />
<text x="37.70" y="663.59" font-size="8.2" fill="#231f20" stroke="#231f20" stroke-width="0.12" text-anchor="end" textLength="10.1" lengthAdjust="spacingAndGlyphs" >7.0</text>
<line x1="41.20" y1="645.54" x2="44.20" y2="645.54" stroke="#3a3a3a" stroke-width="1.0" />
<text x="37.70" y="648.37" font-size="8.2" fill="#231f20" stroke="#231f20" stroke-width="0.12" text-anchor="end" textLength="10.1" lengthAdjust="spacingAndGlyphs" >7.5</text>
<line x1="41.20" y1="630.32" x2="44.20" y2="630.32" stroke="#3a3a3a" stroke-width="1.0" />
<text x="37.70" y="633.15" font-size="8.2" fill="#231f20" stroke="#231f20" stroke-width="0.12" text-anchor="end" textLength="10.1" lengthAdjust="spacingAndGlyphs" >8.0</text>
<line x1="41.20" y1="615.10" x2="44.20" y2="615.10" stroke="#3a3a3a" stroke-width="1.0" />
<text x="37.70" y="617.93" font-size="8.2" fill="#231f20" stroke="#231f20" stroke-width="0.12" text-anchor="end" textLength="10.1" lengthAdjust="spacingAndGlyphs" >8.5</text>
<rect x="50.20" y="651.02" width="9.00" height="40.18" fill="#87a5c3"/>
<circle cx="53.69" cy="621.19" r="1.35" fill="#1c4f8c"/>
<circle cx="52.67" cy="639.45" r="1.35" fill="#1c4f8c"/>
<circle cx="52.91" cy="654.67" r="1.35" fill="#1c4f8c"/>
<circle cx="56.21" cy="669.89" r="1.35" fill="#1c4f8c"/>
<circle cx="53.74" cy="669.89" r="1.35" fill="#1c4f8c"/>
<line x1="54.70" y1="641.58" x2="54.70" y2="660.46" stroke="#231f20" stroke-width="0.9" />
<line x1="52.10" y1="641.58" x2="57.30" y2="641.58" stroke="#231f20" stroke-width="0.9" />
<line x1="52.10" y1="660.46" x2="57.30" y2="660.46" stroke="#231f20" stroke-width="0.9" />
<line x1="51.19" y1="651.02" x2="58.21" y2="651.02" stroke="#231f20" stroke-width="0.9" />
<rect x="62.00" y="656.19" width="9.30" height="35.01" fill="#de8797"/>
<circle cx="68.68" cy="636.41" r="1.35" fill="#cf1430"/>
<circle cx="65.48" cy="642.50" r="1.35" fill="#cf1430"/>
<circle cx="65.56" cy="642.50" r="1.35" fill="#cf1430"/>
<circle cx="66.70" cy="675.98" r="1.35" fill="#cf1430"/>
<circle cx="65.21" cy="682.07" r="1.35" fill="#cf1430"/>
<line x1="66.65" y1="646.45" x2="66.65" y2="665.93" stroke="#231f20" stroke-width="0.9" />
<line x1="64.05" y1="646.45" x2="69.25" y2="646.45" stroke="#231f20" stroke-width="0.9" />
<line x1="64.05" y1="665.93" x2="69.25" y2="665.93" stroke="#231f20" stroke-width="0.9" />
<line x1="63.14" y1="656.19" x2="70.16" y2="656.19" stroke="#231f20" stroke-width="0.9" />
<rect x="76.60" y="629.71" width="9.40" height="61.49" fill="#87a5c3"/>
<circle cx="80.53" cy="628.19" r="1.35" fill="#1c4f8c"/>
<circle cx="84.09" cy="628.80" r="1.35" fill="#1c4f8c"/>
<circle cx="83.65" cy="629.41" r="1.35" fill="#1c4f8c"/>
<circle cx="83.21" cy="630.32" r="1.35" fill="#1c4f8c"/>
<circle cx="82.10" cy="631.23" r="1.35" fill="#1c4f8c"/>
<line x1="81.30" y1="629.10" x2="81.30" y2="630.32" stroke="#231f20" stroke-width="0.9" />
<line x1="78.70" y1="629.10" x2="83.90" y2="629.10" stroke="#231f20" stroke-width="0.9" />
<line x1="78.70" y1="630.32" x2="83.90" y2="630.32" stroke="#231f20" stroke-width="0.9" />
<line x1="77.79" y1="629.71" x2="84.81" y2="629.71" stroke="#231f20" stroke-width="0.9" />
<rect x="89.20" y="630.93" width="9.10" height="60.27" fill="#de8797"/>
<circle cx="96.20" cy="629.71" r="1.35" fill="#cf1430"/>
<circle cx="96.36" cy="630.32" r="1.35" fill="#cf1430"/>
<circle cx="94.04" cy="630.93" r="1.35" fill="#cf1430"/>
<circle cx="95.05" cy="631.54" r="1.35" fill="#cf1430"/>
<circle cx="91.09" cy="632.15" r="1.35" fill="#cf1430"/>
<line x1="93.75" y1="630.32" x2="93.75" y2="631.54" stroke="#231f20" stroke-width="0.9" />
<line x1="91.15" y1="630.32" x2="96.35" y2="630.32" stroke="#231f20" stroke-width="0.9" />
<line x1="91.15" y1="631.54" x2="96.35" y2="631.54" stroke="#231f20" stroke-width="0.9" />
<line x1="90.24" y1="630.93" x2="97.26" y2="630.93" stroke="#231f20" stroke-width="0.9" />
<rect x="104.00" y="683.62" width="9.70" height="7.58" fill="#87a5c3"/>
<circle cx="110.31" cy="677.94" r="1.35" fill="#1c4f8c"/>
<circle cx="108.54" cy="679.83" r="1.35" fill="#1c4f8c"/>
<circle cx="110.44" cy="682.67" r="1.35" fill="#1c4f8c"/>
<circle cx="109.76" cy="685.51" r="1.35" fill="#1c4f8c"/>
<circle cx="107.50" cy="687.41" r="1.35" fill="#1c4f8c"/>
<circle cx="106.01" cy="688.36" r="1.35" fill="#1c4f8c"/>
<line x1="108.85" y1="681.91" x2="108.85" y2="685.33" stroke="#231f20" stroke-width="0.9" />
<line x1="106.25" y1="681.91" x2="111.45" y2="681.91" stroke="#231f20" stroke-width="0.9" />
<line x1="106.25" y1="685.33" x2="111.45" y2="685.33" stroke="#231f20" stroke-width="0.9" />
<line x1="105.34" y1="683.62" x2="112.36" y2="683.62" stroke="#231f20" stroke-width="0.9" />
<rect x="116.50" y="684.00" width="9.70" height="7.20" fill="#de8797"/>
<circle cx="124.04" cy="678.88" r="1.35" fill="#cf1430"/>
<circle cx="119.00" cy="681.73" r="1.35" fill="#cf1430"/>
<circle cx="121.17" cy="683.62" r="1.35" fill="#cf1430"/>
<circle cx="120.36" cy="686.46" r="1.35" fill="#cf1430"/>
<circle cx="120.07" cy="687.41" r="1.35" fill="#cf1430"/>
<circle cx="122.86" cy="688.36" r="1.35" fill="#cf1430"/>
<line x1="121.35" y1="682.58" x2="121.35" y2="685.42" stroke="#231f20" stroke-width="0.9" />
<line x1="118.75" y1="682.58" x2="123.95" y2="682.58" stroke="#231f20" stroke-width="0.9" />
<line x1="118.75" y1="685.42" x2="123.95" y2="685.42" stroke="#231f20" stroke-width="0.9" />
<line x1="117.84" y1="684.00" x2="124.86" y2="684.00" stroke="#231f20" stroke-width="0.9" />
<rect x="131.00" y="633.69" width="9.60" height="57.51" fill="#87a5c3"/>
<circle cx="138.77" cy="632.46" r="1.35" fill="#1c4f8c"/>
<circle cx="134.30" cy="632.93" r="1.35" fill="#1c4f8c"/>
<circle cx="136.77" cy="633.40" r="1.35" fill="#1c4f8c"/>
<circle cx="134.56" cy="634.35" r="1.35" fill="#1c4f8c"/>
<circle cx="136.16" cy="634.35" r="1.35" fill="#1c4f8c"/>
<line x1="135.80" y1="633.12" x2="135.80" y2="634.26" stroke="#231f20" stroke-width="0.9" />
<line x1="133.20" y1="633.12" x2="138.40" y2="633.12" stroke="#231f20" stroke-width="0.9" />
<line x1="133.20" y1="634.26" x2="138.40" y2="634.26" stroke="#231f20" stroke-width="0.9" />
<line x1="132.29" y1="633.69" x2="139.31" y2="633.69" stroke="#231f20" stroke-width="0.9" />
<rect x="143.50" y="641.93" width="9.50" height="49.27" fill="#de8797"/>
<circle cx="147.60" cy="635.30" r="1.35" fill="#cf1430"/>
<circle cx="146.20" cy="638.14" r="1.35" fill="#cf1430"/>
<circle cx="146.16" cy="643.83" r="1.35" fill="#cf1430"/>
<circle cx="146.45" cy="643.83" r="1.35" fill="#cf1430"/>
<circle cx="150.76" cy="643.83" r="1.35" fill="#cf1430"/>
<line x1="148.25" y1="640.03" x2="148.25" y2="643.83" stroke="#231f20" stroke-width="0.9" />
<line x1="145.65" y1="640.03" x2="150.85" y2="640.03" stroke="#231f20" stroke-width="0.9" />
<line x1="145.65" y1="643.83" x2="150.85" y2="643.83" stroke="#231f20" stroke-width="0.9" />
<line x1="144.74" y1="641.93" x2="151.76" y2="641.93" stroke="#231f20" stroke-width="0.9" />
<line x1="73.90" y1="615.00" x2="73.90" y2="690.00" stroke="#1a1a1a" stroke-width="1.15" stroke-dasharray="1.2 1.0"/>
<line x1="43.40" y1="691.20" x2="158.90" y2="691.20" stroke="#111" stroke-width="1.1" />
<line x1="158.90" y1="611.50" x2="158.90" y2="691.70" stroke="#3a3a3a" stroke-width="1.6" />
<line x1="158.90" y1="691.20" x2="161.90" y2="691.20" stroke="#3a3a3a" stroke-width="1.0" />
<text x="165.40" y="694.03" font-size="8.2" fill="#231f20" stroke="#231f20" stroke-width="0.12" textLength="4.1" lengthAdjust="spacingAndGlyphs" >0</text>
<line x1="158.90" y1="672.25" x2="161.90" y2="672.25" stroke="#3a3a3a" stroke-width="1.0" />
<text x="165.40" y="675.08" font-size="8.2" fill="#231f20" stroke="#231f20" stroke-width="0.12" textLength="8.2" lengthAdjust="spacingAndGlyphs" >20</text>
<line x1="158.90" y1="653.30" x2="161.90" y2="653.30" stroke="#3a3a3a" stroke-width="1.0" />
<text x="165.40" y="656.13" font-size="8.2" fill="#231f20" stroke="#231f20" stroke-width="0.12" textLength="8.2" lengthAdjust="spacingAndGlyphs" >40</text>
<line x1="158.90" y1="634.35" x2="161.90" y2="634.35" stroke="#3a3a3a" stroke-width="1.0" />
<text x="165.40" y="637.18" font-size="8.2" fill="#231f20" stroke="#231f20" stroke-width="0.12" textLength="8.2" lengthAdjust="spacingAndGlyphs" >60</text>
<line x1="158.90" y1="615.40" x2="161.90" y2="615.40" stroke="#3a3a3a" stroke-width="1.0" />
<text x="165.40" y="618.23" font-size="8.2" fill="#231f20" stroke="#231f20" stroke-width="0.12" textLength="8.2" lengthAdjust="spacingAndGlyphs" >80</text>
<line x1="52.72" y1="695.30" x2="95.28" y2="695.30" stroke="#2a2a2a" stroke-width="1.25" />
<path d="M50.20,695.30 L54.40,693.00 L54.40,697.60 Z" fill="#231f20"/>
<path d="M97.80,695.30 L93.60,693.00 L93.60,697.60 Z" fill="#231f20"/>
<line x1="106.52" y1="695.30" x2="122.18" y2="695.30" stroke="#2a2a2a" stroke-width="1.25" />
<path d="M104.00,695.30 L108.20,693.00 L108.20,697.60 Z" fill="#231f20"/>
<path d="M124.70,695.30 L120.50,693.00 L120.50,697.60 Z" fill="#231f20"/>
<line x1="135.42" y1="695.30" x2="151.08" y2="695.30" stroke="#2a2a2a" stroke-width="1.25" />
<path d="M132.90,695.30 L137.10,693.00 L137.10,697.60 Z" fill="#231f20"/>
<path d="M153.60,695.30 L149.40,693.00 L149.40,697.60 Z" fill="#231f20"/>
<text x="73.00" y="705.06" font-size="8.0" fill="#231f20" stroke="#231f20" stroke-width="0.12" text-anchor="middle" textLength="15.5" lengthAdjust="spacingAndGlyphs" >HKH</text>
<text x="114.30" y="705.06" font-size="8.0" fill="#231f20" stroke="#231f20" stroke-width="0.12" text-anchor="middle" textLength="15.5" lengthAdjust="spacingAndGlyphs" >ActF</text>
<text x="143.40" y="705.06" font-size="8.0" fill="#231f20" stroke="#231f20" stroke-width="0.12" text-anchor="middle" textLength="14.0" lengthAdjust="spacingAndGlyphs" >ADP</text>
<line x1="134.30" y1="622.80" x2="149.30" y2="622.80" stroke="#3a3a3a" stroke-width="1.1" />
<line x1="134.30" y1="620.10" x2="134.30" y2="625.50" stroke="#222" stroke-width="1.1" />
<line x1="149.30" y1="620.10" x2="149.30" y2="625.50" stroke="#222" stroke-width="1.1" />
<text x="148.30" y="631.57" font-size="6.3" fill="#231f20" stroke="#231f20" stroke-width="0.12" text-anchor="middle" textLength="7.2" lengthAdjust="spacingAndGlyphs" >##</text>
<text transform="translate(22.90,653.20) rotate(-90)" font-size="10.0" fill="#231f20" text-anchor="middle" stroke="#231f20" stroke-width="0.12" textLength="88.3" lengthAdjust="spacingAndGlyphs">Reaction initiation R [sec]</text>
<text transform="translate(178.20,654.00) rotate(90)" font-size="10.0" fill="#231f20" text-anchor="middle" stroke="#231f20" stroke-width="0.12" textLength="79.4" lengthAdjust="spacingAndGlyphs">Clot strength MA [mm]</text>
<circle cx="44.70" cy="602.20" r="1.35" fill="#1c4f8c"/>
<text x="49.30" y="604.89" font-size="7.8" fill="#231f20" stroke="#231f20" stroke-width="0.12" textLength="48.8" lengthAdjust="spacingAndGlyphs" >Vehicle control</text>
<circle cx="105.00" cy="602.50" r="1.35" fill="#cf1430"/>
<text x="109.80" y="605.19" font-size="7.8" fill="#231f20" stroke="#231f20" stroke-width="0.12" textLength="49.4" lengthAdjust="spacingAndGlyphs" >CXCR7 agonist</text>
<text x="225.55" y="604.80" font-size="11.6" fill="#000" font-weight="bold" textLength="12.1" lengthAdjust="spacingAndGlyphs" stroke="#000" stroke-width="0.5">Jii</text>
<line x1="263.40" y1="606.50" x2="263.40" y2="691.60" stroke="#3a3a3a" stroke-width="1.6" />
<line x1="260.40" y1="691.10" x2="263.40" y2="691.10" stroke="#3a3a3a" stroke-width="1.0" />
<text x="256.90" y="693.93" font-size="8.2" fill="#231f20" stroke="#231f20" stroke-width="0.12" text-anchor="end" textLength="8.2" lengthAdjust="spacingAndGlyphs" >60</text>
<line x1="260.40" y1="674.90" x2="263.40" y2="674.90" stroke="#3a3a3a" stroke-width="1.0" />
<text x="256.90" y="677.73" font-size="8.2" fill="#231f20" stroke="#231f20" stroke-width="0.12" text-anchor="end" textLength="8.2" lengthAdjust="spacingAndGlyphs" >70</text>
<line x1="260.40" y1="658.70" x2="263.40" y2="658.70" stroke="#3a3a3a" stroke-width="1.0" />
<text x="256.90" y="661.53" font-size="8.2" fill="#231f20" stroke="#231f20" stroke-width="0.12" text-anchor="end" textLength="8.2" lengthAdjust="spacingAndGlyphs" >80</text>
<line x1="260.40" y1="642.50" x2="263.40" y2="642.50" stroke="#3a3a3a" stroke-width="1.0" />
<text x="256.90" y="645.33" font-size="8.2" fill="#231f20" stroke="#231f20" stroke-width="0.12" text-anchor="end" textLength="8.2" lengthAdjust="spacingAndGlyphs" >90</text>
<line x1="260.40" y1="626.30" x2="263.40" y2="626.30" stroke="#3a3a3a" stroke-width="1.0" />
<text x="256.90" y="629.13" font-size="8.2" fill="#231f20" stroke="#231f20" stroke-width="0.12" text-anchor="end" textLength="12.3" lengthAdjust="spacingAndGlyphs" >100</text>
<line x1="260.40" y1="610.10" x2="263.40" y2="610.10" stroke="#3a3a3a" stroke-width="1.0" />
<text x="256.90" y="612.93" font-size="8.2" fill="#231f20" stroke="#231f20" stroke-width="0.12" text-anchor="end" textLength="12.3" lengthAdjust="spacingAndGlyphs" >110</text>
<rect x="270.60" y="635.53" width="13.10" height="55.57" fill="#87a5c3"/>
<line x1="277.15" y1="632.62" x2="277.15" y2="638.45" stroke="#231f20" stroke-width="0.9" />
<line x1="273.95" y1="632.62" x2="280.35" y2="632.62" stroke="#231f20" stroke-width="0.9" />
<line x1="273.95" y1="638.45" x2="280.35" y2="638.45" stroke="#231f20" stroke-width="0.9" />
<line x1="272.83" y1="635.53" x2="281.47" y2="635.53" stroke="#231f20" stroke-width="0.9" />
<circle cx="277.20" cy="626.30" r="1.4" fill="#1c4f8c"/>
<circle cx="274.20" cy="631.48" r="1.4" fill="#1c4f8c"/>
<circle cx="280.20" cy="631.48" r="1.4" fill="#1c4f8c"/>
<circle cx="274.20" cy="642.82" r="1.4" fill="#1c4f8c"/>
<circle cx="280.20" cy="642.82" r="1.4" fill="#1c4f8c"/>
<rect x="287.50" y="658.21" width="13.10" height="32.89" fill="#de8797"/>
<line x1="294.05" y1="651.73" x2="294.05" y2="664.69" stroke="#231f20" stroke-width="0.9" />
<line x1="290.85" y1="651.73" x2="297.25" y2="651.73" stroke="#231f20" stroke-width="0.9" />
<line x1="290.85" y1="664.69" x2="297.25" y2="664.69" stroke="#231f20" stroke-width="0.9" />
<line x1="289.73" y1="658.21" x2="298.37" y2="658.21" stroke="#231f20" stroke-width="0.9" />
<circle cx="294.00" cy="637.64" r="1.4" fill="#cf1430"/>
<circle cx="294.00" cy="646.23" r="1.4" fill="#cf1430"/>
<circle cx="294.00" cy="656.27" r="1.4" fill="#cf1430"/>
<circle cx="294.00" cy="666.31" r="1.4" fill="#cf1430"/>
<circle cx="294.00" cy="674.58" r="1.4" fill="#cf1430"/>
<rect x="308.20" y="679.29" width="12.80" height="11.81" fill="#87a5c3"/>
<line x1="314.60" y1="675.22" x2="314.60" y2="683.37" stroke="#231f20" stroke-width="0.9" />
<line x1="311.40" y1="675.22" x2="317.80" y2="675.22" stroke="#231f20" stroke-width="0.9" />
<line x1="311.40" y1="683.37" x2="317.80" y2="683.37" stroke="#231f20" stroke-width="0.9" />
<line x1="310.28" y1="679.29" x2="318.92" y2="679.29" stroke="#231f20" stroke-width="0.9" />
<circle cx="311.50" cy="669.51" r="1.4" fill="#1c4f8c"/>
<circle cx="317.50" cy="669.51" r="1.4" fill="#1c4f8c"/>
<circle cx="314.60" cy="682.35" r="1.4" fill="#1c4f8c"/>
<circle cx="314.60" cy="690.50" r="1.4" fill="#1c4f8c"/>
<rect x="325.20" y="651.38" width="13.10" height="39.72" fill="#de8797"/>
<circle cx="331.75" cy="629.38" r="1.35" fill="#cf1430"/>
<circle cx="331.38" cy="636.51" r="1.35" fill="#cf1430"/>
<circle cx="332.28" cy="651.79" r="1.35" fill="#cf1430"/>
<circle cx="332.40" cy="664.01" r="1.35" fill="#cf1430"/>
<circle cx="331.68" cy="676.24" r="1.35" fill="#cf1430"/>
<line x1="331.75" y1="643.23" x2="331.75" y2="659.53" stroke="#231f20" stroke-width="0.9" />
<line x1="328.55" y1="643.23" x2="334.95" y2="643.23" stroke="#231f20" stroke-width="0.9" />
<line x1="328.55" y1="659.53" x2="334.95" y2="659.53" stroke="#231f20" stroke-width="0.9" />
<line x1="327.43" y1="651.38" x2="336.07" y2="651.38" stroke="#231f20" stroke-width="0.9" />
<line x1="304.40" y1="610.00" x2="304.40" y2="690.50" stroke="#1a1a1a" stroke-width="1.15" stroke-dasharray="1.2 1.0"/>
<line x1="262.60" y1="691.10" x2="344.70" y2="691.10" stroke="#111" stroke-width="1.1" />
<line x1="344.70" y1="605.90" x2="344.70" y2="691.60" stroke="#3a3a3a" stroke-width="1.6" />
<line x1="344.70" y1="690.50" x2="347.70" y2="690.50" stroke="#3a3a3a" stroke-width="1.0" />
<text x="351.20" y="693.33" font-size="8.2" fill="#231f20" stroke="#231f20" stroke-width="0.12" textLength="4.1" lengthAdjust="spacingAndGlyphs" >0</text>
<line x1="344.70" y1="670.12" x2="347.70" y2="670.12" stroke="#3a3a3a" stroke-width="1.0" />
<text x="351.20" y="672.95" font-size="8.2" fill="#231f20" stroke="#231f20" stroke-width="0.12" textLength="8.2" lengthAdjust="spacingAndGlyphs" >10</text>
<line x1="344.70" y1="649.75" x2="347.70" y2="649.75" stroke="#3a3a3a" stroke-width="1.0" />
<text x="351.20" y="652.58" font-size="8.2" fill="#231f20" stroke="#231f20" stroke-width="0.12" textLength="8.2" lengthAdjust="spacingAndGlyphs" >20</text>
<line x1="344.70" y1="629.38" x2="347.70" y2="629.38" stroke="#3a3a3a" stroke-width="1.0" />
<text x="351.20" y="632.20" font-size="8.2" fill="#231f20" stroke="#231f20" stroke-width="0.12" textLength="8.2" lengthAdjust="spacingAndGlyphs" >30</text>
<line x1="344.70" y1="609.00" x2="347.70" y2="609.00" stroke="#3a3a3a" stroke-width="1.0" />
<text x="351.20" y="611.83" font-size="8.2" fill="#231f20" stroke="#231f20" stroke-width="0.12" textLength="8.2" lengthAdjust="spacingAndGlyphs" >40</text>
<line x1="277.30" y1="618.20" x2="295.30" y2="618.20" stroke="#3a3a3a" stroke-width="1.1" />
<line x1="277.30" y1="616.00" x2="277.30" y2="620.40" stroke="#222" stroke-width="1.1" />
<line x1="295.30" y1="616.00" x2="295.30" y2="620.40" stroke="#222" stroke-width="1.1" />
<text x="286.40" y="629.35" font-size="9.0" fill="#231f20" stroke="#231f20" text-anchor="middle" textLength="6.1000000000000005" lengthAdjust="spacingAndGlyphs" stroke-width="0.35">**</text>
<line x1="314.60" y1="621.20" x2="332.60" y2="621.20" stroke="#3a3a3a" stroke-width="1.1" />
<line x1="314.60" y1="619.00" x2="314.60" y2="623.40" stroke="#222" stroke-width="1.1" />
<line x1="332.60" y1="619.00" x2="332.60" y2="623.40" stroke="#222" stroke-width="1.1" />
<text x="323.00" y="631.95" font-size="9.0" fill="#231f20" stroke="#231f20" text-anchor="middle" textLength="6.1000000000000005" lengthAdjust="spacingAndGlyphs" stroke-width="0.35">**</text>
<text transform="translate(240.30,650.90) rotate(-90)" font-size="10.0" fill="#231f20" text-anchor="middle" stroke="#231f20" stroke-width="0.12" textLength="70.9" lengthAdjust="spacingAndGlyphs">ADP aggregation (%)</text>
<text transform="translate(364.10,648.20) rotate(90)" font-size="10.0" fill="#231f20" text-anchor="middle" stroke="#231f20" stroke-width="0.12" textLength="63.6" lengthAdjust="spacingAndGlyphs">ADP inhibition (%)</text>
<rect x="0.5" y="0.5" width="519" height="711" fill="none" stroke="#000" stroke-width="1.1"/>
</svg>
</body></html>
